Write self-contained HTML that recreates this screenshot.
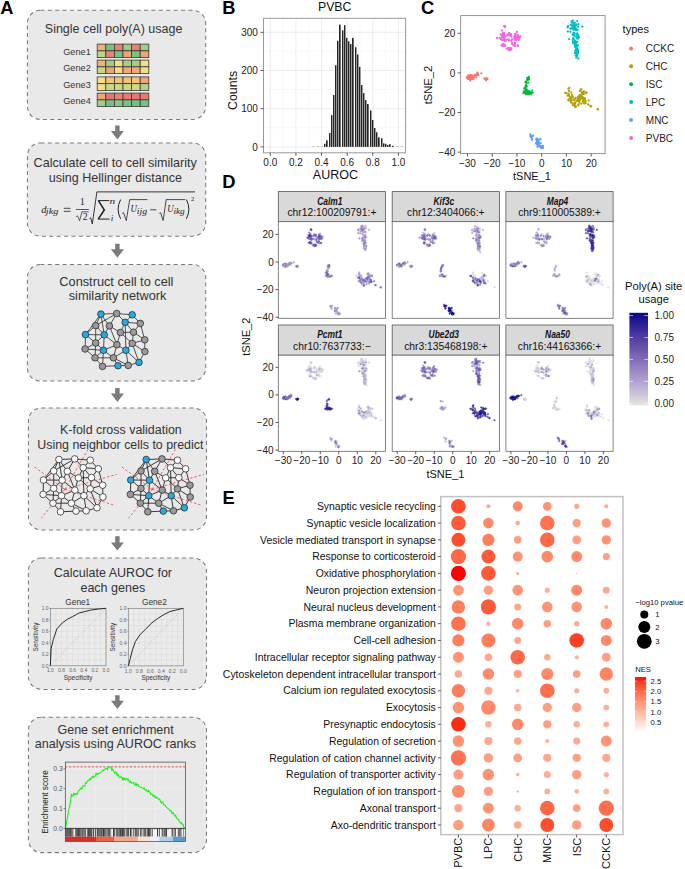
<!DOCTYPE html>
<html><head><meta charset="utf-8"><style>
html,body{margin:0;padding:0;background:#fff;}
svg{display:block;}
text{font-family:"Liberation Sans", sans-serif;}
.c circle{r:1.15px;}
.d circle{r:0.8px;}
.d{fill-opacity:.5;stroke-width:.45;stroke-opacity:.9;}
.q0{fill:#e4e4e4;stroke:#e4e4e4}.q1{fill:#dbd9e0;stroke:#dbd9e0}.q2{fill:#d3cfdd;stroke:#d3cfdd}.q3{fill:#cbc4da;stroke:#cbc4da}.q4{fill:#c2bad6;stroke:#c2bad6}.q5{fill:#baafd3;stroke:#baafd3}.q6{fill:#b2a5d0;stroke:#b2a5d0}.q7{fill:#a99bcc;stroke:#a99bcc}.q8{fill:#a192c8;stroke:#a192c8}.q9{fill:#9988c4;stroke:#9988c4}.q10{fill:#907fc0;stroke:#907fc0}.q11{fill:#8875bc;stroke:#8875bc}.q12{fill:#806cb8;stroke:#806cb8}.q13{fill:#7763b4;stroke:#7763b4}.q14{fill:#6f5ab0;stroke:#6f5ab0}.q15{fill:#6752ac;stroke:#6752ac}.q16{fill:#5e49a8;stroke:#5e49a8}.q17{fill:#5640a4;stroke:#5640a4}.q18{fill:#4e38a0;stroke:#4e38a0}.q19{fill:#42309c;stroke:#42309c}.q20{fill:#362798;stroke:#362798}.q21{fill:#2b2094;stroke:#2b2094}.q22{fill:#1f1890;stroke:#1f1890}.q23{fill:#130f8c;stroke:#130f8c}.q24{fill:#080888;stroke:#080888}
</style></head><body>
<svg width="685" height="869" viewBox="0 0 685 869">
<text x="0.3" y="14" font-size="18.3" fill="#000" font-weight="bold">A</text>
<text x="222.2" y="14" font-size="18.3" fill="#000" font-weight="bold">B</text>
<text x="421" y="14" font-size="18.3" fill="#000" font-weight="bold">C</text>
<text x="222.2" y="188.4" font-size="18.3" fill="#000" font-weight="bold">D</text>
<text x="222.6" y="504.2" font-size="18.3" fill="#000" font-weight="bold">E</text>
<rect x="27.4" y="10.3" width="178.3" height="109.1" rx="13" ry="13" fill="#e9e9e9" stroke="#7a7a7a" stroke-width="1.05" stroke-dasharray="4 3.4"/>
<rect x="27.4" y="142.9" width="178.3" height="93.3" rx="13" ry="13" fill="#e9e9e9" stroke="#7a7a7a" stroke-width="1.05" stroke-dasharray="4 3.4"/>
<rect x="27.4" y="264.5" width="178.3" height="116.5" rx="13" ry="13" fill="#e9e9e9" stroke="#7a7a7a" stroke-width="1.05" stroke-dasharray="4 3.4"/>
<rect x="28.4" y="408" width="178.1" height="122" rx="13" ry="13" fill="#e9e9e9" stroke="#7a7a7a" stroke-width="1.05" stroke-dasharray="4 3.4"/>
<rect x="28.4" y="558" width="178.1" height="131.4" rx="13" ry="13" fill="#e9e9e9" stroke="#7a7a7a" stroke-width="1.05" stroke-dasharray="4 3.4"/>
<rect x="28.4" y="717.3" width="178.1" height="135.3" rx="13" ry="13" fill="#e9e9e9" stroke="#7a7a7a" stroke-width="1.05" stroke-dasharray="4 3.4"/>
<path d="M115.2,125.4 L119.6,125.4 L119.6,131 L123.9,131 L117.4,139.4 L110.9,131 L115.2,131 Z" fill="#7b7b7b"/>
<path d="M115.2,243.8 L119.6,243.8 L119.6,249.3 L123.9,249.3 L117.4,257.7 L110.9,249.3 L115.2,249.3 Z" fill="#7b7b7b"/>
<path d="M115.2,387.9 L119.6,387.9 L119.6,393.5 L123.9,393.5 L117.4,401.9 L110.9,393.5 L115.2,393.5 Z" fill="#7b7b7b"/>
<path d="M115.2,536.3 L119.6,536.3 L119.6,542.4 L123.9,542.4 L117.4,550.5 L110.9,542.4 L115.2,542.4 Z" fill="#7b7b7b"/>
<path d="M115.2,695.2 L119.6,695.2 L119.6,700.8 L123.9,700.8 L117.4,709 L110.9,700.8 L115.2,700.8 Z" fill="#7b7b7b"/>
<text x="44.8" y="32.7" font-size="12.5" fill="#333">Single cell poly(A) usage</text>
<text x="63.2" y="54.7" font-size="9.2" fill="#333">Gene1</text>
<rect x="97.2" y="44.1" width="8.6" height="6.75" fill="#f0b275" stroke="#3a3a3a" stroke-width="0.8"/>
<rect x="105.8" y="44.1" width="8.6" height="6.75" fill="#79c183" stroke="#3a3a3a" stroke-width="0.8"/>
<rect x="114.4" y="44.1" width="8.6" height="6.75" fill="#ea8272" stroke="#3a3a3a" stroke-width="0.8"/>
<rect x="123" y="44.1" width="8.6" height="6.75" fill="#9dcb83" stroke="#3a3a3a" stroke-width="0.8"/>
<rect x="131.6" y="44.1" width="8.6" height="6.75" fill="#ea8272" stroke="#3a3a3a" stroke-width="0.8"/>
<rect x="140.2" y="44.1" width="8.6" height="6.75" fill="#a2cc83" stroke="#3a3a3a" stroke-width="0.8"/>
<rect x="97.2" y="50.85" width="8.6" height="6.75" fill="#bcd383" stroke="#3a3a3a" stroke-width="0.8"/>
<rect x="105.8" y="50.85" width="8.6" height="6.75" fill="#ea8272" stroke="#3a3a3a" stroke-width="0.8"/>
<rect x="114.4" y="50.85" width="8.6" height="6.75" fill="#79c183" stroke="#3a3a3a" stroke-width="0.8"/>
<rect x="123" y="50.85" width="8.6" height="6.75" fill="#f0a476" stroke="#3a3a3a" stroke-width="0.8"/>
<rect x="131.6" y="50.85" width="8.6" height="6.75" fill="#79c183" stroke="#3a3a3a" stroke-width="0.8"/>
<rect x="140.2" y="50.85" width="8.6" height="6.75" fill="#f0a476" stroke="#3a3a3a" stroke-width="0.8"/>
<text x="63.2" y="70.7" font-size="9.2" fill="#333">Gene2</text>
<rect x="97.2" y="60.1" width="8.6" height="6.75" fill="#f0b275" stroke="#3a3a3a" stroke-width="0.8"/>
<rect x="105.8" y="60.1" width="8.6" height="6.75" fill="#a2cc83" stroke="#3a3a3a" stroke-width="0.8"/>
<rect x="114.4" y="60.1" width="8.6" height="6.75" fill="#f1de85" stroke="#3a3a3a" stroke-width="0.8"/>
<rect x="123" y="60.1" width="8.6" height="6.75" fill="#a8ce83" stroke="#3a3a3a" stroke-width="0.8"/>
<rect x="131.6" y="60.1" width="8.6" height="6.75" fill="#a8ce83" stroke="#3a3a3a" stroke-width="0.8"/>
<rect x="140.2" y="60.1" width="8.6" height="6.75" fill="#f1de85" stroke="#3a3a3a" stroke-width="0.8"/>
<rect x="97.2" y="66.85" width="8.6" height="6.75" fill="#c7d884" stroke="#3a3a3a" stroke-width="0.8"/>
<rect x="105.8" y="66.85" width="8.6" height="6.75" fill="#f0a476" stroke="#3a3a3a" stroke-width="0.8"/>
<rect x="114.4" y="66.85" width="8.6" height="6.75" fill="#f1de85" stroke="#3a3a3a" stroke-width="0.8"/>
<rect x="123" y="66.85" width="8.6" height="6.75" fill="#f0aa77" stroke="#3a3a3a" stroke-width="0.8"/>
<rect x="131.6" y="66.85" width="8.6" height="6.75" fill="#f0aa77" stroke="#3a3a3a" stroke-width="0.8"/>
<rect x="140.2" y="66.85" width="8.6" height="6.75" fill="#f1de85" stroke="#3a3a3a" stroke-width="0.8"/>
<text x="63.2" y="87.5" font-size="9.2" fill="#333">Gene3</text>
<rect x="97.2" y="76.9" width="8.6" height="6.75" fill="#f1de85" stroke="#3a3a3a" stroke-width="0.8"/>
<rect x="105.8" y="76.9" width="8.6" height="6.75" fill="#f0c27a" stroke="#3a3a3a" stroke-width="0.8"/>
<rect x="114.4" y="76.9" width="8.6" height="6.75" fill="#f0c27a" stroke="#3a3a3a" stroke-width="0.8"/>
<rect x="123" y="76.9" width="8.6" height="6.75" fill="#f0c27a" stroke="#3a3a3a" stroke-width="0.8"/>
<rect x="131.6" y="76.9" width="8.6" height="6.75" fill="#f0c27a" stroke="#3a3a3a" stroke-width="0.8"/>
<rect x="140.2" y="76.9" width="8.6" height="6.75" fill="#f0a476" stroke="#3a3a3a" stroke-width="0.8"/>
<rect x="97.2" y="83.65" width="8.6" height="6.75" fill="#f1de85" stroke="#3a3a3a" stroke-width="0.8"/>
<rect x="105.8" y="83.65" width="8.6" height="6.75" fill="#c9d884" stroke="#3a3a3a" stroke-width="0.8"/>
<rect x="114.4" y="83.65" width="8.6" height="6.75" fill="#c9d884" stroke="#3a3a3a" stroke-width="0.8"/>
<rect x="123" y="83.65" width="8.6" height="6.75" fill="#c9d884" stroke="#3a3a3a" stroke-width="0.8"/>
<rect x="131.6" y="83.65" width="8.6" height="6.75" fill="#d0d985" stroke="#3a3a3a" stroke-width="0.8"/>
<rect x="140.2" y="83.65" width="8.6" height="6.75" fill="#b4d083" stroke="#3a3a3a" stroke-width="0.8"/>
<text x="63.2" y="103.7" font-size="9.2" fill="#333">Gene4</text>
<rect x="97.2" y="93.1" width="8.6" height="6.75" fill="#f0a476" stroke="#3a3a3a" stroke-width="0.8"/>
<rect x="105.8" y="93.1" width="8.6" height="6.75" fill="#e87474" stroke="#3a3a3a" stroke-width="0.8"/>
<rect x="114.4" y="93.1" width="8.6" height="6.75" fill="#ea8272" stroke="#3a3a3a" stroke-width="0.8"/>
<rect x="123" y="93.1" width="8.6" height="6.75" fill="#e87a72" stroke="#3a3a3a" stroke-width="0.8"/>
<rect x="131.6" y="93.1" width="8.6" height="6.75" fill="#e87474" stroke="#3a3a3a" stroke-width="0.8"/>
<rect x="140.2" y="93.1" width="8.6" height="6.75" fill="#e87a72" stroke="#3a3a3a" stroke-width="0.8"/>
<rect x="97.2" y="99.85" width="8.6" height="6.75" fill="#a2cc83" stroke="#3a3a3a" stroke-width="0.8"/>
<rect x="105.8" y="99.85" width="8.6" height="6.75" fill="#72c081" stroke="#3a3a3a" stroke-width="0.8"/>
<rect x="114.4" y="99.85" width="8.6" height="6.75" fill="#8ac682" stroke="#3a3a3a" stroke-width="0.8"/>
<rect x="123" y="99.85" width="8.6" height="6.75" fill="#79c183" stroke="#3a3a3a" stroke-width="0.8"/>
<rect x="131.6" y="99.85" width="8.6" height="6.75" fill="#72c081" stroke="#3a3a3a" stroke-width="0.8"/>
<rect x="140.2" y="99.85" width="8.6" height="6.75" fill="#79c183" stroke="#3a3a3a" stroke-width="0.8"/>
<text x="115.2" y="167.1" font-size="12.55" fill="#333" text-anchor="middle">Calculate cell to cell similarity</text>
<text x="115.4" y="181.5" font-size="12.55" fill="#333" text-anchor="middle">using Hellinger distance</text>
<text x="41.2" y="213.1" font-size="10.5" fill="#222" font-style="italic" textLength="5.2" lengthAdjust="spacingAndGlyphs" style='font-family:"Liberation Serif", serif'>d</text>
<text x="45.8" y="214.4" font-size="8.4" fill="#222" font-style="italic" textLength="12.6" lengthAdjust="spacingAndGlyphs" style='font-family:"Liberation Serif", serif'>jkg</text>
<path d="M63.8,208.3 L70.6,208.3 M63.8,211.3 L70.6,211.3" stroke="#222" stroke-width="0.8" fill="none"/>
<text x="82.3" y="204.9" font-size="9.3" fill="#222" text-anchor="middle" style='font-family:"Liberation Serif", serif'>1</text>
<line x1="76" y1="209.5" x2="88.9" y2="209.5" stroke="#222" stroke-width="0.75"/>
<path d="M76.3,216.6 L77.6,215.9 L79.6,220.8 L81.9,211.8 L88.6,211.8" fill="none" stroke="#222" stroke-width="0.7"/>
<text x="85.1" y="220.3" font-size="9.8" fill="#222" text-anchor="middle" style='font-family:"Liberation Serif", serif'>2</text>
<path d="M89.4,218.6 L90.7,217.8 L92.3,223.9 L96.9,191.9 L195,191.9" fill="none" stroke="#222" stroke-width="0.9"/>
<path d="M109.2,200.6 L98.4,200.6 L104.3,209.9 L98.2,219.1 L109.6,219.1" fill="none" stroke="#222" stroke-width="1.0"/>
<path d="M98.4,200.6 L104.3,209.9 L98.2,219.1" fill="none" stroke="#222" stroke-width="1.5"/>
<text x="109.6" y="204.3" font-size="8.4" fill="#222" font-style="italic" textLength="5.6" lengthAdjust="spacingAndGlyphs" style='font-family:"Liberation Serif", serif'>n</text>
<text x="110.7" y="220.6" font-size="8.4" fill="#222" font-style="italic" textLength="2.6" lengthAdjust="spacingAndGlyphs" style='font-family:"Liberation Serif", serif'>i</text>
<path d="M120.6,199.6 Q115.6,209.2 120.6,218.8" fill="none" stroke="#222" stroke-width="1"/>
<path d="M186.4,199.6 Q191.4,209.2 186.4,218.8" fill="none" stroke="#222" stroke-width="1"/>
<path d="M122.2,213.4 L123.5,212.7 L126.3,220.6 L129.7,199.6 L147.4,199.6" fill="none" stroke="#222" stroke-width="0.8"/>
<path d="M159.3,213.4 L160.6,212.7 L163.1,220.6 L166.2,199.6 L185.1,199.6" fill="none" stroke="#222" stroke-width="0.8"/>
<text x="130.4" y="211.9" font-size="10.0" fill="#222" font-style="italic" textLength="6.4" lengthAdjust="spacingAndGlyphs" style='font-family:"Liberation Serif", serif'>U</text>
<text x="136.8" y="213.6" font-size="8.2" fill="#222" font-style="italic" textLength="10.3" lengthAdjust="spacingAndGlyphs" style='font-family:"Liberation Serif", serif'>ijg</text>
<line x1="150.2" y1="209.8" x2="156.3" y2="209.8" stroke="#222" stroke-width="0.8"/>
<text x="167.2" y="211.9" font-size="10.0" fill="#222" font-style="italic" textLength="6.4" lengthAdjust="spacingAndGlyphs" style='font-family:"Liberation Serif", serif'>U</text>
<text x="173.4" y="213.6" font-size="8.2" fill="#222" font-style="italic" textLength="11.4" lengthAdjust="spacingAndGlyphs" style='font-family:"Liberation Serif", serif'>ikg</text>
<text x="190.9" y="200.9" font-size="6.5" fill="#222" style='font-family:"Liberation Serif", serif'>2</text>
<text x="116.4" y="286.1" font-size="12.75" fill="#333" text-anchor="middle">Construct cell to cell</text>
<text x="117.6" y="300.4" font-size="12.75" fill="#333" text-anchor="middle">similarity network</text>
<g transform="translate(42,-145.4)"><line x1="58.9" y1="459.5" x2="74.7" y2="458.9" stroke="#333" stroke-width="0.85"/><line x1="74.7" y1="458.9" x2="90.2" y2="460.2" stroke="#333" stroke-width="0.85"/><line x1="58.9" y1="459.5" x2="43.5" y2="480" stroke="#333" stroke-width="0.85"/><line x1="58.9" y1="459.5" x2="53.7" y2="471.0" stroke="#333" stroke-width="0.85"/><line x1="58.9" y1="459.5" x2="67.4" y2="471.3" stroke="#333" stroke-width="0.85"/><line x1="58.9" y1="459.5" x2="62.2" y2="480.2" stroke="#333" stroke-width="0.85"/><line x1="74.7" y1="458.9" x2="67.4" y2="471.3" stroke="#333" stroke-width="0.85"/><line x1="74.7" y1="458.9" x2="83.2" y2="467.7" stroke="#333" stroke-width="0.85"/><line x1="74.7" y1="458.9" x2="53.7" y2="471.0" stroke="#333" stroke-width="0.85"/><line x1="90.2" y1="460.2" x2="83.2" y2="467.7" stroke="#333" stroke-width="0.85"/><line x1="90.2" y1="460.2" x2="98.3" y2="468.8" stroke="#333" stroke-width="0.85"/><line x1="83.2" y1="467.7" x2="98.3" y2="468.8" stroke="#333" stroke-width="0.85"/><line x1="83.2" y1="467.7" x2="78.4" y2="477.9" stroke="#333" stroke-width="0.85"/><line x1="83.2" y1="467.7" x2="91.5" y2="477.6" stroke="#333" stroke-width="0.85"/><line x1="83.2" y1="467.7" x2="83.9" y2="495.7" stroke="#333" stroke-width="0.85"/><line x1="98.3" y1="468.8" x2="91.5" y2="477.6" stroke="#333" stroke-width="0.85"/><line x1="98.3" y1="468.8" x2="102.7" y2="485.2" stroke="#333" stroke-width="0.85"/><line x1="53.7" y1="471.0" x2="43.5" y2="480" stroke="#333" stroke-width="0.85"/><line x1="53.7" y1="471.0" x2="62.2" y2="480.2" stroke="#333" stroke-width="0.85"/><line x1="53.7" y1="471.0" x2="53.7" y2="488.4" stroke="#333" stroke-width="0.85"/><line x1="67.4" y1="471.3" x2="62.2" y2="480.2" stroke="#333" stroke-width="0.85"/><line x1="67.4" y1="471.3" x2="78.4" y2="477.9" stroke="#333" stroke-width="0.85"/><line x1="67.4" y1="471.3" x2="74.9" y2="490.1" stroke="#333" stroke-width="0.85"/><line x1="43.5" y1="480" x2="62.2" y2="480.2" stroke="#333" stroke-width="0.85"/><line x1="43.5" y1="480" x2="53.7" y2="488.4" stroke="#333" stroke-width="0.85"/><line x1="43.5" y1="480" x2="43.1" y2="494.4" stroke="#333" stroke-width="0.85"/><line x1="62.2" y1="480.2" x2="53.7" y2="488.4" stroke="#333" stroke-width="0.85"/><line x1="62.2" y1="480.2" x2="61.5" y2="495.7" stroke="#333" stroke-width="0.85"/><line x1="62.2" y1="480.2" x2="74.9" y2="490.1" stroke="#333" stroke-width="0.85"/><line x1="78.4" y1="477.9" x2="74.9" y2="490.1" stroke="#333" stroke-width="0.85"/><line x1="78.4" y1="477.9" x2="91.5" y2="477.6" stroke="#333" stroke-width="0.85"/><line x1="91.5" y1="477.6" x2="90.2" y2="488.8" stroke="#333" stroke-width="0.85"/><line x1="91.5" y1="477.6" x2="102.7" y2="485.2" stroke="#333" stroke-width="0.85"/><line x1="78.4" y1="477.9" x2="90.2" y2="488.8" stroke="#333" stroke-width="0.85"/><line x1="53.7" y1="488.4" x2="43.1" y2="494.4" stroke="#333" stroke-width="0.85"/><line x1="53.7" y1="488.4" x2="61.5" y2="495.7" stroke="#333" stroke-width="0.85"/><line x1="53.7" y1="488.4" x2="53" y2="503.2" stroke="#333" stroke-width="0.85"/><line x1="74.9" y1="490.1" x2="83.9" y2="495.7" stroke="#333" stroke-width="0.85"/><line x1="74.9" y1="490.1" x2="71.4" y2="503.2" stroke="#333" stroke-width="0.85"/><line x1="74.9" y1="490.1" x2="61.5" y2="495.7" stroke="#333" stroke-width="0.85"/><line x1="90.2" y1="488.8" x2="83.9" y2="495.7" stroke="#333" stroke-width="0.85"/><line x1="90.2" y1="488.8" x2="102.9" y2="497" stroke="#333" stroke-width="0.85"/><line x1="90.2" y1="488.8" x2="102.7" y2="485.2" stroke="#333" stroke-width="0.85"/><line x1="102.7" y1="485.2" x2="102.9" y2="497" stroke="#333" stroke-width="0.85"/><line x1="90.2" y1="488.8" x2="97" y2="507.8" stroke="#333" stroke-width="0.85"/><line x1="43.1" y1="494.4" x2="53" y2="503.2" stroke="#333" stroke-width="0.85"/><line x1="43.1" y1="494.4" x2="61.5" y2="495.7" stroke="#333" stroke-width="0.85"/><line x1="61.5" y1="495.7" x2="53" y2="503.2" stroke="#333" stroke-width="0.85"/><line x1="61.5" y1="495.7" x2="71.4" y2="503.2" stroke="#333" stroke-width="0.85"/><line x1="61.5" y1="495.7" x2="60.5" y2="511.8" stroke="#333" stroke-width="0.85"/><line x1="83.9" y1="495.7" x2="71.4" y2="503.2" stroke="#333" stroke-width="0.85"/><line x1="83.9" y1="495.7" x2="86.2" y2="510.8" stroke="#333" stroke-width="0.85"/><line x1="83.9" y1="495.7" x2="97" y2="507.8" stroke="#333" stroke-width="0.85"/><line x1="102.9" y1="497" x2="97" y2="507.8" stroke="#333" stroke-width="0.85"/><line x1="53" y1="503.2" x2="60.5" y2="511.8" stroke="#333" stroke-width="0.85"/><line x1="71.4" y1="503.2" x2="76" y2="511.1" stroke="#333" stroke-width="0.85"/><line x1="60.5" y1="511.8" x2="76" y2="511.1" stroke="#333" stroke-width="0.85"/><line x1="76" y1="511.1" x2="86.2" y2="510.8" stroke="#333" stroke-width="0.85"/><line x1="86.2" y1="510.8" x2="97" y2="507.8" stroke="#333" stroke-width="0.85"/><line x1="71.4" y1="503.2" x2="86.2" y2="510.8" stroke="#333" stroke-width="0.85"/><line x1="53" y1="503.2" x2="71.4" y2="503.2" stroke="#333" stroke-width="0.85"/><circle cx="58.9" cy="459.5" r="3.3" fill="#27a9e1" stroke="#2e2e2e" stroke-width="0.8"/><circle cx="74.7" cy="458.9" r="3.3" fill="#9a9a9a" stroke="#2e2e2e" stroke-width="0.8"/><circle cx="90.2" cy="460.2" r="3.3" fill="#27a9e1" stroke="#2e2e2e" stroke-width="0.8"/><circle cx="53.7" cy="471.0" r="3.3" fill="#9a9a9a" stroke="#2e2e2e" stroke-width="0.8"/><circle cx="67.4" cy="471.3" r="3.3" fill="#9a9a9a" stroke="#2e2e2e" stroke-width="0.8"/><circle cx="83.2" cy="467.7" r="3.3" fill="#27a9e1" stroke="#2e2e2e" stroke-width="0.8"/><circle cx="98.3" cy="468.8" r="3.3" fill="#9a9a9a" stroke="#2e2e2e" stroke-width="0.8"/><circle cx="43.5" cy="480" r="3.3" fill="#27a9e1" stroke="#2e2e2e" stroke-width="0.8"/><circle cx="62.2" cy="480.2" r="3.3" fill="#27a9e1" stroke="#2e2e2e" stroke-width="0.8"/><circle cx="78.4" cy="477.9" r="3.3" fill="#9a9a9a" stroke="#2e2e2e" stroke-width="0.8"/><circle cx="91.5" cy="477.6" r="3.3" fill="#9a9a9a" stroke="#2e2e2e" stroke-width="0.8"/><circle cx="53.7" cy="488.4" r="3.3" fill="#9a9a9a" stroke="#2e2e2e" stroke-width="0.8"/><circle cx="74.9" cy="490.1" r="3.3" fill="#9a9a9a" stroke="#2e2e2e" stroke-width="0.8"/><circle cx="90.2" cy="488.8" r="3.3" fill="#9a9a9a" stroke="#2e2e2e" stroke-width="0.8"/><circle cx="102.7" cy="485.2" r="3.3" fill="#9a9a9a" stroke="#2e2e2e" stroke-width="0.8"/><circle cx="43.1" cy="494.4" r="3.3" fill="#9a9a9a" stroke="#2e2e2e" stroke-width="0.8"/><circle cx="61.5" cy="495.7" r="3.3" fill="#27a9e1" stroke="#2e2e2e" stroke-width="0.8"/><circle cx="83.9" cy="495.7" r="3.3" fill="#27a9e1" stroke="#2e2e2e" stroke-width="0.8"/><circle cx="102.9" cy="497" r="3.3" fill="#9a9a9a" stroke="#2e2e2e" stroke-width="0.8"/><circle cx="53" cy="503.2" r="3.3" fill="#9a9a9a" stroke="#2e2e2e" stroke-width="0.8"/><circle cx="71.4" cy="503.2" r="3.3" fill="#9a9a9a" stroke="#2e2e2e" stroke-width="0.8"/><circle cx="97" cy="507.8" r="3.3" fill="#27a9e1" stroke="#2e2e2e" stroke-width="0.8"/><circle cx="60.5" cy="511.8" r="3.3" fill="#9a9a9a" stroke="#2e2e2e" stroke-width="0.8"/><circle cx="76" cy="511.1" r="3.3" fill="#27a9e1" stroke="#2e2e2e" stroke-width="0.8"/><circle cx="86.2" cy="510.8" r="3.3" fill="#9a9a9a" stroke="#2e2e2e" stroke-width="0.8"/></g>
<text x="120.9" y="434.2" font-size="12.45" fill="#333" text-anchor="middle">K-fold cross validation</text>
<text x="120.35" y="448.6" font-size="12.42" fill="#333" text-anchor="middle">Using neighbor cells to predict</text>
<g transform="translate(0,0)"><line x1="58.9" y1="459.5" x2="74.7" y2="458.9" stroke="#1a1a1a" stroke-width="0.85"/><line x1="74.7" y1="458.9" x2="90.2" y2="460.2" stroke="#1a1a1a" stroke-width="0.85"/><line x1="58.9" y1="459.5" x2="43.5" y2="480" stroke="#1a1a1a" stroke-width="0.85"/><line x1="58.9" y1="459.5" x2="53.7" y2="471.0" stroke="#1a1a1a" stroke-width="0.85"/><line x1="58.9" y1="459.5" x2="67.4" y2="471.3" stroke="#1a1a1a" stroke-width="0.85"/><line x1="58.9" y1="459.5" x2="62.2" y2="480.2" stroke="#1a1a1a" stroke-width="0.85"/><line x1="74.7" y1="458.9" x2="67.4" y2="471.3" stroke="#1a1a1a" stroke-width="0.85"/><line x1="74.7" y1="458.9" x2="83.2" y2="467.7" stroke="#1a1a1a" stroke-width="0.85"/><line x1="74.7" y1="458.9" x2="53.7" y2="471.0" stroke="#1a1a1a" stroke-width="0.85"/><line x1="90.2" y1="460.2" x2="83.2" y2="467.7" stroke="#1a1a1a" stroke-width="0.85"/><line x1="90.2" y1="460.2" x2="98.3" y2="468.8" stroke="#1a1a1a" stroke-width="0.85"/><line x1="83.2" y1="467.7" x2="98.3" y2="468.8" stroke="#1a1a1a" stroke-width="0.85"/><line x1="83.2" y1="467.7" x2="78.4" y2="477.9" stroke="#1a1a1a" stroke-width="0.85"/><line x1="83.2" y1="467.7" x2="91.5" y2="477.6" stroke="#1a1a1a" stroke-width="0.85"/><line x1="83.2" y1="467.7" x2="83.9" y2="495.7" stroke="#1a1a1a" stroke-width="0.85"/><line x1="98.3" y1="468.8" x2="91.5" y2="477.6" stroke="#1a1a1a" stroke-width="0.85"/><line x1="98.3" y1="468.8" x2="102.7" y2="485.2" stroke="#1a1a1a" stroke-width="0.85"/><line x1="53.7" y1="471.0" x2="43.5" y2="480" stroke="#1a1a1a" stroke-width="0.85"/><line x1="53.7" y1="471.0" x2="62.2" y2="480.2" stroke="#1a1a1a" stroke-width="0.85"/><line x1="53.7" y1="471.0" x2="53.7" y2="488.4" stroke="#1a1a1a" stroke-width="0.85"/><line x1="67.4" y1="471.3" x2="62.2" y2="480.2" stroke="#1a1a1a" stroke-width="0.85"/><line x1="67.4" y1="471.3" x2="78.4" y2="477.9" stroke="#1a1a1a" stroke-width="0.85"/><line x1="67.4" y1="471.3" x2="74.9" y2="490.1" stroke="#1a1a1a" stroke-width="0.85"/><line x1="43.5" y1="480" x2="62.2" y2="480.2" stroke="#1a1a1a" stroke-width="0.85"/><line x1="43.5" y1="480" x2="53.7" y2="488.4" stroke="#1a1a1a" stroke-width="0.85"/><line x1="43.5" y1="480" x2="43.1" y2="494.4" stroke="#1a1a1a" stroke-width="0.85"/><line x1="62.2" y1="480.2" x2="53.7" y2="488.4" stroke="#1a1a1a" stroke-width="0.85"/><line x1="62.2" y1="480.2" x2="61.5" y2="495.7" stroke="#1a1a1a" stroke-width="0.85"/><line x1="62.2" y1="480.2" x2="74.9" y2="490.1" stroke="#1a1a1a" stroke-width="0.85"/><line x1="78.4" y1="477.9" x2="74.9" y2="490.1" stroke="#1a1a1a" stroke-width="0.85"/><line x1="78.4" y1="477.9" x2="91.5" y2="477.6" stroke="#1a1a1a" stroke-width="0.85"/><line x1="91.5" y1="477.6" x2="90.2" y2="488.8" stroke="#1a1a1a" stroke-width="0.85"/><line x1="91.5" y1="477.6" x2="102.7" y2="485.2" stroke="#1a1a1a" stroke-width="0.85"/><line x1="78.4" y1="477.9" x2="90.2" y2="488.8" stroke="#1a1a1a" stroke-width="0.85"/><line x1="53.7" y1="488.4" x2="43.1" y2="494.4" stroke="#1a1a1a" stroke-width="0.85"/><line x1="53.7" y1="488.4" x2="61.5" y2="495.7" stroke="#1a1a1a" stroke-width="0.85"/><line x1="53.7" y1="488.4" x2="53" y2="503.2" stroke="#1a1a1a" stroke-width="0.85"/><line x1="74.9" y1="490.1" x2="83.9" y2="495.7" stroke="#1a1a1a" stroke-width="0.85"/><line x1="74.9" y1="490.1" x2="71.4" y2="503.2" stroke="#1a1a1a" stroke-width="0.85"/><line x1="74.9" y1="490.1" x2="61.5" y2="495.7" stroke="#1a1a1a" stroke-width="0.85"/><line x1="90.2" y1="488.8" x2="83.9" y2="495.7" stroke="#1a1a1a" stroke-width="0.85"/><line x1="90.2" y1="488.8" x2="102.9" y2="497" stroke="#1a1a1a" stroke-width="0.85"/><line x1="90.2" y1="488.8" x2="102.7" y2="485.2" stroke="#1a1a1a" stroke-width="0.85"/><line x1="102.7" y1="485.2" x2="102.9" y2="497" stroke="#1a1a1a" stroke-width="0.85"/><line x1="90.2" y1="488.8" x2="97" y2="507.8" stroke="#1a1a1a" stroke-width="0.85"/><line x1="43.1" y1="494.4" x2="53" y2="503.2" stroke="#1a1a1a" stroke-width="0.85"/><line x1="43.1" y1="494.4" x2="61.5" y2="495.7" stroke="#1a1a1a" stroke-width="0.85"/><line x1="61.5" y1="495.7" x2="53" y2="503.2" stroke="#1a1a1a" stroke-width="0.85"/><line x1="61.5" y1="495.7" x2="71.4" y2="503.2" stroke="#1a1a1a" stroke-width="0.85"/><line x1="61.5" y1="495.7" x2="60.5" y2="511.8" stroke="#1a1a1a" stroke-width="0.85"/><line x1="83.9" y1="495.7" x2="71.4" y2="503.2" stroke="#1a1a1a" stroke-width="0.85"/><line x1="83.9" y1="495.7" x2="86.2" y2="510.8" stroke="#1a1a1a" stroke-width="0.85"/><line x1="83.9" y1="495.7" x2="97" y2="507.8" stroke="#1a1a1a" stroke-width="0.85"/><line x1="102.9" y1="497" x2="97" y2="507.8" stroke="#1a1a1a" stroke-width="0.85"/><line x1="53" y1="503.2" x2="60.5" y2="511.8" stroke="#1a1a1a" stroke-width="0.85"/><line x1="71.4" y1="503.2" x2="76" y2="511.1" stroke="#1a1a1a" stroke-width="0.85"/><line x1="60.5" y1="511.8" x2="76" y2="511.1" stroke="#1a1a1a" stroke-width="0.85"/><line x1="76" y1="511.1" x2="86.2" y2="510.8" stroke="#1a1a1a" stroke-width="0.85"/><line x1="86.2" y1="510.8" x2="97" y2="507.8" stroke="#1a1a1a" stroke-width="0.85"/><line x1="71.4" y1="503.2" x2="86.2" y2="510.8" stroke="#1a1a1a" stroke-width="0.85"/><line x1="53" y1="503.2" x2="71.4" y2="503.2" stroke="#1a1a1a" stroke-width="0.85"/><line x1="64.8" y1="489.4" x2="33.9" y2="466.4" stroke="#f03c3c" stroke-width="0.8" stroke-dasharray="2.4 2"/><line x1="64.8" y1="489.4" x2="88.6" y2="448.5" stroke="#f03c3c" stroke-width="0.8" stroke-dasharray="2.4 2"/><line x1="64.8" y1="489.4" x2="116.7" y2="474.3" stroke="#f03c3c" stroke-width="0.8" stroke-dasharray="2.4 2"/><line x1="64.8" y1="489.4" x2="114.1" y2="505.2" stroke="#f03c3c" stroke-width="0.8" stroke-dasharray="2.4 2"/><line x1="64.8" y1="489.4" x2="41.2" y2="518.3" stroke="#f03c3c" stroke-width="0.8" stroke-dasharray="2.4 2"/><circle cx="58.9" cy="459.5" r="3.3" fill="#ffffff" stroke="#2e2e2e" stroke-width="0.8"/><circle cx="74.7" cy="458.9" r="3.3" fill="#ffffff" stroke="#2e2e2e" stroke-width="0.8"/><circle cx="90.2" cy="460.2" r="3.3" fill="#ffffff" stroke="#2e2e2e" stroke-width="0.8"/><circle cx="53.7" cy="471.0" r="3.3" fill="#ffffff" stroke="#2e2e2e" stroke-width="0.8"/><circle cx="67.4" cy="471.3" r="3.3" fill="#ffffff" stroke="#2e2e2e" stroke-width="0.8"/><circle cx="83.2" cy="467.7" r="3.3" fill="#ffffff" stroke="#2e2e2e" stroke-width="0.8"/><circle cx="98.3" cy="468.8" r="3.3" fill="#ffffff" stroke="#2e2e2e" stroke-width="0.8"/><circle cx="43.5" cy="480" r="3.3" fill="#ffffff" stroke="#2e2e2e" stroke-width="0.8"/><circle cx="62.2" cy="480.2" r="3.3" fill="#ffffff" stroke="#2e2e2e" stroke-width="0.8"/><circle cx="78.4" cy="477.9" r="3.3" fill="#ffffff" stroke="#2e2e2e" stroke-width="0.8"/><circle cx="91.5" cy="477.6" r="3.3" fill="#ffffff" stroke="#2e2e2e" stroke-width="0.8"/><circle cx="53.7" cy="488.4" r="3.3" fill="#ffffff" stroke="#2e2e2e" stroke-width="0.8"/><circle cx="74.9" cy="490.1" r="3.3" fill="#ffffff" stroke="#2e2e2e" stroke-width="0.8"/><circle cx="90.2" cy="488.8" r="3.3" fill="#ffffff" stroke="#2e2e2e" stroke-width="0.8"/><circle cx="102.7" cy="485.2" r="3.3" fill="#ffffff" stroke="#2e2e2e" stroke-width="0.8"/><circle cx="43.1" cy="494.4" r="3.3" fill="#ffffff" stroke="#2e2e2e" stroke-width="0.8"/><circle cx="61.5" cy="495.7" r="3.3" fill="#ffffff" stroke="#2e2e2e" stroke-width="0.8"/><circle cx="83.9" cy="495.7" r="3.3" fill="#ffffff" stroke="#2e2e2e" stroke-width="0.8"/><circle cx="102.9" cy="497" r="3.3" fill="#ffffff" stroke="#2e2e2e" stroke-width="0.8"/><circle cx="53" cy="503.2" r="3.3" fill="#ffffff" stroke="#2e2e2e" stroke-width="0.8"/><circle cx="71.4" cy="503.2" r="3.3" fill="#ffffff" stroke="#2e2e2e" stroke-width="0.8"/><circle cx="97" cy="507.8" r="3.3" fill="#ffffff" stroke="#2e2e2e" stroke-width="0.8"/><circle cx="60.5" cy="511.8" r="3.3" fill="#ffffff" stroke="#2e2e2e" stroke-width="0.8"/><circle cx="76" cy="511.1" r="3.3" fill="#ffffff" stroke="#2e2e2e" stroke-width="0.8"/><circle cx="86.2" cy="510.8" r="3.3" fill="#ffffff" stroke="#2e2e2e" stroke-width="0.8"/></g>
<g transform="translate(87.3,0)"><line x1="58.9" y1="459.5" x2="74.7" y2="458.9" stroke="#1a1a1a" stroke-width="0.85"/><line x1="74.7" y1="458.9" x2="90.2" y2="460.2" stroke="#1a1a1a" stroke-width="0.85"/><line x1="58.9" y1="459.5" x2="43.5" y2="480" stroke="#1a1a1a" stroke-width="0.85"/><line x1="58.9" y1="459.5" x2="53.7" y2="471.0" stroke="#1a1a1a" stroke-width="0.85"/><line x1="58.9" y1="459.5" x2="67.4" y2="471.3" stroke="#1a1a1a" stroke-width="0.85"/><line x1="58.9" y1="459.5" x2="62.2" y2="480.2" stroke="#1a1a1a" stroke-width="0.85"/><line x1="74.7" y1="458.9" x2="67.4" y2="471.3" stroke="#1a1a1a" stroke-width="0.85"/><line x1="74.7" y1="458.9" x2="83.2" y2="467.7" stroke="#1a1a1a" stroke-width="0.85"/><line x1="74.7" y1="458.9" x2="53.7" y2="471.0" stroke="#1a1a1a" stroke-width="0.85"/><line x1="90.2" y1="460.2" x2="83.2" y2="467.7" stroke="#1a1a1a" stroke-width="0.85"/><line x1="90.2" y1="460.2" x2="98.3" y2="468.8" stroke="#1a1a1a" stroke-width="0.85"/><line x1="83.2" y1="467.7" x2="98.3" y2="468.8" stroke="#1a1a1a" stroke-width="0.85"/><line x1="83.2" y1="467.7" x2="78.4" y2="477.9" stroke="#1a1a1a" stroke-width="0.85"/><line x1="83.2" y1="467.7" x2="91.5" y2="477.6" stroke="#1a1a1a" stroke-width="0.85"/><line x1="83.2" y1="467.7" x2="83.9" y2="495.7" stroke="#1a1a1a" stroke-width="0.85"/><line x1="98.3" y1="468.8" x2="91.5" y2="477.6" stroke="#1a1a1a" stroke-width="0.85"/><line x1="98.3" y1="468.8" x2="102.7" y2="485.2" stroke="#1a1a1a" stroke-width="0.85"/><line x1="53.7" y1="471.0" x2="43.5" y2="480" stroke="#1a1a1a" stroke-width="0.85"/><line x1="53.7" y1="471.0" x2="62.2" y2="480.2" stroke="#1a1a1a" stroke-width="0.85"/><line x1="53.7" y1="471.0" x2="53.7" y2="488.4" stroke="#1a1a1a" stroke-width="0.85"/><line x1="67.4" y1="471.3" x2="62.2" y2="480.2" stroke="#1a1a1a" stroke-width="0.85"/><line x1="67.4" y1="471.3" x2="78.4" y2="477.9" stroke="#1a1a1a" stroke-width="0.85"/><line x1="67.4" y1="471.3" x2="74.9" y2="490.1" stroke="#1a1a1a" stroke-width="0.85"/><line x1="43.5" y1="480" x2="62.2" y2="480.2" stroke="#1a1a1a" stroke-width="0.85"/><line x1="43.5" y1="480" x2="53.7" y2="488.4" stroke="#1a1a1a" stroke-width="0.85"/><line x1="43.5" y1="480" x2="43.1" y2="494.4" stroke="#1a1a1a" stroke-width="0.85"/><line x1="62.2" y1="480.2" x2="53.7" y2="488.4" stroke="#1a1a1a" stroke-width="0.85"/><line x1="62.2" y1="480.2" x2="61.5" y2="495.7" stroke="#1a1a1a" stroke-width="0.85"/><line x1="62.2" y1="480.2" x2="74.9" y2="490.1" stroke="#1a1a1a" stroke-width="0.85"/><line x1="78.4" y1="477.9" x2="74.9" y2="490.1" stroke="#1a1a1a" stroke-width="0.85"/><line x1="78.4" y1="477.9" x2="91.5" y2="477.6" stroke="#1a1a1a" stroke-width="0.85"/><line x1="91.5" y1="477.6" x2="90.2" y2="488.8" stroke="#1a1a1a" stroke-width="0.85"/><line x1="91.5" y1="477.6" x2="102.7" y2="485.2" stroke="#1a1a1a" stroke-width="0.85"/><line x1="78.4" y1="477.9" x2="90.2" y2="488.8" stroke="#1a1a1a" stroke-width="0.85"/><line x1="53.7" y1="488.4" x2="43.1" y2="494.4" stroke="#1a1a1a" stroke-width="0.85"/><line x1="53.7" y1="488.4" x2="61.5" y2="495.7" stroke="#1a1a1a" stroke-width="0.85"/><line x1="53.7" y1="488.4" x2="53" y2="503.2" stroke="#1a1a1a" stroke-width="0.85"/><line x1="74.9" y1="490.1" x2="83.9" y2="495.7" stroke="#1a1a1a" stroke-width="0.85"/><line x1="74.9" y1="490.1" x2="71.4" y2="503.2" stroke="#1a1a1a" stroke-width="0.85"/><line x1="74.9" y1="490.1" x2="61.5" y2="495.7" stroke="#1a1a1a" stroke-width="0.85"/><line x1="90.2" y1="488.8" x2="83.9" y2="495.7" stroke="#1a1a1a" stroke-width="0.85"/><line x1="90.2" y1="488.8" x2="102.9" y2="497" stroke="#1a1a1a" stroke-width="0.85"/><line x1="90.2" y1="488.8" x2="102.7" y2="485.2" stroke="#1a1a1a" stroke-width="0.85"/><line x1="102.7" y1="485.2" x2="102.9" y2="497" stroke="#1a1a1a" stroke-width="0.85"/><line x1="90.2" y1="488.8" x2="97" y2="507.8" stroke="#1a1a1a" stroke-width="0.85"/><line x1="43.1" y1="494.4" x2="53" y2="503.2" stroke="#1a1a1a" stroke-width="0.85"/><line x1="43.1" y1="494.4" x2="61.5" y2="495.7" stroke="#1a1a1a" stroke-width="0.85"/><line x1="61.5" y1="495.7" x2="53" y2="503.2" stroke="#1a1a1a" stroke-width="0.85"/><line x1="61.5" y1="495.7" x2="71.4" y2="503.2" stroke="#1a1a1a" stroke-width="0.85"/><line x1="61.5" y1="495.7" x2="60.5" y2="511.8" stroke="#1a1a1a" stroke-width="0.85"/><line x1="83.9" y1="495.7" x2="71.4" y2="503.2" stroke="#1a1a1a" stroke-width="0.85"/><line x1="83.9" y1="495.7" x2="86.2" y2="510.8" stroke="#1a1a1a" stroke-width="0.85"/><line x1="83.9" y1="495.7" x2="97" y2="507.8" stroke="#1a1a1a" stroke-width="0.85"/><line x1="102.9" y1="497" x2="97" y2="507.8" stroke="#1a1a1a" stroke-width="0.85"/><line x1="53" y1="503.2" x2="60.5" y2="511.8" stroke="#1a1a1a" stroke-width="0.85"/><line x1="71.4" y1="503.2" x2="76" y2="511.1" stroke="#1a1a1a" stroke-width="0.85"/><line x1="60.5" y1="511.8" x2="76" y2="511.1" stroke="#1a1a1a" stroke-width="0.85"/><line x1="76" y1="511.1" x2="86.2" y2="510.8" stroke="#1a1a1a" stroke-width="0.85"/><line x1="86.2" y1="510.8" x2="97" y2="507.8" stroke="#1a1a1a" stroke-width="0.85"/><line x1="71.4" y1="503.2" x2="86.2" y2="510.8" stroke="#1a1a1a" stroke-width="0.85"/><line x1="53" y1="503.2" x2="71.4" y2="503.2" stroke="#1a1a1a" stroke-width="0.85"/><line x1="64.8" y1="489.4" x2="33.9" y2="466.4" stroke="#f03c3c" stroke-width="0.8" stroke-dasharray="2.4 2"/><line x1="64.8" y1="489.4" x2="88.6" y2="448.5" stroke="#f03c3c" stroke-width="0.8" stroke-dasharray="2.4 2"/><line x1="64.8" y1="489.4" x2="116.7" y2="474.3" stroke="#f03c3c" stroke-width="0.8" stroke-dasharray="2.4 2"/><line x1="64.8" y1="489.4" x2="114.1" y2="505.2" stroke="#f03c3c" stroke-width="0.8" stroke-dasharray="2.4 2"/><line x1="64.8" y1="489.4" x2="41.2" y2="518.3" stroke="#f03c3c" stroke-width="0.8" stroke-dasharray="2.4 2"/><circle cx="58.9" cy="459.5" r="3.3" fill="#27a9e1" stroke="#2e2e2e" stroke-width="0.8"/><circle cx="74.7" cy="458.9" r="3.3" fill="#9a9a9a" stroke="#2e2e2e" stroke-width="0.8"/><circle cx="90.2" cy="460.2" r="3.3" fill="#ffffff" stroke="#2e2e2e" stroke-width="0.8"/><circle cx="53.7" cy="471.0" r="3.3" fill="#9a9a9a" stroke="#2e2e2e" stroke-width="0.8"/><circle cx="67.4" cy="471.3" r="3.3" fill="#9a9a9a" stroke="#2e2e2e" stroke-width="0.8"/><circle cx="83.2" cy="467.7" r="3.3" fill="#ffffff" stroke="#2e2e2e" stroke-width="0.8"/><circle cx="98.3" cy="468.8" r="3.3" fill="#ffffff" stroke="#2e2e2e" stroke-width="0.8"/><circle cx="43.5" cy="480" r="3.3" fill="#27a9e1" stroke="#2e2e2e" stroke-width="0.8"/><circle cx="62.2" cy="480.2" r="3.3" fill="#27a9e1" stroke="#2e2e2e" stroke-width="0.8"/><circle cx="78.4" cy="477.9" r="3.3" fill="#ffffff" stroke="#2e2e2e" stroke-width="0.8"/><circle cx="91.5" cy="477.6" r="3.3" fill="#ffffff" stroke="#2e2e2e" stroke-width="0.8"/><circle cx="53.7" cy="488.4" r="3.3" fill="#9a9a9a" stroke="#2e2e2e" stroke-width="0.8"/><circle cx="74.9" cy="490.1" r="3.3" fill="#9a9a9a" stroke="#2e2e2e" stroke-width="0.8"/><circle cx="90.2" cy="488.8" r="3.3" fill="#9a9a9a" stroke="#2e2e2e" stroke-width="0.8"/><circle cx="102.7" cy="485.2" r="3.3" fill="#9a9a9a" stroke="#2e2e2e" stroke-width="0.8"/><circle cx="43.1" cy="494.4" r="3.3" fill="#9a9a9a" stroke="#2e2e2e" stroke-width="0.8"/><circle cx="61.5" cy="495.7" r="3.3" fill="#27a9e1" stroke="#2e2e2e" stroke-width="0.8"/><circle cx="83.9" cy="495.7" r="3.3" fill="#27a9e1" stroke="#2e2e2e" stroke-width="0.8"/><circle cx="102.9" cy="497" r="3.3" fill="#9a9a9a" stroke="#2e2e2e" stroke-width="0.8"/><circle cx="53" cy="503.2" r="3.3" fill="#9a9a9a" stroke="#2e2e2e" stroke-width="0.8"/><circle cx="71.4" cy="503.2" r="3.3" fill="#9a9a9a" stroke="#2e2e2e" stroke-width="0.8"/><circle cx="97" cy="507.8" r="3.3" fill="#27a9e1" stroke="#2e2e2e" stroke-width="0.8"/><circle cx="60.5" cy="511.8" r="3.3" fill="#9a9a9a" stroke="#2e2e2e" stroke-width="0.8"/><circle cx="76" cy="511.1" r="3.3" fill="#27a9e1" stroke="#2e2e2e" stroke-width="0.8"/><circle cx="86.2" cy="510.8" r="3.3" fill="#9a9a9a" stroke="#2e2e2e" stroke-width="0.8"/></g>
<text x="112.9" y="577.2" font-size="12.53" fill="#333" text-anchor="middle">Calculate AUROC for</text>
<text x="112.8" y="591.7" font-size="12.53" fill="#333" text-anchor="middle">each genes</text>
<rect x="50.4" y="608.3" width="55.6" height="57.5" fill="#ebebeb"/><line x1="50.4" y1="608.3" x2="50.4" y2="665.8" stroke="#d6d6d6" stroke-width="0.5"/><line x1="50.4" y1="608.3" x2="106" y2="608.3" stroke="#d6d6d6" stroke-width="0.5"/><line x1="55.96" y1="608.3" x2="55.96" y2="665.8" stroke="#d6d6d6" stroke-width="0.5"/><line x1="50.4" y1="614.05" x2="106" y2="614.05" stroke="#d6d6d6" stroke-width="0.5"/><line x1="61.52" y1="608.3" x2="61.52" y2="665.8" stroke="#d6d6d6" stroke-width="0.5"/><line x1="50.4" y1="619.8" x2="106" y2="619.8" stroke="#d6d6d6" stroke-width="0.5"/><line x1="67.08" y1="608.3" x2="67.08" y2="665.8" stroke="#d6d6d6" stroke-width="0.5"/><line x1="50.4" y1="625.55" x2="106" y2="625.55" stroke="#d6d6d6" stroke-width="0.5"/><line x1="72.64" y1="608.3" x2="72.64" y2="665.8" stroke="#d6d6d6" stroke-width="0.5"/><line x1="50.4" y1="631.3" x2="106" y2="631.3" stroke="#d6d6d6" stroke-width="0.5"/><line x1="78.2" y1="608.3" x2="78.2" y2="665.8" stroke="#d6d6d6" stroke-width="0.5"/><line x1="50.4" y1="637.05" x2="106" y2="637.05" stroke="#d6d6d6" stroke-width="0.5"/><line x1="83.76" y1="608.3" x2="83.76" y2="665.8" stroke="#d6d6d6" stroke-width="0.5"/><line x1="50.4" y1="642.8" x2="106" y2="642.8" stroke="#d6d6d6" stroke-width="0.5"/><line x1="89.32" y1="608.3" x2="89.32" y2="665.8" stroke="#d6d6d6" stroke-width="0.5"/><line x1="50.4" y1="648.55" x2="106" y2="648.55" stroke="#d6d6d6" stroke-width="0.5"/><line x1="94.88" y1="608.3" x2="94.88" y2="665.8" stroke="#d6d6d6" stroke-width="0.5"/><line x1="50.4" y1="654.3" x2="106" y2="654.3" stroke="#d6d6d6" stroke-width="0.5"/><line x1="100.44" y1="608.3" x2="100.44" y2="665.8" stroke="#d6d6d6" stroke-width="0.5"/><line x1="50.4" y1="660.05" x2="106" y2="660.05" stroke="#d6d6d6" stroke-width="0.5"/><line x1="106" y1="608.3" x2="106" y2="665.8" stroke="#d6d6d6" stroke-width="0.5"/><line x1="50.4" y1="665.8" x2="106" y2="665.8" stroke="#d6d6d6" stroke-width="0.5"/><rect x="50.4" y="608.3" width="55.6" height="57.5" fill="none" stroke="#777" stroke-width="0.6"/><line x1="50.4" y1="665.8" x2="106" y2="608.3" stroke="#aaa" stroke-width="0.5" stroke-dasharray="1.6 1.4"/><path d="M50.4,665.8 L51.12,648.55 L53.4,639.35 L56.85,628.83 L62.35,622.85 L67.58,619.11 L72.81,616.52 L78.81,613.07 L84.76,611.58 L90.77,610.08 L98.22,609.05 L106,608.3" fill="none" stroke="#2a2a2a" stroke-width="1.0"/>
<text x="77.8" y="604.7" font-size="8.3" fill="#333" text-anchor="middle">Gene1</text>
<text x="48.6" y="667.6" font-size="5" fill="#666" text-anchor="end">0.0</text>
<line x1="49.2" y1="665.8" x2="50.4" y2="665.8" stroke="#777" stroke-width="0.5"/>
<text x="48.6" y="656.1" font-size="5" fill="#666" text-anchor="end">0.2</text>
<line x1="49.2" y1="654.3" x2="50.4" y2="654.3" stroke="#777" stroke-width="0.5"/>
<text x="48.6" y="644.6" font-size="5" fill="#666" text-anchor="end">0.4</text>
<line x1="49.2" y1="642.8" x2="50.4" y2="642.8" stroke="#777" stroke-width="0.5"/>
<text x="48.6" y="633.1" font-size="5" fill="#666" text-anchor="end">0.6</text>
<line x1="49.2" y1="631.3" x2="50.4" y2="631.3" stroke="#777" stroke-width="0.5"/>
<text x="48.6" y="621.6" font-size="5" fill="#666" text-anchor="end">0.8</text>
<line x1="49.2" y1="619.8" x2="50.4" y2="619.8" stroke="#777" stroke-width="0.5"/>
<text x="48.6" y="610.1" font-size="5" fill="#666" text-anchor="end">1.0</text>
<line x1="49.2" y1="608.3" x2="50.4" y2="608.3" stroke="#777" stroke-width="0.5"/>
<text x="50.4" y="672.4" font-size="5" fill="#666" text-anchor="middle">1.0</text>
<text x="61.52" y="672.4" font-size="5" fill="#666" text-anchor="middle">0.8</text>
<text x="72.64" y="672.4" font-size="5" fill="#666" text-anchor="middle">0.6</text>
<text x="83.76" y="672.4" font-size="5" fill="#666" text-anchor="middle">0.4</text>
<text x="94.88" y="672.4" font-size="5" fill="#666" text-anchor="middle">0.2</text>
<text x="106" y="672.4" font-size="5" fill="#666" text-anchor="middle">0.0</text>
<text x="78.2" y="680" font-size="6.4" fill="#333" text-anchor="middle">Specificity</text>
<text x="37.6" y="637.05" font-size="6.4" fill="#333" text-anchor="middle" transform="rotate(-90 37.6 637.05)">Sensitivity</text>
<rect x="128.3" y="608.3" width="55" height="57.6" fill="#ebebeb"/><line x1="128.3" y1="608.3" x2="128.3" y2="665.9" stroke="#d6d6d6" stroke-width="0.5"/><line x1="128.3" y1="608.3" x2="183.3" y2="608.3" stroke="#d6d6d6" stroke-width="0.5"/><line x1="133.8" y1="608.3" x2="133.8" y2="665.9" stroke="#d6d6d6" stroke-width="0.5"/><line x1="128.3" y1="614.06" x2="183.3" y2="614.06" stroke="#d6d6d6" stroke-width="0.5"/><line x1="139.3" y1="608.3" x2="139.3" y2="665.9" stroke="#d6d6d6" stroke-width="0.5"/><line x1="128.3" y1="619.82" x2="183.3" y2="619.82" stroke="#d6d6d6" stroke-width="0.5"/><line x1="144.8" y1="608.3" x2="144.8" y2="665.9" stroke="#d6d6d6" stroke-width="0.5"/><line x1="128.3" y1="625.58" x2="183.3" y2="625.58" stroke="#d6d6d6" stroke-width="0.5"/><line x1="150.3" y1="608.3" x2="150.3" y2="665.9" stroke="#d6d6d6" stroke-width="0.5"/><line x1="128.3" y1="631.34" x2="183.3" y2="631.34" stroke="#d6d6d6" stroke-width="0.5"/><line x1="155.8" y1="608.3" x2="155.8" y2="665.9" stroke="#d6d6d6" stroke-width="0.5"/><line x1="128.3" y1="637.1" x2="183.3" y2="637.1" stroke="#d6d6d6" stroke-width="0.5"/><line x1="161.3" y1="608.3" x2="161.3" y2="665.9" stroke="#d6d6d6" stroke-width="0.5"/><line x1="128.3" y1="642.86" x2="183.3" y2="642.86" stroke="#d6d6d6" stroke-width="0.5"/><line x1="166.8" y1="608.3" x2="166.8" y2="665.9" stroke="#d6d6d6" stroke-width="0.5"/><line x1="128.3" y1="648.62" x2="183.3" y2="648.62" stroke="#d6d6d6" stroke-width="0.5"/><line x1="172.3" y1="608.3" x2="172.3" y2="665.9" stroke="#d6d6d6" stroke-width="0.5"/><line x1="128.3" y1="654.38" x2="183.3" y2="654.38" stroke="#d6d6d6" stroke-width="0.5"/><line x1="177.8" y1="608.3" x2="177.8" y2="665.9" stroke="#d6d6d6" stroke-width="0.5"/><line x1="128.3" y1="660.14" x2="183.3" y2="660.14" stroke="#d6d6d6" stroke-width="0.5"/><line x1="183.3" y1="608.3" x2="183.3" y2="665.9" stroke="#d6d6d6" stroke-width="0.5"/><line x1="128.3" y1="665.9" x2="183.3" y2="665.9" stroke="#d6d6d6" stroke-width="0.5"/><rect x="128.3" y="608.3" width="55" height="57.6" fill="none" stroke="#777" stroke-width="0.6"/><line x1="128.3" y1="665.9" x2="183.3" y2="608.3" stroke="#aaa" stroke-width="0.5" stroke-dasharray="1.6 1.4"/><path d="M128.3,665.9 L130.23,658.7 L132.48,649.71 L135.45,641.54 L139.96,634.8 L145.9,628.81 L151.9,622.82 L157.89,618.32 L163.89,614.58 L169.83,611.58 L175.82,610.09 L183.3,608.3" fill="none" stroke="#2a2a2a" stroke-width="1.0"/>
<text x="154.4" y="604.7" font-size="8.3" fill="#333" text-anchor="middle">Gene2</text>
<text x="126.5" y="667.7" font-size="5" fill="#666" text-anchor="end">0.0</text>
<line x1="127.1" y1="665.9" x2="128.3" y2="665.9" stroke="#777" stroke-width="0.5"/>
<text x="126.5" y="656.18" font-size="5" fill="#666" text-anchor="end">0.2</text>
<line x1="127.1" y1="654.38" x2="128.3" y2="654.38" stroke="#777" stroke-width="0.5"/>
<text x="126.5" y="644.66" font-size="5" fill="#666" text-anchor="end">0.4</text>
<line x1="127.1" y1="642.86" x2="128.3" y2="642.86" stroke="#777" stroke-width="0.5"/>
<text x="126.5" y="633.14" font-size="5" fill="#666" text-anchor="end">0.6</text>
<line x1="127.1" y1="631.34" x2="128.3" y2="631.34" stroke="#777" stroke-width="0.5"/>
<text x="126.5" y="621.62" font-size="5" fill="#666" text-anchor="end">0.8</text>
<line x1="127.1" y1="619.82" x2="128.3" y2="619.82" stroke="#777" stroke-width="0.5"/>
<text x="126.5" y="610.1" font-size="5" fill="#666" text-anchor="end">1.0</text>
<line x1="127.1" y1="608.3" x2="128.3" y2="608.3" stroke="#777" stroke-width="0.5"/>
<text x="128.3" y="672.5" font-size="5" fill="#666" text-anchor="middle">1.0</text>
<text x="139.3" y="672.5" font-size="5" fill="#666" text-anchor="middle">0.8</text>
<text x="150.3" y="672.5" font-size="5" fill="#666" text-anchor="middle">0.6</text>
<text x="161.3" y="672.5" font-size="5" fill="#666" text-anchor="middle">0.4</text>
<text x="172.3" y="672.5" font-size="5" fill="#666" text-anchor="middle">0.2</text>
<text x="183.3" y="672.5" font-size="5" fill="#666" text-anchor="middle">0.0</text>
<text x="155.8" y="680" font-size="6.4" fill="#333" text-anchor="middle">Specificity</text>
<text x="115.5" y="637.1" font-size="6.4" fill="#333" text-anchor="middle" transform="rotate(-90 115.5 637.1)">Sensitivity</text>
<text x="115.6" y="734.3" font-size="12.54" fill="#333" text-anchor="middle">Gene set enrichment</text>
<text x="115.4" y="748.2" font-size="12.59" fill="#333" text-anchor="middle">analysis using AUROC ranks</text>
<rect x="65.3" y="762.1" width="120.1" height="66.3" fill="#e8e8e8"/>
<line x1="95.33" y1="762.1" x2="95.33" y2="828.4" stroke="#f2f2f2" stroke-width="0.5"/>
<line x1="125.35" y1="762.1" x2="125.35" y2="828.4" stroke="#f2f2f2" stroke-width="0.5"/>
<line x1="155.38" y1="762.1" x2="155.38" y2="828.4" stroke="#f2f2f2" stroke-width="0.5"/>
<line x1="65.3" y1="828.4" x2="185.4" y2="828.4" stroke="#f2f2f2" stroke-width="0.5"/>
<line x1="63.5" y1="828.4" x2="65.3" y2="828.4" stroke="#444" stroke-width="0.6"/>
<text x="62.7" y="830.8" font-size="6.8" fill="#555" text-anchor="end">0.0</text>
<line x1="65.3" y1="808.5" x2="185.4" y2="808.5" stroke="#f2f2f2" stroke-width="0.5"/>
<line x1="63.5" y1="808.5" x2="65.3" y2="808.5" stroke="#444" stroke-width="0.6"/>
<text x="62.7" y="810.9" font-size="6.8" fill="#555" text-anchor="end">0.1</text>
<line x1="65.3" y1="788.6" x2="185.4" y2="788.6" stroke="#f2f2f2" stroke-width="0.5"/>
<line x1="63.5" y1="788.6" x2="65.3" y2="788.6" stroke="#444" stroke-width="0.6"/>
<text x="62.7" y="791" font-size="6.8" fill="#555" text-anchor="end">0.2</text>
<line x1="65.3" y1="768.7" x2="185.4" y2="768.7" stroke="#f2f2f2" stroke-width="0.5"/>
<line x1="63.5" y1="768.7" x2="65.3" y2="768.7" stroke="#444" stroke-width="0.6"/>
<text x="62.7" y="771.1" font-size="6.8" fill="#555" text-anchor="end">0.3</text>
<line x1="65.3" y1="766.9" x2="185.4" y2="766.9" stroke="#f05050" stroke-width="1" stroke-dasharray="2.2 1.6"/>
<path d="M65.3,828.4 L66.05,825.4 L66.8,820.81 L67.55,817.57 L68.3,812.69 L69.05,808.27 L69.8,805.48 L70.55,801.27 L71.3,794.62 L72.06,796.04 L72.81,795.91 L73.56,793.59 L74.31,794.86 L75.06,793.64 L75.81,794.44 L76.56,793.79 L77.31,794.2 L78.06,791.88 L78.81,790.25 L79.56,790.23 L80.31,788.64 L81.06,788 L81.81,788.93 L82.56,786.23 L83.31,785.93 L84.07,785.97 L84.82,785.96 L85.57,782.87 L86.32,783.2 L87.07,781.74 L87.82,780.53 L88.57,780.27 L89.32,779.07 L90.07,779.91 L90.82,778.16 L91.57,778.53 L92.32,776.54 L93.07,776.08 L93.82,777.63 L94.57,776.9 L95.33,776.06 L96.08,773.35 L96.83,774.39 L97.58,773.49 L98.33,774.04 L99.08,773.1 L99.83,773.07 L100.58,772.81 L101.33,771.79 L102.08,771.43 L102.83,770.17 L103.58,770.43 L104.33,769.35 L105.08,769.12 L105.83,768.3 L106.58,768.75 L107.34,769.73 L108.09,767.34 L108.84,766.61 L109.59,766.34 L110.34,767.58 L111.09,767.91 L111.84,770.05 L112.59,769.05 L113.34,770.51 L114.09,772.04 L114.84,773.39 L115.59,771.93 L116.34,772.28 L117.09,775.53 L117.84,774.28 L118.59,776.1 L119.34,777.56 L120.1,777.74 L120.85,776.73 L121.6,776.75 L122.35,779.36 L123.1,778.08 L123.85,779.98 L124.6,778.41 L125.35,779.8 L126.1,778.57 L126.85,778.6 L127.6,780.23 L128.35,779.17 L129.1,781.4 L129.85,782.35 L130.6,781.2 L131.36,783.1 L132.11,782.94 L132.86,782.66 L133.61,782.57 L134.36,784.33 L135.11,785.14 L135.86,783.33 L136.61,785.36 L137.36,784.05 L138.11,784.72 L138.86,786.65 L139.61,786.91 L140.36,787.24 L141.11,787.34 L141.86,787.86 L142.61,788.34 L143.37,788.56 L144.12,788.05 L144.87,789.64 L145.62,790.23 L146.37,789.81 L147.12,791.54 L147.87,791.74 L148.62,790.24 L149.37,792.07 L150.12,792.56 L150.87,794.62 L151.62,794.06 L152.37,794.17 L153.12,796.29 L153.87,795.2 L154.62,795.72 L155.38,797.88 L156.13,796.86 L156.88,797.88 L157.63,797.85 L158.38,799.32 L159.13,798.9 L159.88,799.54 L160.63,802.28 L161.38,802.92 L162.13,801.95 L162.88,801.9 L163.63,804.63 L164.38,804.8 L165.13,805.17 L165.88,806.67 L166.63,807.3 L167.38,808.19 L168.14,808.79 L168.89,808.91 L169.64,810.49 L170.39,811.03 L171.14,810.68 L171.89,813.51 L172.64,812.75 L173.39,813.04 L174.14,814.98 L174.89,815.98 L175.64,815.29 L176.39,817.81 L177.14,818.89 L177.89,819.15 L178.64,819.36 L179.39,821.96 L180.15,822.29 L180.9,823.2 L181.65,822.75 L182.4,824.8 L183.15,824.58 L183.9,827.43 L184.65,827.91 L185.4,828.4" fill="none" stroke="#1cf01c" stroke-width="1.1"/>
<rect x="65.3" y="828.4" width="120.1" height="8.3" fill="#f4f4f4"/>
<rect x="65.3" y="828.4" width="0.9" height="8.3" fill="#555"/>
<rect x="66.2" y="828.4" width="0.9" height="8.3" fill="#444"/>
<rect x="67.1" y="828.4" width="0.9" height="8.3" fill="#555"/>
<rect x="68" y="828.4" width="0.9" height="8.3" fill="#555"/>
<rect x="68.9" y="828.4" width="0.9" height="8.3" fill="#555"/>
<rect x="69.8" y="828.4" width="0.9" height="8.3" fill="#1a1a1a"/>
<rect x="70.7" y="828.4" width="0.9" height="8.3" fill="#2a2a2a"/>
<rect x="71.6" y="828.4" width="0.9" height="8.3" fill="#666"/>
<rect x="72.5" y="828.4" width="0.9" height="8.3" fill="#555"/>
<rect x="75.2" y="828.4" width="0.9" height="8.3" fill="#555"/>
<rect x="76.1" y="828.4" width="0.9" height="8.3" fill="#555"/>
<rect x="77" y="828.4" width="0.9" height="8.3" fill="#555"/>
<rect x="77.9" y="828.4" width="0.9" height="8.3" fill="#1a1a1a"/>
<rect x="78.8" y="828.4" width="0.9" height="8.3" fill="#2a2a2a"/>
<rect x="79.7" y="828.4" width="0.9" height="8.3" fill="#444"/>
<rect x="80.6" y="828.4" width="0.9" height="8.3" fill="#555"/>
<rect x="81.5" y="828.4" width="0.9" height="8.3" fill="#555"/>
<rect x="82.4" y="828.4" width="0.9" height="8.3" fill="#333"/>
<rect x="83.3" y="828.4" width="0.9" height="8.3" fill="#666"/>
<rect x="84.2" y="828.4" width="0.9" height="8.3" fill="#666"/>
<rect x="85.1" y="828.4" width="0.9" height="8.3" fill="#555"/>
<rect x="86.9" y="828.4" width="0.9" height="8.3" fill="#666"/>
<rect x="87.8" y="828.4" width="0.9" height="8.3" fill="#2a2a2a"/>
<rect x="88.7" y="828.4" width="0.9" height="8.3" fill="#1a1a1a"/>
<rect x="89.6" y="828.4" width="0.9" height="8.3" fill="#1a1a1a"/>
<rect x="90.5" y="828.4" width="0.9" height="8.3" fill="#333"/>
<rect x="91.4" y="828.4" width="0.9" height="8.3" fill="#1a1a1a"/>
<rect x="93.2" y="828.4" width="0.9" height="8.3" fill="#2a2a2a"/>
<rect x="95" y="828.4" width="0.9" height="8.3" fill="#444"/>
<rect x="96.8" y="828.4" width="0.9" height="8.3" fill="#222"/>
<rect x="97.7" y="828.4" width="0.9" height="8.3" fill="#333"/>
<rect x="98.6" y="828.4" width="0.9" height="8.3" fill="#444"/>
<rect x="99.5" y="828.4" width="0.9" height="8.3" fill="#444"/>
<rect x="100.4" y="828.4" width="0.9" height="8.3" fill="#555"/>
<rect x="101.3" y="828.4" width="0.9" height="8.3" fill="#222"/>
<rect x="102.2" y="828.4" width="0.9" height="8.3" fill="#777"/>
<rect x="103.1" y="828.4" width="0.9" height="8.3" fill="#222"/>
<rect x="104" y="828.4" width="0.9" height="8.3" fill="#555"/>
<rect x="104.9" y="828.4" width="0.9" height="8.3" fill="#666"/>
<rect x="105.8" y="828.4" width="0.9" height="8.3" fill="#666"/>
<rect x="106.7" y="828.4" width="0.9" height="8.3" fill="#777"/>
<rect x="107.6" y="828.4" width="0.9" height="8.3" fill="#555"/>
<rect x="108.5" y="828.4" width="0.9" height="8.3" fill="#222"/>
<rect x="109.4" y="828.4" width="0.9" height="8.3" fill="#333"/>
<rect x="110.3" y="828.4" width="0.9" height="8.3" fill="#888"/>
<rect x="113" y="828.4" width="0.9" height="8.3" fill="#222"/>
<rect x="113.9" y="828.4" width="0.9" height="8.3" fill="#555"/>
<rect x="115.7" y="828.4" width="0.9" height="8.3" fill="#666"/>
<rect x="116.6" y="828.4" width="0.9" height="8.3" fill="#333"/>
<rect x="117.5" y="828.4" width="0.9" height="8.3" fill="#444"/>
<rect x="118.4" y="828.4" width="0.9" height="8.3" fill="#666"/>
<rect x="119.3" y="828.4" width="0.9" height="8.3" fill="#444"/>
<rect x="120.2" y="828.4" width="0.9" height="8.3" fill="#222"/>
<rect x="121.1" y="828.4" width="0.9" height="8.3" fill="#666"/>
<rect x="122" y="828.4" width="0.9" height="8.3" fill="#222"/>
<rect x="122.9" y="828.4" width="0.9" height="8.3" fill="#444"/>
<rect x="123.8" y="828.4" width="0.9" height="8.3" fill="#333"/>
<rect x="125.6" y="828.4" width="0.9" height="8.3" fill="#666"/>
<rect x="126.5" y="828.4" width="0.9" height="8.3" fill="#555"/>
<rect x="127.4" y="828.4" width="0.9" height="8.3" fill="#333"/>
<rect x="128.3" y="828.4" width="0.9" height="8.3" fill="#333"/>
<rect x="130.1" y="828.4" width="0.9" height="8.3" fill="#333"/>
<rect x="131" y="828.4" width="0.9" height="8.3" fill="#777"/>
<rect x="132.8" y="828.4" width="0.9" height="8.3" fill="#555"/>
<rect x="134.6" y="828.4" width="0.9" height="8.3" fill="#555"/>
<rect x="135.5" y="828.4" width="0.9" height="8.3" fill="#222"/>
<rect x="136.4" y="828.4" width="0.9" height="8.3" fill="#444"/>
<rect x="137.3" y="828.4" width="0.9" height="8.3" fill="#777"/>
<rect x="138.2" y="828.4" width="0.9" height="8.3" fill="#555"/>
<rect x="140" y="828.4" width="0.9" height="8.3" fill="#444"/>
<rect x="140.9" y="828.4" width="0.9" height="8.3" fill="#777"/>
<rect x="142.7" y="828.4" width="0.9" height="8.3" fill="#555"/>
<rect x="143.6" y="828.4" width="0.9" height="8.3" fill="#888"/>
<rect x="144.5" y="828.4" width="0.9" height="8.3" fill="#222"/>
<rect x="145.4" y="828.4" width="0.9" height="8.3" fill="#333"/>
<rect x="147.2" y="828.4" width="0.9" height="8.3" fill="#555"/>
<rect x="148.1" y="828.4" width="0.9" height="8.3" fill="#222"/>
<rect x="149" y="828.4" width="0.9" height="8.3" fill="#444"/>
<rect x="149.9" y="828.4" width="0.9" height="8.3" fill="#666"/>
<rect x="151.7" y="828.4" width="0.9" height="8.3" fill="#333"/>
<rect x="157.1" y="828.4" width="0.9" height="8.3" fill="#222"/>
<rect x="158.9" y="828.4" width="0.9" height="8.3" fill="#444"/>
<rect x="161.6" y="828.4" width="0.9" height="8.3" fill="#777"/>
<rect x="162.5" y="828.4" width="0.9" height="8.3" fill="#222"/>
<rect x="164.3" y="828.4" width="0.9" height="8.3" fill="#222"/>
<rect x="165.2" y="828.4" width="0.9" height="8.3" fill="#666"/>
<rect x="166.1" y="828.4" width="0.9" height="8.3" fill="#222"/>
<rect x="171.5" y="828.4" width="0.9" height="8.3" fill="#777"/>
<rect x="172.4" y="828.4" width="0.9" height="8.3" fill="#222"/>
<rect x="174.2" y="828.4" width="0.9" height="8.3" fill="#888"/>
<rect x="175.1" y="828.4" width="0.9" height="8.3" fill="#555"/>
<rect x="177.8" y="828.4" width="0.9" height="8.3" fill="#666"/>
<rect x="178.7" y="828.4" width="0.9" height="8.3" fill="#222"/>
<rect x="179.6" y="828.4" width="0.9" height="8.3" fill="#777"/>
<rect x="180.5" y="828.4" width="0.9" height="8.3" fill="#444"/>
<rect x="183.2" y="828.4" width="0.9" height="8.3" fill="#777"/>
<rect x="68.3" y="828.4" width="1.6" height="0.9" fill="#e83a3a"/>
<rect x="74.9" y="828.4" width="1.6" height="0.9" fill="#e83a3a"/>
<rect x="81.5" y="828.4" width="1.6" height="0.9" fill="#e83a3a"/>
<rect x="88.1" y="828.4" width="1.6" height="0.9" fill="#e83a3a"/>
<rect x="94.7" y="828.4" width="1.6" height="0.9" fill="#e83a3a"/>
<rect x="101.3" y="828.4" width="1.6" height="0.9" fill="#e83a3a"/>
<rect x="107.9" y="828.4" width="1.6" height="0.9" fill="#e83a3a"/>
<rect x="114.5" y="828.4" width="1.6" height="0.9" fill="#e83a3a"/>
<rect x="121.1" y="828.4" width="1.6" height="0.9" fill="#e83a3a"/>
<rect x="127.7" y="828.4" width="1.6" height="0.9" fill="#e83a3a"/>
<rect x="134.3" y="828.4" width="1.6" height="0.9" fill="#e83a3a"/>
<rect x="140.9" y="828.4" width="1.6" height="0.9" fill="#e83a3a"/>
<rect x="147.5" y="828.4" width="1.6" height="0.9" fill="#e83a3a"/>
<rect x="154.1" y="828.4" width="1.6" height="0.9" fill="#e83a3a"/>
<rect x="160.7" y="828.4" width="1.6" height="0.9" fill="#e83a3a"/>
<rect x="167.3" y="828.4" width="1.6" height="0.9" fill="#e83a3a"/>
<rect x="173.9" y="828.4" width="1.6" height="0.9" fill="#e83a3a"/>
<rect x="180.5" y="828.4" width="1.6" height="0.9" fill="#e83a3a"/>
<rect x="65.3" y="836.7" width="30.7" height="4.7" fill="#d1332c"/>
<rect x="96" y="836.7" width="18" height="4.7" fill="#e8633f"/>
<rect x="114" y="836.7" width="23.8" height="4.7" fill="#f3a688"/>
<rect x="137.8" y="836.7" width="12.2" height="4.7" fill="#fbe0d2"/>
<rect x="150" y="836.7" width="9.6" height="4.7" fill="#e9eef7"/>
<rect x="159.6" y="836.7" width="13.4" height="4.7" fill="#b3cde4"/>
<rect x="173" y="836.7" width="12.4" height="4.7" fill="#5b9ccd"/>
<rect x="65.3" y="762.1" width="120.1" height="79.3" fill="none" stroke="#444" stroke-width="0.7"/>
<line x1="65.3" y1="828.4" x2="185.4" y2="828.4" stroke="#222" stroke-width="0.8"/>
<text x="48.2" y="802" font-size="8.2" fill="#222" text-anchor="middle" transform="rotate(-90 48.2 802)">Enrichment score</text>
<rect x="263.5" y="18.3" width="142.1" height="134.5" fill="#fff"/>
<line x1="270.3" y1="18.3" x2="270.3" y2="152.8" stroke="#ebebeb" stroke-width="0.9"/><line x1="283.11" y1="18.3" x2="283.11" y2="152.8" stroke="#f3f3f3" stroke-width="0.6"/><line x1="295.92" y1="18.3" x2="295.92" y2="152.8" stroke="#ebebeb" stroke-width="0.9"/><line x1="308.73" y1="18.3" x2="308.73" y2="152.8" stroke="#f3f3f3" stroke-width="0.6"/><line x1="321.54" y1="18.3" x2="321.54" y2="152.8" stroke="#ebebeb" stroke-width="0.9"/><line x1="334.35" y1="18.3" x2="334.35" y2="152.8" stroke="#f3f3f3" stroke-width="0.6"/><line x1="347.16" y1="18.3" x2="347.16" y2="152.8" stroke="#ebebeb" stroke-width="0.9"/><line x1="359.97" y1="18.3" x2="359.97" y2="152.8" stroke="#f3f3f3" stroke-width="0.6"/><line x1="372.78" y1="18.3" x2="372.78" y2="152.8" stroke="#ebebeb" stroke-width="0.9"/><line x1="385.59" y1="18.3" x2="385.59" y2="152.8" stroke="#f3f3f3" stroke-width="0.6"/><line x1="398.4" y1="18.3" x2="398.4" y2="152.8" stroke="#ebebeb" stroke-width="0.9"/><line x1="263.5" y1="146.9" x2="405.6" y2="146.9" stroke="#ebebeb" stroke-width="0.9"/><line x1="263.5" y1="127.8" x2="405.6" y2="127.8" stroke="#f3f3f3" stroke-width="0.6"/><line x1="263.5" y1="108.7" x2="405.6" y2="108.7" stroke="#ebebeb" stroke-width="0.9"/><line x1="263.5" y1="89.6" x2="405.6" y2="89.6" stroke="#f3f3f3" stroke-width="0.6"/><line x1="263.5" y1="70.5" x2="405.6" y2="70.5" stroke="#ebebeb" stroke-width="0.9"/><line x1="263.5" y1="51.4" x2="405.6" y2="51.4" stroke="#f3f3f3" stroke-width="0.6"/><line x1="263.5" y1="32.3" x2="405.6" y2="32.3" stroke="#ebebeb" stroke-width="0.9"/>
<rect x="324" y="143.82" width="1" height="3.08" fill="#262626"/><rect x="325" y="143.82" width="1" height="3.08" fill="#9a9a9a"/><rect x="326" y="140.28" width="1" height="6.62" fill="#262626"/><rect x="327" y="140.28" width="1" height="6.62" fill="#6f6f6f"/><rect x="329" y="133.04" width="1" height="13.86" fill="#262626"/><rect x="330" y="133.04" width="1" height="13.86" fill="#9a9a9a"/><rect x="331" y="115.16" width="1" height="31.74" fill="#262626"/><rect x="332" y="115.16" width="1" height="31.74" fill="#9a9a9a"/><rect x="333" y="95.03" width="1" height="51.87" fill="#262626"/><rect x="334" y="95.03" width="1" height="51.87" fill="#9a9a9a"/><rect x="335" y="65.24" width="1" height="81.66" fill="#262626"/><rect x="336" y="65.24" width="1" height="81.66" fill="#9a9a9a"/><rect x="337" y="40.76" width="1" height="106.14" fill="#262626"/><rect x="338" y="40.76" width="1" height="106.14" fill="#9a9a9a"/><rect x="339" y="24.66" width="1" height="122.24" fill="#262626"/><rect x="340" y="24.66" width="1" height="122.24" fill="#6f6f6f"/><rect x="342" y="30.3" width="1" height="116.6" fill="#262626"/><rect x="343" y="30.3" width="1" height="116.6" fill="#9a9a9a"/><rect x="344" y="25.14" width="1" height="121.76" fill="#262626"/><rect x="345" y="25.14" width="1" height="121.76" fill="#9a9a9a"/><rect x="346" y="37.87" width="1" height="109.03" fill="#262626"/><rect x="347" y="37.87" width="1" height="109.03" fill="#9a9a9a"/><rect x="348" y="41.25" width="1" height="105.65" fill="#262626"/><rect x="349" y="41.25" width="1" height="105.65" fill="#9a9a9a"/><rect x="350" y="43.99" width="1" height="102.91" fill="#262626"/><rect x="351" y="43.99" width="1" height="102.91" fill="#9a9a9a"/><rect x="352" y="37.87" width="1" height="109.03" fill="#262626"/><rect x="353" y="37.87" width="1" height="109.03" fill="#6f6f6f"/><rect x="355" y="47.21" width="1" height="99.69" fill="#262626"/><rect x="356" y="47.21" width="1" height="99.69" fill="#9a9a9a"/><rect x="357" y="54.45" width="1" height="92.45" fill="#262626"/><rect x="358" y="54.45" width="1" height="92.45" fill="#9a9a9a"/><rect x="359" y="66.85" width="1" height="80.05" fill="#262626"/><rect x="360" y="66.85" width="1" height="80.05" fill="#9a9a9a"/><rect x="361" y="85.05" width="1" height="61.85" fill="#262626"/><rect x="362" y="85.05" width="1" height="61.85" fill="#9a9a9a"/><rect x="363" y="93.1" width="1" height="53.8" fill="#262626"/><rect x="364" y="93.1" width="1" height="53.8" fill="#9a9a9a"/><rect x="365" y="100.02" width="1" height="46.88" fill="#262626"/><rect x="366" y="100.02" width="1" height="46.88" fill="#9a9a9a"/><rect x="367" y="104.05" width="1" height="42.85" fill="#262626"/><rect x="368" y="104.05" width="1" height="42.85" fill="#6f6f6f"/><rect x="370" y="110.49" width="1" height="36.41" fill="#262626"/><rect x="371" y="110.49" width="1" height="36.41" fill="#9a9a9a"/><rect x="372" y="119.99" width="1" height="26.91" fill="#262626"/><rect x="373" y="119.99" width="1" height="26.91" fill="#9a9a9a"/><rect x="374" y="128.04" width="1" height="18.86" fill="#262626"/><rect x="375" y="128.04" width="1" height="18.86" fill="#9a9a9a"/><rect x="376" y="132.23" width="1" height="14.67" fill="#262626"/><rect x="377" y="132.23" width="1" height="14.67" fill="#9a9a9a"/><rect x="378" y="137.38" width="1" height="9.52" fill="#262626"/><rect x="379" y="137.38" width="1" height="9.52" fill="#6f6f6f"/><rect x="381" y="138.19" width="1" height="8.71" fill="#262626"/><rect x="382" y="138.19" width="1" height="8.71" fill="#9a9a9a"/><rect x="383" y="143.34" width="1" height="3.56" fill="#262626"/><rect x="384" y="143.34" width="1" height="3.56" fill="#9a9a9a"/><rect x="385" y="143.82" width="1" height="3.08" fill="#262626"/><rect x="386" y="143.82" width="1" height="3.08" fill="#9a9a9a"/><rect x="387" y="144.95" width="1" height="1.95" fill="#262626"/><rect x="388" y="144.95" width="1" height="1.95" fill="#9a9a9a"/><rect x="389" y="144.15" width="1" height="2.75" fill="#262626"/><rect x="390" y="144.15" width="1" height="2.75" fill="#6f6f6f"/><rect x="392" y="145.76" width="1" height="1.14" fill="#262626"/><rect x="393" y="145.76" width="1" height="1.14" fill="#6f6f6f"/><rect x="312.42" y="146.4" width="1.6" height="0.5" fill="#777"/><rect x="317.25" y="146.4" width="1.6" height="0.5" fill="#777"/><rect x="321.28" y="146.4" width="1.6" height="0.5" fill="#777"/><rect x="396.16" y="146.4" width="1.6" height="0.5" fill="#777"/><rect x="400.99" y="146.4" width="1.6" height="0.5" fill="#777"/>
<rect x="263.5" y="18.3" width="142.1" height="134.5" fill="none" stroke="#999" stroke-width="1"/>
<line x1="260.5" y1="146.9" x2="263.5" y2="146.9" stroke="#333" stroke-width="0.8"/>
<text x="257.9" y="150.5" font-size="10" fill="#222" text-anchor="end">0</text>
<line x1="260.5" y1="108.7" x2="263.5" y2="108.7" stroke="#333" stroke-width="0.8"/>
<text x="257.9" y="112.3" font-size="10" fill="#222" text-anchor="end">100</text>
<line x1="260.5" y1="70.5" x2="263.5" y2="70.5" stroke="#333" stroke-width="0.8"/>
<text x="257.9" y="74.1" font-size="10" fill="#222" text-anchor="end">200</text>
<line x1="260.5" y1="32.3" x2="263.5" y2="32.3" stroke="#333" stroke-width="0.8"/>
<text x="257.9" y="35.9" font-size="10" fill="#222" text-anchor="end">300</text>
<line x1="270.3" y1="152.8" x2="270.3" y2="155.8" stroke="#333" stroke-width="0.8"/>
<text x="270.3" y="165.6" font-size="10" fill="#222" text-anchor="middle">0.0</text>
<line x1="295.92" y1="152.8" x2="295.92" y2="155.8" stroke="#333" stroke-width="0.8"/>
<text x="295.92" y="165.6" font-size="10" fill="#222" text-anchor="middle">0.2</text>
<line x1="321.54" y1="152.8" x2="321.54" y2="155.8" stroke="#333" stroke-width="0.8"/>
<text x="321.54" y="165.6" font-size="10" fill="#222" text-anchor="middle">0.4</text>
<line x1="347.16" y1="152.8" x2="347.16" y2="155.8" stroke="#333" stroke-width="0.8"/>
<text x="347.16" y="165.6" font-size="10" fill="#222" text-anchor="middle">0.6</text>
<line x1="372.78" y1="152.8" x2="372.78" y2="155.8" stroke="#333" stroke-width="0.8"/>
<text x="372.78" y="165.6" font-size="10" fill="#222" text-anchor="middle">0.8</text>
<line x1="398.4" y1="152.8" x2="398.4" y2="155.8" stroke="#333" stroke-width="0.8"/>
<text x="398.4" y="165.6" font-size="10" fill="#222" text-anchor="middle">1.0</text>
<text x="334.7" y="11.2" font-size="12.3" fill="#111" text-anchor="middle">PVBC</text>
<text x="335.4" y="178.8" font-size="12.5" fill="#111" text-anchor="middle">AUROC</text>
<text x="237.3" y="90.4" font-size="12.4" fill="#111" text-anchor="middle" transform="rotate(-90 237.3 90.4)">Counts</text>
<rect x="460.7" y="15.6" width="144.4" height="138" fill="#fff" stroke="#8a8a8a" stroke-width="0.9"/>
<g class="c"><g fill="#F8766D"><circle cx="471.3" cy="77.3"/><circle cx="469.6" cy="75.8"/><circle cx="473.1" cy="77.8"/><circle cx="470.7" cy="77.9"/><circle cx="469.8" cy="79.0"/><circle cx="474.0" cy="76.2"/><circle cx="472.7" cy="78.8"/><circle cx="475.6" cy="75.1"/><circle cx="471.3" cy="78.5"/><circle cx="469.0" cy="77.0"/><circle cx="468.9" cy="77.5"/><circle cx="473.3" cy="79.2"/><circle cx="475.4" cy="75.6"/><circle cx="468.2" cy="79.1"/><circle cx="470.3" cy="78.7"/><circle cx="470.3" cy="80.5"/><circle cx="470.4" cy="75.3"/><circle cx="468.4" cy="77.8"/><circle cx="467.6" cy="76.7"/><circle cx="470.4" cy="75.1"/><circle cx="471.4" cy="77.9"/><circle cx="472.1" cy="78.1"/><circle cx="467.9" cy="77.1"/><circle cx="470.5" cy="77.3"/><circle cx="471.8" cy="78.1"/><circle cx="471.9" cy="75.4"/><circle cx="468.4" cy="75.4"/><circle cx="470.4" cy="78.4"/><circle cx="476.3" cy="77.3"/><circle cx="474.0" cy="76.5"/><circle cx="467.2" cy="77.3"/><circle cx="469.7" cy="79.0"/><circle cx="467.0" cy="77.3"/><circle cx="472.2" cy="77.0"/><circle cx="470.2" cy="78.4"/><circle cx="468.7" cy="78.1"/><circle cx="468.6" cy="77.7"/><circle cx="470.9" cy="78.5"/><circle cx="470.4" cy="78.4"/><circle cx="470.9" cy="76.9"/><circle cx="471.3" cy="76.9"/><circle cx="467.2" cy="77.9"/><circle cx="471.5" cy="76.7"/><circle cx="467.4" cy="77.3"/><circle cx="473.6" cy="77.7"/><circle cx="476.9" cy="74.4"/><circle cx="476.2" cy="74.6"/><circle cx="477.4" cy="72.6"/><circle cx="477.7" cy="74.8"/><circle cx="477.8" cy="74.1"/><circle cx="477.1" cy="74.3"/><circle cx="477.8" cy="74.2"/><circle cx="477.9" cy="75.1"/><circle cx="475.1" cy="75.0"/><circle cx="475.0" cy="75.0"/><circle cx="481.4" cy="73.3"/><circle cx="478.3" cy="74.9"/><circle cx="485.2" cy="78.9"/><circle cx="484.4" cy="78.4"/><circle cx="487.1" cy="78.9"/><circle cx="485.3" cy="79.4"/><circle cx="486.1" cy="80.3"/><circle cx="486.4" cy="78.4"/><circle cx="486.0" cy="79.1"/><circle cx="486.4" cy="78.6"/><circle cx="487.3" cy="78.8"/><circle cx="485.6" cy="79.1"/></g><g fill="#B79F00"><circle cx="568.6" cy="93.7"/><circle cx="575.4" cy="106.5"/><circle cx="570.5" cy="98.0"/><circle cx="570.4" cy="99.2"/><circle cx="567.6" cy="95.7"/><circle cx="568.8" cy="95.1"/><circle cx="572.9" cy="105.0"/><circle cx="568.6" cy="99.3"/><circle cx="575.7" cy="106.3"/><circle cx="568.5" cy="100.4"/><circle cx="573.1" cy="104.0"/><circle cx="570.7" cy="99.6"/><circle cx="574.0" cy="99.9"/><circle cx="574.6" cy="104.3"/><circle cx="574.9" cy="103.3"/><circle cx="573.9" cy="103.6"/><circle cx="573.8" cy="105.0"/><circle cx="569.0" cy="90.9"/><circle cx="578.4" cy="105.4"/><circle cx="572.7" cy="96.7"/><circle cx="572.6" cy="103.9"/><circle cx="578.4" cy="104.4"/><circle cx="568.7" cy="95.1"/><circle cx="568.9" cy="100.3"/><circle cx="571.2" cy="92.4"/><circle cx="572.8" cy="97.6"/><circle cx="566.6" cy="93.1"/><circle cx="572.1" cy="94.9"/><circle cx="574.9" cy="105.8"/><circle cx="569.5" cy="96.4"/><circle cx="571.6" cy="100.5"/><circle cx="575.4" cy="102.9"/><circle cx="571.4" cy="96.8"/><circle cx="573.6" cy="100.0"/><circle cx="575.4" cy="107.2"/><circle cx="570.9" cy="102.0"/><circle cx="565.3" cy="92.9"/><circle cx="574.7" cy="102.7"/><circle cx="571.0" cy="98.9"/><circle cx="571.4" cy="102.7"/><circle cx="585.4" cy="100.7"/><circle cx="584.0" cy="103.3"/><circle cx="580.9" cy="97.3"/><circle cx="581.3" cy="89.3"/><circle cx="583.9" cy="91.4"/><circle cx="581.4" cy="103.8"/><circle cx="584.5" cy="98.8"/><circle cx="584.5" cy="98.9"/><circle cx="586.3" cy="92.5"/><circle cx="585.6" cy="92.8"/><circle cx="588.8" cy="100.4"/><circle cx="582.5" cy="99.2"/><circle cx="580.0" cy="90.9"/><circle cx="583.0" cy="100.9"/><circle cx="585.4" cy="101.5"/><circle cx="586.2" cy="93.0"/><circle cx="584.8" cy="98.3"/><circle cx="583.7" cy="93.9"/><circle cx="582.0" cy="93.9"/><circle cx="584.4" cy="101.4"/><circle cx="582.8" cy="92.1"/><circle cx="582.0" cy="98.3"/><circle cx="582.6" cy="101.8"/><circle cx="581.6" cy="92.1"/><circle cx="579.9" cy="95.0"/><circle cx="580.6" cy="89.7"/><circle cx="585.6" cy="103.4"/><circle cx="579.6" cy="100.5"/><circle cx="582.1" cy="94.5"/><circle cx="583.3" cy="93.2"/><circle cx="576.3" cy="100.9"/><circle cx="577.9" cy="98.5"/><circle cx="578.8" cy="99.8"/><circle cx="580.8" cy="96.2"/><circle cx="582.5" cy="96.7"/><circle cx="578.8" cy="96.8"/><circle cx="580.0" cy="99.7"/><circle cx="581.8" cy="94.5"/><circle cx="583.7" cy="98.2"/><circle cx="579.2" cy="97.3"/><circle cx="578.3" cy="96.9"/><circle cx="578.0" cy="98.7"/><circle cx="583.1" cy="97.9"/><circle cx="578.5" cy="96.3"/><circle cx="578.7" cy="97.6"/><circle cx="578.2" cy="100.9"/><circle cx="578.2" cy="100.7"/><circle cx="578.9" cy="100.8"/><circle cx="580.8" cy="96.6"/><circle cx="579.1" cy="98.5"/><circle cx="579.5" cy="102.5"/><circle cx="575.3" cy="98.6"/><circle cx="579.3" cy="98.4"/><circle cx="575.6" cy="98.0"/><circle cx="577.1" cy="100.6"/><circle cx="568.4" cy="88.7"/><circle cx="569.4" cy="87.9"/><circle cx="591.2" cy="106.4"/><circle cx="590.2" cy="105.8"/><circle cx="598.1" cy="109.5"/><circle cx="597.6" cy="109.1"/><circle cx="588.2" cy="104.4"/></g><g fill="#00BA38"><circle cx="528.8" cy="77.0"/><circle cx="528.2" cy="79.1"/><circle cx="527.6" cy="79.9"/><circle cx="528.9" cy="79.3"/><circle cx="527.2" cy="79.8"/><circle cx="527.3" cy="77.8"/><circle cx="527.1" cy="79.6"/><circle cx="528.8" cy="78.5"/><circle cx="525.8" cy="81.9"/><circle cx="526.1" cy="85.4"/><circle cx="525.5" cy="88.2"/><circle cx="525.9" cy="85.3"/><circle cx="525.6" cy="81.8"/><circle cx="528.2" cy="82.6"/><circle cx="524.3" cy="88.4"/><circle cx="525.8" cy="89.2"/><circle cx="526.4" cy="82.9"/><circle cx="526.7" cy="86.5"/><circle cx="525.5" cy="86.5"/><circle cx="525.9" cy="81.9"/><circle cx="526.1" cy="94.2"/><circle cx="526.5" cy="91.2"/><circle cx="526.9" cy="90.2"/><circle cx="529.1" cy="93.7"/><circle cx="526.3" cy="92.3"/><circle cx="525.6" cy="90.2"/><circle cx="526.0" cy="91.8"/><circle cx="531.2" cy="92.6"/><circle cx="526.0" cy="92.8"/><circle cx="528.8" cy="91.6"/><circle cx="528.2" cy="93.9"/><circle cx="528.2" cy="93.2"/><circle cx="523.5" cy="93.2"/><circle cx="525.1" cy="91.9"/><circle cx="532.2" cy="90.7"/><circle cx="526.9" cy="93.0"/><circle cx="529.5" cy="91.5"/><circle cx="527.2" cy="92.6"/><circle cx="532.7" cy="92.6"/><circle cx="527.1" cy="92.4"/><circle cx="529.3" cy="93.5"/><circle cx="527.6" cy="93.7"/><circle cx="527.5" cy="90.6"/><circle cx="529.6" cy="92.6"/><circle cx="526.1" cy="92.8"/><circle cx="530.3" cy="93.1"/><circle cx="531.1" cy="93.9"/><circle cx="527.5" cy="90.8"/><circle cx="523.9" cy="91.3"/><circle cx="524.2" cy="92.6"/></g><g fill="#00BFC4"><circle cx="577.3" cy="21.1"/><circle cx="575.1" cy="25.8"/><circle cx="570.4" cy="28.7"/><circle cx="573.7" cy="25.3"/><circle cx="575.1" cy="27.8"/><circle cx="570.6" cy="28.6"/><circle cx="570.6" cy="24.9"/><circle cx="567.6" cy="27.4"/><circle cx="574.8" cy="22.7"/><circle cx="573.8" cy="24.0"/><circle cx="572.6" cy="28.5"/><circle cx="571.9" cy="22.6"/><circle cx="576.2" cy="25.3"/><circle cx="582.3" cy="26.7"/><circle cx="575.2" cy="25.8"/><circle cx="573.1" cy="20.6"/><circle cx="577.5" cy="30.2"/><circle cx="572.6" cy="25.5"/><circle cx="575.7" cy="30.0"/><circle cx="567.8" cy="31.5"/><circle cx="573.4" cy="26.8"/><circle cx="574.5" cy="28.5"/><circle cx="570.4" cy="31.8"/><circle cx="574.5" cy="25.6"/><circle cx="576.2" cy="24.5"/><circle cx="573.1" cy="23.1"/><circle cx="573.3" cy="28.3"/><circle cx="572.3" cy="28.1"/><circle cx="568.0" cy="26.2"/><circle cx="574.3" cy="27.5"/><circle cx="571.8" cy="25.6"/><circle cx="578.1" cy="26.5"/><circle cx="572.3" cy="28.1"/><circle cx="573.4" cy="29.8"/><circle cx="573.3" cy="26.4"/><circle cx="578.4" cy="24.1"/><circle cx="576.3" cy="28.4"/><circle cx="575.4" cy="29.5"/><circle cx="574.4" cy="25.5"/><circle cx="571.6" cy="21.4"/><circle cx="578.0" cy="38.6"/><circle cx="573.5" cy="33.2"/><circle cx="577.1" cy="37.4"/><circle cx="577.2" cy="33.5"/><circle cx="579.0" cy="37.3"/><circle cx="578.7" cy="36.8"/><circle cx="576.5" cy="35.3"/><circle cx="576.7" cy="37.9"/><circle cx="578.3" cy="35.1"/><circle cx="576.7" cy="34.8"/><circle cx="573.7" cy="33.0"/><circle cx="574.6" cy="33.7"/><circle cx="576.6" cy="36.7"/><circle cx="572.9" cy="35.0"/><circle cx="573.3" cy="38.2"/><circle cx="574.0" cy="33.4"/><circle cx="576.6" cy="36.9"/><circle cx="574.3" cy="35.9"/><circle cx="575.6" cy="50.8"/><circle cx="576.6" cy="49.2"/><circle cx="577.0" cy="38.4"/><circle cx="576.9" cy="54.0"/><circle cx="577.9" cy="45.3"/><circle cx="575.1" cy="43.9"/><circle cx="576.7" cy="52.7"/><circle cx="575.4" cy="46.3"/><circle cx="572.7" cy="40.0"/><circle cx="578.1" cy="52.7"/><circle cx="576.0" cy="44.4"/><circle cx="574.4" cy="43.7"/><circle cx="575.7" cy="51.7"/><circle cx="573.0" cy="42.3"/><circle cx="577.3" cy="54.5"/><circle cx="575.8" cy="49.3"/><circle cx="577.2" cy="56.1"/><circle cx="576.0" cy="42.6"/><circle cx="573.3" cy="43.0"/><circle cx="573.8" cy="39.2"/><circle cx="575.3" cy="42.8"/><circle cx="575.8" cy="43.2"/><circle cx="577.1" cy="54.1"/><circle cx="577.7" cy="45.6"/><circle cx="577.4" cy="48.8"/><circle cx="575.6" cy="55.6"/><circle cx="578.3" cy="52.1"/><circle cx="578.4" cy="58.5"/><circle cx="575.0" cy="53.2"/><circle cx="578.1" cy="50.1"/><circle cx="576.4" cy="47.6"/><circle cx="576.9" cy="52.2"/><circle cx="576.7" cy="51.0"/><circle cx="575.8" cy="43.5"/><circle cx="577.1" cy="49.1"/><circle cx="576.8" cy="52.8"/><circle cx="575.0" cy="46.8"/><circle cx="573.2" cy="41.8"/><circle cx="575.9" cy="51.4"/><circle cx="577.0" cy="54.1"/><circle cx="576.2" cy="46.6"/><circle cx="576.2" cy="57.6"/><circle cx="575.9" cy="49.8"/><circle cx="575.5" cy="42.6"/><circle cx="575.5" cy="45.7"/><circle cx="575.0" cy="41.5"/><circle cx="577.8" cy="51.0"/><circle cx="578.2" cy="49.8"/><circle cx="575.2" cy="40.9"/><circle cx="576.5" cy="45.5"/><circle cx="575.8" cy="53.3"/><circle cx="577.2" cy="55.3"/><circle cx="569.2" cy="39.1"/><circle cx="574.8" cy="46.2"/><circle cx="576.9" cy="53.2"/><circle cx="576.6" cy="42.2"/><circle cx="574.8" cy="41.4"/><circle cx="575.1" cy="43.6"/><circle cx="573.9" cy="42.2"/><circle cx="577.2" cy="41.8"/></g><g fill="#619CFF"><circle cx="532.2" cy="136.2"/><circle cx="533.1" cy="135.7"/><circle cx="532.6" cy="135.9"/><circle cx="530.9" cy="136.6"/><circle cx="530.2" cy="134.4"/><circle cx="530.6" cy="136.2"/><circle cx="531.4" cy="136.2"/><circle cx="531.1" cy="137.2"/><circle cx="532.0" cy="138.8"/><circle cx="532.0" cy="139.8"/><circle cx="536.9" cy="144.4"/><circle cx="538.1" cy="142.9"/><circle cx="537.3" cy="140.9"/><circle cx="537.4" cy="139.4"/><circle cx="537.7" cy="140.9"/><circle cx="536.4" cy="140.0"/><circle cx="537.7" cy="140.5"/><circle cx="538.7" cy="141.8"/><circle cx="538.5" cy="142.2"/><circle cx="540.1" cy="139.4"/><circle cx="538.9" cy="144.0"/><circle cx="536.7" cy="142.9"/><circle cx="537.9" cy="140.4"/><circle cx="537.0" cy="138.8"/><circle cx="538.2" cy="145.8"/><circle cx="537.6" cy="147.0"/><circle cx="537.2" cy="142.6"/><circle cx="537.4" cy="142.1"/><circle cx="537.7" cy="142.7"/><circle cx="540.3" cy="138.8"/><circle cx="536.7" cy="138.7"/><circle cx="536.0" cy="143.2"/><circle cx="540.3" cy="146.3"/><circle cx="539.0" cy="144.1"/><circle cx="538.0" cy="141.8"/><circle cx="540.5" cy="143.2"/><circle cx="538.1" cy="140.0"/><circle cx="537.9" cy="143.2"/><circle cx="541.6" cy="146.9"/><circle cx="543.0" cy="147.7"/><circle cx="541.0" cy="146.7"/><circle cx="541.5" cy="147.1"/><circle cx="541.7" cy="147.5"/><circle cx="540.5" cy="146.6"/><circle cx="540.1" cy="146.0"/><circle cx="542.0" cy="148.0"/><circle cx="542.1" cy="146.8"/><circle cx="542.8" cy="146.0"/><circle cx="541.2" cy="147.5"/><circle cx="540.8" cy="147.7"/><circle cx="540.6" cy="146.7"/><circle cx="541.7" cy="147.3"/></g><g fill="#F564E3"><circle cx="502.3" cy="36.9"/><circle cx="502.4" cy="34.7"/><circle cx="502.3" cy="40.2"/><circle cx="503.3" cy="37.1"/><circle cx="502.1" cy="36.2"/><circle cx="503.1" cy="33.6"/><circle cx="504.0" cy="36.2"/><circle cx="501.0" cy="39.0"/><circle cx="503.1" cy="33.2"/><circle cx="502.7" cy="36.7"/><circle cx="503.7" cy="40.1"/><circle cx="501.9" cy="35.3"/><circle cx="504.4" cy="37.1"/><circle cx="503.4" cy="35.9"/><circle cx="504.2" cy="39.2"/><circle cx="503.8" cy="40.2"/><circle cx="497.1" cy="38.0"/><circle cx="500.7" cy="34.3"/><circle cx="504.0" cy="39.5"/><circle cx="504.4" cy="38.9"/><circle cx="502.4" cy="37.2"/><circle cx="502.8" cy="34.4"/><circle cx="503.9" cy="35.6"/><circle cx="504.0" cy="35.3"/><circle cx="501.3" cy="38.2"/><circle cx="501.6" cy="35.2"/><circle cx="502.1" cy="30.7"/><circle cx="500.9" cy="39.2"/><circle cx="504.2" cy="32.9"/><circle cx="503.7" cy="34.4"/><circle cx="505.6" cy="36.7"/><circle cx="499.6" cy="37.8"/><circle cx="504.6" cy="40.0"/><circle cx="502.7" cy="35.8"/><circle cx="515.1" cy="35.5"/><circle cx="516.9" cy="32.0"/><circle cx="516.9" cy="38.4"/><circle cx="514.6" cy="38.9"/><circle cx="517.6" cy="38.3"/><circle cx="515.6" cy="35.4"/><circle cx="514.3" cy="37.7"/><circle cx="512.1" cy="39.4"/><circle cx="514.6" cy="36.2"/><circle cx="518.1" cy="37.1"/><circle cx="516.2" cy="36.7"/><circle cx="517.9" cy="35.1"/><circle cx="516.3" cy="39.3"/><circle cx="517.5" cy="36.2"/><circle cx="518.1" cy="37.1"/><circle cx="519.6" cy="37.8"/><circle cx="518.9" cy="36.8"/><circle cx="514.7" cy="39.5"/><circle cx="515.4" cy="34.0"/><circle cx="517.3" cy="35.6"/><circle cx="511.0" cy="35.5"/><circle cx="516.8" cy="38.3"/><circle cx="514.5" cy="37.1"/><circle cx="519.1" cy="39.4"/><circle cx="514.9" cy="34.1"/><circle cx="514.8" cy="37.9"/><circle cx="515.9" cy="39.8"/><circle cx="516.1" cy="39.7"/><circle cx="517.5" cy="37.1"/><circle cx="520.2" cy="36.5"/><circle cx="518.4" cy="39.9"/><circle cx="515.5" cy="36.4"/><circle cx="511.4" cy="36.5"/><circle cx="510.5" cy="34.3"/><circle cx="511.2" cy="34.2"/><circle cx="509.3" cy="35.4"/><circle cx="507.7" cy="34.7"/><circle cx="509.0" cy="32.9"/><circle cx="508.5" cy="34.6"/><circle cx="507.3" cy="35.3"/><circle cx="503.5" cy="45.2"/><circle cx="505.2" cy="46.0"/><circle cx="501.4" cy="45.6"/><circle cx="503.9" cy="45.5"/><circle cx="502.1" cy="45.0"/><circle cx="503.2" cy="45.3"/><circle cx="505.0" cy="45.4"/><circle cx="503.5" cy="44.1"/><circle cx="503.5" cy="46.2"/><circle cx="503.3" cy="44.7"/><circle cx="509.7" cy="48.5"/><circle cx="511.4" cy="49.4"/><circle cx="506.7" cy="48.7"/><circle cx="509.9" cy="49.5"/><circle cx="510.9" cy="48.4"/><circle cx="507.9" cy="48.5"/><circle cx="509.2" cy="50.3"/><circle cx="510.3" cy="49.0"/><circle cx="508.3" cy="48.5"/><circle cx="510.3" cy="49.5"/><circle cx="510.2" cy="48.0"/><circle cx="508.4" cy="48.6"/><circle cx="515.0" cy="42.9"/><circle cx="512.4" cy="44.6"/><circle cx="514.6" cy="45.5"/><circle cx="517.6" cy="45.4"/><circle cx="518.0" cy="45.9"/><circle cx="515.4" cy="45.9"/><circle cx="514.0" cy="45.3"/><circle cx="514.6" cy="45.2"/><circle cx="512.1" cy="43.2"/><circle cx="514.7" cy="43.5"/><circle cx="506.1" cy="40.0"/><circle cx="511.2" cy="41.0"/><circle cx="505.4" cy="40.7"/><circle cx="507.9" cy="39.6"/><circle cx="508.9" cy="40.5"/><circle cx="505.3" cy="40.6"/><circle cx="508.8" cy="39.8"/><circle cx="504.9" cy="40.3"/><circle cx="504.6" cy="26.6"/><circle cx="505.1" cy="27.0"/><circle cx="504.1" cy="26.2"/><circle cx="504.6" cy="26.0"/></g></g>
<line x1="457.7" y1="33.3" x2="460.7" y2="33.3" stroke="#333" stroke-width="0.8"/>
<text x="455.4" y="36.9" font-size="10" fill="#222" text-anchor="end">20</text>
<line x1="457.7" y1="72.9" x2="460.7" y2="72.9" stroke="#333" stroke-width="0.8"/>
<text x="455.4" y="76.5" font-size="10" fill="#222" text-anchor="end">0</text>
<line x1="457.7" y1="112.5" x2="460.7" y2="112.5" stroke="#333" stroke-width="0.8"/>
<text x="455.4" y="116.1" font-size="10" fill="#222" text-anchor="end">−20</text>
<line x1="457.7" y1="152.1" x2="460.7" y2="152.1" stroke="#333" stroke-width="0.8"/>
<text x="455.4" y="155.7" font-size="10" fill="#222" text-anchor="end">−40</text>
<line x1="467.45" y1="153.6" x2="467.45" y2="156.6" stroke="#333" stroke-width="0.8"/>
<text x="467.45" y="167" font-size="10" fill="#222" text-anchor="middle">−30</text>
<line x1="492.2" y1="153.6" x2="492.2" y2="156.6" stroke="#333" stroke-width="0.8"/>
<text x="492.2" y="167" font-size="10" fill="#222" text-anchor="middle">−20</text>
<line x1="516.95" y1="153.6" x2="516.95" y2="156.6" stroke="#333" stroke-width="0.8"/>
<text x="516.95" y="167" font-size="10" fill="#222" text-anchor="middle">−10</text>
<line x1="541.7" y1="153.6" x2="541.7" y2="156.6" stroke="#333" stroke-width="0.8"/>
<text x="541.7" y="167" font-size="10" fill="#222" text-anchor="middle">0</text>
<line x1="566.45" y1="153.6" x2="566.45" y2="156.6" stroke="#333" stroke-width="0.8"/>
<text x="566.45" y="167" font-size="10" fill="#222" text-anchor="middle">10</text>
<line x1="591.2" y1="153.6" x2="591.2" y2="156.6" stroke="#333" stroke-width="0.8"/>
<text x="591.2" y="167" font-size="10" fill="#222" text-anchor="middle">20</text>
<text x="532" y="180.3" font-size="11" fill="#111" text-anchor="middle">tSNE_1</text>
<text x="432" y="85" font-size="11.2" fill="#111" text-anchor="middle" transform="rotate(-90 432 85)">tSNE_2</text>
<text x="622.6" y="32.8" font-size="11" fill="#111">types</text>
<circle cx="631.1" cy="48.4" r="2" fill="#F8766D"/>
<text x="645.8" y="52.3" font-size="10" fill="#222">CCKC</text>
<circle cx="631.1" cy="66.3" r="2" fill="#B79F00"/>
<text x="645.8" y="70.2" font-size="10" fill="#222">CHC</text>
<circle cx="631.1" cy="84.2" r="2" fill="#00BA38"/>
<text x="645.8" y="88.1" font-size="10" fill="#222">ISC</text>
<circle cx="631.1" cy="102.1" r="2" fill="#00BFC4"/>
<text x="645.8" y="106" font-size="10" fill="#222">LPC</text>
<circle cx="631.1" cy="120" r="2" fill="#619CFF"/>
<text x="645.8" y="123.9" font-size="10" fill="#222">MNC</text>
<circle cx="631.1" cy="137.9" r="2" fill="#F564E3"/>
<text x="645.8" y="141.8" font-size="10" fill="#222">PVBC</text>
<rect x="278.3" y="191.6" width="107.2" height="30.1" fill="#d9d9d9" stroke="#555" stroke-width="0.8"/>
<rect x="278.3" y="221.7" width="107.2" height="96.6" fill="#fff" stroke="#666" stroke-width="0.8"/>
<text x="329.9" y="204.5" font-size="10.3" fill="#111" text-anchor="middle" font-weight="bold" font-style="italic" textLength="25.35" lengthAdjust="spacingAndGlyphs">Calm1</text>
<text x="331.9" y="216.1" font-size="10.3" fill="#111" text-anchor="middle">chr12:100209791:+</text>
<g class="d"><circle class="q9" cx="361.9" cy="228.9"/><circle class="q19" cx="327.7" cy="276.0"/><circle class="q9" cx="363.4" cy="283.9"/><circle class="q18" cx="316.6" cy="238.7"/><circle class="q14" cx="381.0" cy="287.5"/><circle class="q16" cx="308.3" cy="238.5"/><circle class="q12" cx="329.1" cy="265.9"/><circle class="q10" cx="285.5" cy="265.8"/><circle class="q13" cx="316.9" cy="242.3"/><circle class="q8" cx="362.2" cy="240.7"/><circle class="q9" cx="364.4" cy="242.1"/><circle class="q5" cx="365.0" cy="247.9"/><circle class="q7" cx="336.1" cy="310.8"/><circle class="q7" cx="332.0" cy="305.9"/><circle class="q13" cx="320.7" cy="236.4"/><circle class="q20" cx="370.2" cy="279.6"/><circle class="q7" cx="336.1" cy="310.0"/><circle class="q13" cx="319.2" cy="243.2"/><circle class="q13" cx="311.5" cy="243.3"/><circle class="q8" cx="361.4" cy="227.0"/><circle class="q10" cx="328.7" cy="268.7"/><circle class="q19" cx="315.2" cy="244.7"/><circle class="q6" cx="289.8" cy="263.2"/><circle class="q6" cx="327.4" cy="268.9"/><circle class="q10" cx="368.9" cy="279.7"/><circle class="q13" cx="309.9" cy="234.6"/><circle class="q6" cx="359.5" cy="272.5"/><circle class="q7" cx="335.1" cy="310.8"/><circle class="q5" cx="364.6" cy="228.8"/><circle class="q11" cx="319.3" cy="235.9"/><circle class="q16" cx="318.1" cy="242.8"/><circle class="q10" cx="325.7" cy="275.7"/><circle class="q13" cx="328.2" cy="274.5"/><circle class="q7" cx="286.9" cy="264.9"/><circle class="q2" cx="285.5" cy="263.7"/><circle class="q14" cx="313.5" cy="238.8"/><circle class="q10" cx="364.6" cy="228.3"/><circle class="q12" cx="366.2" cy="278.7"/><circle class="q13" cx="372.0" cy="276.0"/><circle class="q11" cx="293.7" cy="262.3"/><circle class="q16" cx="309.2" cy="232.6"/><circle class="q4" cx="363.7" cy="240.1"/><circle class="q10" cx="335.8" cy="310.6"/><circle class="q19" cx="308.6" cy="237.8"/><circle class="q15" cx="310.4" cy="239.1"/><circle class="q13" cx="328.2" cy="276.5"/><circle class="q14" cx="310.0" cy="242.8"/><circle class="q6" cx="358.8" cy="273.0"/><circle class="q15" cx="328.1" cy="265.4"/><circle class="q9" cx="360.5" cy="280.6"/><circle class="q5" cx="361.0" cy="282.8"/><circle class="q8" cx="366.3" cy="278.3"/><circle class="q4" cx="366.1" cy="247.5"/><circle class="q2" cx="361.9" cy="231.0"/><circle class="q16" cx="359.6" cy="278.4"/><circle class="q9" cx="361.7" cy="230.8"/><circle class="q10" cx="338.8" cy="314.0"/><circle class="q11" cx="311.1" cy="239.1"/><circle class="q14" cx="310.9" cy="238.3"/><circle class="q6" cx="336.0" cy="311.0"/><circle class="q6" cx="366.6" cy="281.5"/><circle class="q7" cx="364.2" cy="232.1"/><circle class="q12" cx="358.3" cy="233.1"/><circle class="q8" cx="284.4" cy="264.8"/><circle class="q9" cx="291.1" cy="262.8"/><circle class="q17" cx="308.7" cy="242.9"/><circle class="q5" cx="330.7" cy="306.4"/><circle class="q8" cx="283.8" cy="266.3"/><circle class="q11" cx="322.3" cy="237.6"/><circle class="q12" cx="321.7" cy="236.8"/><circle class="q20" cx="362.1" cy="279.2"/><circle class="q13" cx="310.2" cy="236.2"/><circle class="q11" cx="365.2" cy="248.9"/><circle class="q9" cx="360.4" cy="228.6"/><circle class="q19" cx="320.6" cy="236.0"/><circle class="q17" cx="318.4" cy="237.0"/><circle class="q11" cx="310.2" cy="243.4"/><circle class="q10" cx="361.9" cy="283.6"/><circle class="q8" cx="362.4" cy="230.9"/><circle class="q16" cx="367.4" cy="277.4"/><circle class="q13" cx="319.2" cy="236.5"/><circle class="q11" cx="309.2" cy="242.5"/><circle class="q9" cx="365.0" cy="237.6"/><circle class="q4" cx="361.7" cy="230.8"/><circle class="q8" cx="289.2" cy="263.9"/><circle class="q18" cx="316.0" cy="235.0"/><circle class="q8" cx="364.0" cy="285.4"/><circle class="q6" cx="331.7" cy="306.1"/><circle class="q8" cx="337.7" cy="307.9"/><circle class="q7" cx="290.3" cy="263.0"/><circle class="q19" cx="368.8" cy="277.1"/><circle class="q12" cx="365.1" cy="248.3"/><circle class="q8" cx="364.7" cy="244.3"/><circle class="q14" cx="310.7" cy="229.4"/><circle class="q15" cx="332.1" cy="275.7"/><circle class="q17" cx="360.6" cy="282.3"/><circle class="q11" cx="335.6" cy="310.2"/><circle class="q9" cx="328.7" cy="276.6"/><circle class="q14" cx="313.9" cy="245.1"/><circle class="q14" cx="330.9" cy="276.6"/><circle class="q12" cx="288.2" cy="264.5"/><circle class="q8" cx="310.5" cy="239.2"/><circle class="q8" cx="365.3" cy="249.7"/><circle class="q17" cx="318.7" cy="241.5"/><circle class="q10" cx="297.2" cy="267.1"/><circle class="q9" cx="369.0" cy="277.1"/><circle class="q10" cx="362.3" cy="227.3"/><circle class="q8" cx="318.3" cy="237.5"/><circle class="q8" cx="327.1" cy="275.2"/><circle class="q5" cx="362.6" cy="234.3"/><circle class="q7" cx="335.0" cy="307.8"/><circle class="q6" cx="338.7" cy="313.6"/><circle class="q6" cx="363.9" cy="241.0"/><circle class="q10" cx="286.6" cy="263.7"/><circle class="q3" cx="297.5" cy="266.0"/><circle class="q4" cx="335.8" cy="309.4"/><circle class="q7" cx="358.9" cy="276.5"/><circle class="q12" cx="326.4" cy="275.3"/><circle class="q13" cx="380.6" cy="287.3"/><circle class="q4" cx="365.3" cy="250.3"/><circle class="q10" cx="364.0" cy="231.8"/><circle class="q21" cx="368.0" cy="278.5"/><circle class="q17" cx="362.8" cy="283.4"/><circle class="q13" cx="313.9" cy="245.0"/><circle class="q16" cx="327.6" cy="271.5"/><circle class="q7" cx="365.3" cy="245.4"/><circle class="q8" cx="369.3" cy="280.3"/><circle class="q10" cx="362.5" cy="237.8"/><circle class="q13" cx="327.1" cy="275.9"/><circle class="q13" cx="366.6" cy="278.6"/><circle class="q1" cx="365.8" cy="246.7"/><circle class="q14" cx="358.1" cy="277.9"/><circle class="q11" cx="321.4" cy="239.0"/><circle class="q10" cx="363.9" cy="229.2"/><circle class="q8" cx="365.3" cy="240.4"/><circle class="q7" cx="335.6" cy="308.3"/><circle class="q17" cx="310.2" cy="242.7"/><circle class="q15" cx="319.7" cy="238.9"/><circle class="q8" cx="336.8" cy="311.7"/><circle class="q8" cx="369.7" cy="281.5"/><circle class="q11" cx="315.3" cy="245.3"/><circle class="q4" cx="364.9" cy="236.9"/><circle class="q12" cx="326.7" cy="271.5"/><circle class="q13" cx="320.2" cy="237.9"/><circle class="q11" cx="364.3" cy="248.4"/><circle class="q8" cx="285.6" cy="265.0"/><circle class="q14" cx="367.9" cy="273.7"/><circle class="q16" cx="315.8" cy="244.9"/><circle class="q6" cx="366.2" cy="228.0"/><circle class="q11" cx="359.1" cy="277.5"/><circle class="q17" cx="309.2" cy="236.4"/><circle class="q9" cx="360.4" cy="231.1"/><circle class="q14" cx="359.2" cy="274.5"/><circle class="q8" cx="362.5" cy="229.9"/><circle class="q3" cx="365.1" cy="248.9"/><circle class="q7" cx="326.8" cy="274.0"/><circle class="q10" cx="365.2" cy="238.0"/><circle class="q14" cx="327.7" cy="274.0"/><circle class="q18" cx="366.9" cy="279.8"/><circle class="q11" cx="371.4" cy="281.4"/><circle class="q20" cx="329.3" cy="266.5"/><circle class="q17" cx="309.4" cy="235.4"/><circle class="q16" cx="311.4" cy="230.0"/><circle class="q3" cx="327.1" cy="270.7"/><circle class="q17" cx="314.0" cy="235.3"/><circle class="q9" cx="367.1" cy="281.2"/><circle class="q9" cx="362.7" cy="234.2"/><circle class="q8" cx="335.3" cy="308.0"/><circle class="q8" cx="365.4" cy="225.9"/><circle class="q11" cx="372.1" cy="275.6"/><circle class="q5" cx="337.9" cy="313.4"/><circle class="q18" cx="316.2" cy="245.6"/><circle class="q9" cx="369.3" cy="278.6"/><circle class="q10" cx="336.7" cy="311.5"/><circle class="q14" cx="291.4" cy="263.4"/><circle class="q5" cx="283.2" cy="265.0"/><circle class="q18" cx="311.1" cy="229.7"/><circle class="q8" cx="289.4" cy="263.5"/><circle class="q12" cx="328.7" cy="266.3"/><circle class="q10" cx="285.5" cy="267.3"/><circle class="q15" cx="365.3" cy="281.3"/><circle class="q12" cx="329.4" cy="276.5"/><circle class="q2" cx="335.2" cy="311.9"/><circle class="q10" cx="290.5" cy="263.0"/><circle class="q7" cx="291.1" cy="262.9"/><circle class="q17" cx="374.0" cy="281.2"/><circle class="q12" cx="283.4" cy="264.6"/><circle class="q7" cx="362.8" cy="228.8"/><circle class="q8" cx="331.6" cy="308.6"/><circle class="q9" cx="364.8" cy="235.8"/><circle class="q13" cx="320.3" cy="237.9"/><circle class="q10" cx="327.0" cy="270.6"/><circle class="q8" cx="358.5" cy="229.4"/><circle class="q8" cx="364.6" cy="243.7"/><circle class="q7" cx="296.8" cy="266.3"/><circle class="q6" cx="363.3" cy="229.0"/><circle class="q6" cx="368.7" cy="275.3"/><circle class="q15" cx="318.7" cy="237.6"/><circle class="q9" cx="365.2" cy="237.2"/><circle class="q7" cx="366.0" cy="246.1"/><circle class="q10" cx="319.5" cy="238.9"/><circle class="q12" cx="334.6" cy="311.0"/><circle class="q8" cx="365.0" cy="248.0"/><circle class="q12" cx="368.0" cy="278.3"/><circle class="q7" cx="362.5" cy="241.2"/><circle class="q6" cx="365.0" cy="246.7"/><circle class="q9" cx="359.1" cy="281.1"/><circle class="q13" cx="310.4" cy="235.2"/><circle class="q15" cx="310.6" cy="236.0"/><circle class="q8" cx="285.5" cy="263.6"/><circle class="q12" cx="359.4" cy="238.4"/><circle class="q5" cx="367.4" cy="280.7"/><circle class="q17" cx="310.1" cy="242.3"/><circle class="q7" cx="369.6" cy="275.4"/><circle class="q17" cx="316.0" cy="239.8"/><circle class="q14" cx="319.8" cy="238.6"/><circle class="q18" cx="309.1" cy="235.8"/><circle class="q6" cx="331.6" cy="308.0"/><circle class="q11" cx="375.1" cy="284.9"/><circle class="q9" cx="364.9" cy="245.5"/><circle class="q9" cx="364.2" cy="247.2"/><circle class="q14" cx="314.5" cy="246.2"/><circle class="q10" cx="366.0" cy="247.9"/><circle class="q11" cx="364.1" cy="279.5"/><circle class="q7" cx="283.7" cy="264.9"/><circle class="q1" cx="336.1" cy="308.8"/><circle class="q8" cx="334.9" cy="308.8"/><circle class="q7" cx="365.3" cy="234.6"/><circle class="q5" cx="285.4" cy="266.0"/><circle class="q12" cx="365.8" cy="242.8"/><circle class="q11" cx="285.7" cy="265.5"/><circle class="q4" cx="286.2" cy="264.8"/><circle class="q8" cx="339.6" cy="313.0"/><circle class="q8" cx="296.6" cy="266.5"/><circle class="q2" cx="367.0" cy="282.6"/><circle class="q14" cx="370.7" cy="281.8"/><circle class="q6" cx="365.0" cy="235.4"/><circle class="q16" cx="359.0" cy="277.5"/><circle class="q11" cx="315.0" cy="245.7"/><circle class="q18" cx="318.6" cy="238.7"/><circle class="q16" cx="310.6" cy="236.4"/><circle class="q18" cx="315.3" cy="245.7"/><circle class="q8" cx="298.0" cy="266.2"/><circle class="q4" cx="331.1" cy="306.1"/><circle class="q7" cx="363.9" cy="239.7"/><circle class="q7" cx="366.5" cy="280.8"/><circle class="q17" cx="311.3" cy="239.3"/><circle class="q13" cx="362.2" cy="225.6"/><circle class="q13" cx="363.6" cy="284.9"/><circle class="q12" cx="328.3" cy="266.9"/><circle class="q10" cx="285.9" cy="265.9"/><circle class="q10" cx="362.6" cy="280.9"/><circle class="q9" cx="285.0" cy="266.3"/><circle class="q10" cx="339.1" cy="313.5"/><circle class="q11" cx="366.1" cy="245.9"/><circle class="q5" cx="356.5" cy="275.9"/><circle class="q9" cx="363.3" cy="229.0"/><circle class="q9" cx="284.9" cy="264.0"/><circle class="q8" cx="338.1" cy="314.2"/><circle class="q14" cx="316.2" cy="236.7"/><circle class="q9" cx="336.5" cy="310.0"/><circle class="q11" cx="283.1" cy="265.5"/><circle class="q17" cx="316.7" cy="241.3"/><circle class="q10" cx="288.9" cy="263.5"/><circle class="q8" cx="284.2" cy="265.3"/><circle class="q7" cx="366.2" cy="283.9"/><circle class="q7" cx="364.4" cy="247.0"/><circle class="q16" cx="311.4" cy="242.9"/><circle class="q9" cx="335.7" cy="313.7"/><circle class="q10" cx="320.2" cy="233.5"/><circle class="q15" cx="309.6" cy="236.8"/><circle class="q11" cx="361.3" cy="229.0"/><circle class="q16" cx="326.7" cy="272.6"/><circle class="q6" cx="368.1" cy="279.0"/><circle class="q5" cx="366.6" cy="237.2"/><circle class="q12" cx="327.9" cy="266.7"/><circle class="q5" cx="362.4" cy="240.3"/><circle class="q10" cx="369.1" cy="229.8"/><circle class="q7" cx="339.8" cy="314.1"/><circle class="q12" cx="365.9" cy="280.0"/><circle class="q12" cx="369.0" cy="276.6"/><circle class="q9" cx="370.2" cy="276.6"/><circle class="q13" cx="309.4" cy="237.1"/><circle class="q11" cx="321.1" cy="243.2"/><circle class="q8" cx="337.6" cy="308.3"/><circle class="q10" cx="310.8" cy="234.2"/><circle class="q17" cx="319.8" cy="236.8"/><circle class="q18" cx="310.6" cy="235.8"/><circle class="q8" cx="370.3" cy="274.9"/><circle class="q7" cx="338.3" cy="313.4"/><circle class="q13" cx="368.5" cy="283.5"/><circle class="q20" cx="318.9" cy="235.9"/><circle class="q15" cx="310.5" cy="242.9"/><circle class="q13" cx="358.2" cy="230.3"/><circle class="q8" cx="285.9" cy="264.8"/><circle class="q11" cx="284.0" cy="263.7"/><circle class="q12" cx="370.8" cy="280.0"/><circle class="q5" cx="282.9" cy="265.1"/><circle class="q7" cx="330.9" cy="306.8"/><circle class="q14" cx="364.0" cy="285.9"/><circle class="q13" cx="313.1" cy="235.8"/><circle class="q8" cx="367.4" cy="274.5"/><circle class="q7" cx="364.4" cy="240.9"/><circle class="q7" cx="371.6" cy="275.8"/><circle class="q8" cx="364.8" cy="242.9"/><circle class="q11" cx="286.5" cy="265.6"/><circle class="q15" cx="311.8" cy="236.8"/><circle class="q13" cx="310.1" cy="237.1"/><circle class="q9" cx="362.2" cy="284.4"/><circle class="q16" cx="320.8" cy="237.9"/><circle class="q8" cx="369.9" cy="276.1"/><circle class="q19" cx="308.8" cy="235.7"/><circle class="q10" cx="362.0" cy="239.1"/><circle class="q6" cx="366.3" cy="284.6"/><circle class="q13" cx="310.0" cy="234.3"/><circle class="q9" cx="366.1" cy="281.4"/><circle class="q9" cx="362.9" cy="240.6"/><circle class="q15" cx="327.3" cy="275.5"/><circle class="q7" cx="284.2" cy="265.6"/><circle class="q15" cx="318.8" cy="241.1"/><circle class="q9" cx="366.1" cy="281.5"/><circle class="q7" cx="339.0" cy="314.3"/><circle class="q16" cx="313.6" cy="245.0"/><circle class="q6" cx="337.6" cy="313.0"/><circle class="q6" cx="335.8" cy="309.1"/><circle class="q14" cx="314.6" cy="235.9"/><circle class="q15" cx="362.4" cy="229.6"/><circle class="q7" cx="296.0" cy="265.9"/><circle class="q14" cx="363.0" cy="280.8"/><circle class="q8" cx="369.8" cy="279.4"/><circle class="q13" cx="283.1" cy="265.1"/><circle class="q11" cx="361.5" cy="277.3"/><circle class="q11" cx="285.5" cy="265.8"/><circle class="q8" cx="365.4" cy="249.2"/><circle class="q8" cx="336.0" cy="309.1"/><circle class="q6" cx="289.0" cy="263.5"/><circle class="q12" cx="296.6" cy="266.2"/><circle class="q14" cx="369.4" cy="282.1"/><circle class="q8" cx="286.2" cy="265.9"/><circle class="q17" cx="363.9" cy="279.9"/><circle class="q12" cx="364.3" cy="241.5"/><circle class="q2" cx="290.8" cy="261.8"/><circle class="q11" cx="289.9" cy="265.0"/><circle class="q16" cx="375.8" cy="285.3"/><circle class="q15" cx="310.3" cy="241.9"/><circle class="q10" cx="363.7" cy="243.8"/><circle class="q10" cx="320.7" cy="237.0"/><circle class="q12" cx="329.5" cy="276.4"/><circle class="q14" cx="329.1" cy="264.9"/><circle class="q16" cx="309.3" cy="236.9"/><circle class="q8" cx="361.2" cy="281.2"/><circle class="q10" cx="364.3" cy="241.3"/><circle class="q13" cx="321.9" cy="238.6"/><circle class="q12" cx="370.8" cy="280.1"/><circle class="q6" cx="284.4" cy="265.2"/><circle class="q15" cx="360.4" cy="279.5"/><circle class="q17" cx="319.2" cy="234.9"/><circle class="q12" cx="330.5" cy="306.1"/><circle class="q7" cx="361.2" cy="226.1"/><circle class="q12" cx="363.6" cy="243.4"/><circle class="q12" cx="364.9" cy="236.7"/><circle class="q6" cx="364.3" cy="245.5"/><circle class="q11" cx="311.7" cy="239.6"/><circle class="q8" cx="363.5" cy="282.7"/><circle class="q11" cx="287.7" cy="266.4"/><circle class="q7" cx="363.2" cy="236.2"/><circle class="q10" cx="368.4" cy="273.4"/><circle class="q8" cx="364.4" cy="245.9"/><circle class="q10" cx="327.1" cy="276.9"/><circle class="q14" cx="311.6" cy="239.5"/><circle class="q11" cx="318.5" cy="238.3"/><circle class="q16" cx="315.5" cy="235.1"/><circle class="q6" cx="364.7" cy="231.0"/><circle class="q5" cx="363.7" cy="248.3"/><circle class="q9" cx="364.1" cy="240.9"/><circle class="q10" cx="308.1" cy="235.1"/><circle class="q14" cx="312.2" cy="239.0"/><circle class="q9" cx="364.2" cy="246.6"/><circle class="q12" cx="312.7" cy="245.1"/><circle class="q1" cx="365.1" cy="247.5"/><circle class="q10" cx="366.5" cy="279.2"/><circle class="q8" cx="363.5" cy="227.0"/><circle class="q8" cx="328.0" cy="266.8"/><circle class="q22" cx="327.5" cy="274.7"/><circle class="q6" cx="335.5" cy="309.4"/><circle class="q14" cx="314.9" cy="245.0"/><circle class="q8" cx="309.4" cy="239.2"/><circle class="q9" cx="360.7" cy="280.1"/><circle class="q19" cx="371.5" cy="281.9"/><circle class="q9" cx="314.3" cy="239.4"/><circle class="q5" cx="328.0" cy="275.8"/><circle class="q15" cx="311.1" cy="229.3"/><circle class="q19" cx="320.8" cy="242.8"/><circle class="q8" cx="338.8" cy="313.9"/><circle class="q6" cx="336.4" cy="310.3"/><circle class="q11" cx="318.7" cy="235.0"/><circle class="q12" cx="314.4" cy="234.1"/><circle class="q6" cx="287.5" cy="265.4"/><circle class="q11" cx="358.8" cy="281.1"/><circle class="q10" cx="362.8" cy="238.5"/><circle class="q16" cx="366.8" cy="279.0"/><circle class="q8" cx="362.5" cy="232.0"/><circle class="q5" cx="365.8" cy="279.8"/><circle class="q11" cx="360.3" cy="233.3"/><circle class="q9" cx="364.0" cy="243.5"/><circle class="q4" cx="362.8" cy="284.4"/><circle class="q8" cx="338.0" cy="313.5"/><circle class="q14" cx="325.8" cy="272.8"/><circle class="q7" cx="297.5" cy="265.9"/><circle class="q4" cx="363.3" cy="241.7"/><circle class="q18" cx="309.6" cy="236.2"/><circle class="q8" cx="322.8" cy="236.6"/><circle class="q18" cx="309.7" cy="235.2"/><circle class="q6" cx="362.8" cy="227.9"/><circle class="q14" cx="360.9" cy="275.6"/><circle class="q15" cx="364.7" cy="281.5"/><circle class="q11" cx="330.9" cy="275.7"/><circle class="q5" cx="362.3" cy="283.7"/><circle class="q11" cx="297.1" cy="266.3"/><circle class="q13" cx="328.2" cy="274.4"/><circle class="q15" cx="310.6" cy="238.7"/><circle class="q16" cx="307.3" cy="237.5"/><circle class="q10" cx="365.6" cy="232.2"/><circle class="q7" cx="287.9" cy="265.3"/></g>
<line x1="275.5" y1="234.4" x2="278.3" y2="234.4" stroke="#333" stroke-width="0.8"/>
<text x="273.7" y="237.9" font-size="10" fill="#222" text-anchor="end">20</text>
<line x1="275.5" y1="262" x2="278.3" y2="262" stroke="#333" stroke-width="0.8"/>
<text x="273.7" y="265.5" font-size="10" fill="#222" text-anchor="end">0</text>
<line x1="275.5" y1="289.6" x2="278.3" y2="289.6" stroke="#333" stroke-width="0.8"/>
<text x="273.7" y="293.1" font-size="10" fill="#222" text-anchor="end">−20</text>
<line x1="275.5" y1="317.2" x2="278.3" y2="317.2" stroke="#333" stroke-width="0.8"/>
<text x="273.7" y="320.7" font-size="10" fill="#222" text-anchor="end">−40</text>
<rect x="392.2" y="191.6" width="107.2" height="30.1" fill="#d9d9d9" stroke="#555" stroke-width="0.8"/>
<rect x="392.2" y="221.7" width="107.2" height="96.6" fill="#fff" stroke="#666" stroke-width="0.8"/>
<text x="443.8" y="204.5" font-size="10.3" fill="#111" text-anchor="middle" font-weight="bold" font-style="italic" textLength="20.66" lengthAdjust="spacingAndGlyphs">Kif3c</text>
<text x="445.8" y="216.1" font-size="10.3" fill="#111" text-anchor="middle">chr12:3404066:+</text>
<g class="d"><circle class="q5" cx="477.4" cy="227.0"/><circle class="q23" cx="451.8" cy="313.4"/><circle class="q8" cx="423.5" cy="236.2"/><circle class="q21" cx="445.0" cy="306.1"/><circle class="q20" cx="470.4" cy="275.9"/><circle class="q6" cx="478.8" cy="240.6"/><circle class="q2" cx="476.6" cy="234.2"/><circle class="q7" cx="477.2" cy="231.1"/><circle class="q13" cx="472.8" cy="280.4"/><circle class="q1" cx="485.4" cy="281.9"/><circle class="q5" cx="429.9" cy="235.0"/><circle class="q5" cx="475.4" cy="277.3"/><circle class="q7" cx="442.6" cy="266.3"/><circle class="q7" cx="476.7" cy="227.9"/><circle class="q20" cx="451.5" cy="308.3"/><circle class="q7" cx="403.1" cy="263.9"/><circle class="q23" cx="452.3" cy="314.0"/><circle class="q3" cx="411.9" cy="266.2"/><circle class="q9" cx="443.0" cy="265.9"/><circle class="q19" cx="440.9" cy="270.6"/><circle class="q9" cx="478.5" cy="243.7"/><circle class="q2" cx="475.8" cy="283.6"/><circle class="q16" cx="478.9" cy="248.0"/><circle class="q8" cx="428.3" cy="234.1"/><circle class="q17" cx="480.4" cy="236.8"/><circle class="q13" cx="397.1" cy="265.0"/><circle class="q18" cx="440.9" cy="268.3"/><circle class="q24" cx="451.9" cy="313.5"/><circle class="q5" cx="424.3" cy="235.2"/><circle class="q11" cx="477.6" cy="243.8"/><circle class="q6" cx="476.5" cy="280.9"/><circle class="q13" cx="426.6" cy="245.1"/><circle class="q20" cx="473.0" cy="277.5"/><circle class="q9" cx="427.4" cy="238.8"/><circle class="q22" cx="451.7" cy="313.1"/><circle class="q2" cx="473.1" cy="274.5"/><circle class="q6" cx="423.3" cy="235.4"/><circle class="q13" cx="482.7" cy="277.1"/><circle class="q7" cx="478.6" cy="244.3"/><circle class="q6" cx="442.0" cy="265.4"/><circle class="q10" cx="477.8" cy="239.7"/><circle class="q3" cx="475.6" cy="230.8"/><circle class="q24" cx="452.2" cy="313.4"/><circle class="q14" cx="429.2" cy="245.3"/><circle class="q9" cx="405.0" cy="263.6"/><circle class="q1" cx="479.0" cy="247.5"/><circle class="q6" cx="400.4" cy="265.6"/><circle class="q1" cx="481.3" cy="280.7"/><circle class="q7" cx="401.8" cy="265.3"/><circle class="q3" cx="481.0" cy="281.2"/><circle class="q9" cx="479.7" cy="242.8"/><circle class="q3" cx="481.3" cy="277.4"/><circle class="q11" cx="478.2" cy="248.4"/><circle class="q2" cx="480.1" cy="283.9"/><circle class="q8" cx="401.1" cy="266.1"/><circle class="q6" cx="397.9" cy="265.4"/><circle class="q3" cx="476.1" cy="284.4"/><circle class="q24" cx="474.6" cy="280.1"/><circle class="q3" cx="474.8" cy="275.6"/><circle class="q5" cx="404.7" cy="261.8"/><circle class="q21" cx="449.6" cy="313.7"/><circle class="q9" cx="435.6" cy="236.8"/><circle class="q3" cx="398.3" cy="264.8"/><circle class="q12" cx="422.2" cy="238.5"/><circle class="q2" cx="441.2" cy="275.5"/><circle class="q10" cx="424.2" cy="241.9"/><circle class="q2" cx="482.3" cy="273.4"/><circle class="q6" cx="477.7" cy="241.8"/><circle class="q11" cx="429.4" cy="235.1"/><circle class="q20" cx="450.3" cy="310.3"/><circle class="q13" cx="476.5" cy="234.3"/><circle class="q3" cx="494.5" cy="287.3"/><circle class="q10" cx="441.6" cy="276.0"/><circle class="q3" cx="484.7" cy="280.0"/><circle class="q19" cx="453.0" cy="313.5"/><circle class="q2" cx="483.7" cy="279.4"/><circle class="q1" cx="485.5" cy="275.8"/><circle class="q23" cx="480.1" cy="278.7"/><circle class="q13" cx="421.2" cy="237.5"/><circle class="q2" cx="472.7" cy="281.1"/><circle class="q10" cx="474.3" cy="231.1"/><circle class="q24" cx="453.5" cy="313.0"/><circle class="q15" cx="399.3" cy="266.0"/><circle class="q20" cx="448.5" cy="311.0"/><circle class="q11" cx="478.8" cy="236.7"/><circle class="q20" cx="443.3" cy="276.5"/><circle class="q21" cx="448.9" cy="307.8"/><circle class="q6" cx="432.3" cy="237.0"/><circle class="q13" cx="477.1" cy="236.2"/><circle class="q4" cx="487.9" cy="281.2"/><circle class="q3" cx="472.8" cy="276.5"/><circle class="q23" cx="452.9" cy="314.3"/><circle class="q15" cx="424.5" cy="236.0"/><circle class="q12" cx="423.5" cy="236.8"/><circle class="q10" cx="472.2" cy="233.1"/><circle class="q7" cx="405.0" cy="262.8"/><circle class="q14" cx="479.3" cy="245.2"/><circle class="q11" cx="401.4" cy="265.4"/><circle class="q11" cx="475.8" cy="231.0"/><circle class="q5" cx="397.6" cy="264.9"/><circle class="q0" cx="480.7" cy="279.8"/><circle class="q10" cx="474.3" cy="228.6"/><circle class="q5" cx="399.4" cy="267.3"/><circle class="q24" cx="478.0" cy="279.5"/><circle class="q10" cx="399.6" cy="265.5"/><circle class="q14" cx="478.9" cy="237.6"/><circle class="q6" cx="397.0" cy="265.5"/><circle class="q8" cx="425.5" cy="239.5"/><circle class="q14" cx="478.0" cy="243.0"/><circle class="q14" cx="422.0" cy="235.1"/><circle class="q9" cx="423.2" cy="236.9"/><circle class="q7" cx="423.1" cy="232.6"/><circle class="q9" cx="430.5" cy="238.7"/><circle class="q23" cx="451.8" cy="311.0"/><circle class="q9" cx="399.8" cy="265.9"/><circle class="q23" cx="450.1" cy="312.8"/><circle class="q14" cx="473.3" cy="238.4"/><circle class="q10" cx="430.8" cy="242.3"/><circle class="q14" cx="472.1" cy="230.3"/><circle class="q24" cx="449.0" cy="310.8"/><circle class="q13" cx="443.0" cy="264.9"/><circle class="q10" cx="434.9" cy="235.7"/><circle class="q12" cx="443.7" cy="275.7"/><circle class="q8" cx="427.0" cy="235.8"/><circle class="q2" cx="474.3" cy="279.5"/><circle class="q0" cx="480.0" cy="247.5"/><circle class="q12" cx="425.0" cy="239.1"/><circle class="q17" cx="424.1" cy="242.7"/><circle class="q9" cx="477.7" cy="230.6"/><circle class="q9" cx="433.2" cy="235.9"/><circle class="q11" cx="478.9" cy="246.7"/><circle class="q12" cx="478.3" cy="240.9"/><circle class="q20" cx="441.8" cy="266.7"/><circle class="q24" cx="444.4" cy="306.1"/><circle class="q13" cx="477.8" cy="241.0"/><circle class="q10" cx="407.6" cy="262.3"/><circle class="q8" cx="476.0" cy="235.6"/><circle class="q24" cx="449.9" cy="309.1"/><circle class="q2" cx="485.9" cy="276.0"/><circle class="q7" cx="399.4" cy="263.7"/><circle class="q15" cx="428.9" cy="245.7"/><circle class="q11" cx="399.3" cy="265.8"/><circle class="q22" cx="452.0" cy="314.2"/><circle class="q8" cx="478.8" cy="245.5"/><circle class="q8" cx="424.8" cy="238.3"/><circle class="q13" cx="435.8" cy="238.6"/><circle class="q0" cx="482.4" cy="283.5"/><circle class="q6" cx="433.7" cy="236.8"/><circle class="q10" cx="478.5" cy="228.3"/><circle class="q11" cx="476.7" cy="228.8"/><circle class="q10" cx="403.3" cy="263.5"/><circle class="q4" cx="478.9" cy="247.9"/><circle class="q19" cx="475.9" cy="278.6"/><circle class="q24" cx="444.1" cy="304.8"/><circle class="q8" cx="425.7" cy="236.8"/><circle class="q23" cx="450.4" cy="310.0"/><circle class="q3" cx="422.7" cy="235.7"/><circle class="q10" cx="477.7" cy="241.6"/><circle class="q17" cx="474.9" cy="282.8"/><circle class="q7" cx="477.7" cy="229.2"/><circle class="q3" cx="399.8" cy="264.8"/><circle class="q10" cx="428.2" cy="239.4"/><circle class="q10" cx="478.0" cy="249.9"/><circle class="q15" cx="432.7" cy="241.1"/><circle class="q13" cx="432.5" cy="238.7"/><circle class="q14" cx="398.3" cy="265.2"/><circle class="q10" cx="419.4" cy="237.7"/><circle class="q11" cx="425.2" cy="239.3"/><circle class="q9" cx="423.6" cy="235.2"/><circle class="q15" cx="440.6" cy="271.5"/><circle class="q1" cx="479.1" cy="248.9"/><circle class="q14" cx="396.8" cy="265.1"/><circle class="q15" cx="422.3" cy="238.4"/><circle class="q8" cx="446.0" cy="275.7"/><circle class="q2" cx="478.6" cy="281.5"/><circle class="q13" cx="424.5" cy="238.7"/><circle class="q21" cx="446.3" cy="305.7"/><circle class="q3" cx="482.9" cy="276.6"/><circle class="q12" cx="411.1" cy="267.1"/><circle class="q10" cx="477.8" cy="229.2"/><circle class="q6" cx="398.1" cy="265.6"/><circle class="q9" cx="441.0" cy="270.7"/><circle class="q12" cx="410.7" cy="266.3"/><circle class="q10" cx="423.3" cy="239.2"/><circle class="q13" cx="432.6" cy="235.0"/><circle class="q10" cx="477.6" cy="248.3"/><circle class="q16" cx="434.1" cy="237.9"/><circle class="q7" cx="423.0" cy="235.8"/><circle class="q12" cx="435.3" cy="239.0"/><circle class="q18" cx="474.1" cy="280.3"/><circle class="q21" cx="451.6" cy="307.9"/><circle class="q9" cx="477.1" cy="230.4"/><circle class="q7" cx="476.3" cy="230.9"/><circle class="q11" cx="410.5" cy="266.5"/><circle class="q9" cx="429.2" cy="245.7"/><circle class="q15" cx="424.7" cy="234.2"/><circle class="q9" cx="432.4" cy="238.3"/><circle class="q5" cx="428.1" cy="238.9"/><circle class="q23" cx="476.7" cy="283.4"/><circle class="q8" cx="433.1" cy="234.9"/><circle class="q15" cx="479.8" cy="280.0"/><circle class="q7" cx="402.1" cy="264.3"/><circle class="q10" cx="478.7" cy="235.8"/><circle class="q13" cx="401.6" cy="266.4"/><circle class="q23" cx="480.0" cy="281.4"/><circle class="q9" cx="479.9" cy="247.9"/><circle class="q3" cx="477.5" cy="283.2"/><circle class="q2" cx="475.1" cy="281.2"/><circle class="q24" cx="449.4" cy="309.4"/><circle class="q6" cx="424.6" cy="229.4"/><circle class="q13" cx="478.7" cy="242.9"/><circle class="q9" cx="479.2" cy="250.3"/><circle class="q13" cx="428.8" cy="245.0"/><circle class="q8" cx="479.6" cy="243.0"/><circle class="q11" cx="478.9" cy="235.4"/><circle class="q23" cx="445.5" cy="308.0"/><circle class="q4" cx="476.4" cy="241.2"/><circle class="q22" cx="453.7" cy="314.1"/><circle class="q7" cx="476.9" cy="234.5"/><circle class="q18" cx="477.5" cy="284.9"/><circle class="q7" cx="478.3" cy="242.1"/><circle class="q16" cx="405.3" cy="263.4"/><circle class="q16" cx="439.6" cy="275.7"/><circle class="q17" cx="478.1" cy="285.2"/><circle class="q12" cx="429.8" cy="235.9"/><circle class="q13" cx="429.1" cy="244.7"/><circle class="q23" cx="449.9" cy="311.0"/><circle class="q11" cx="477.5" cy="243.4"/><circle class="q22" cx="452.7" cy="314.0"/><circle class="q13" cx="400.1" cy="265.9"/><circle class="q14" cx="402.9" cy="263.5"/><circle class="q21" cx="449.3" cy="310.6"/><circle class="q20" cx="484.3" cy="283.2"/><circle class="q19" cx="444.8" cy="276.6"/><circle class="q11" cx="410.5" cy="266.2"/><circle class="q18" cx="480.5" cy="281.5"/><circle class="q14" cx="434.7" cy="237.9"/><circle class="q6" cx="477.2" cy="241.7"/><circle class="q9" cx="476.7" cy="238.5"/><circle class="q8" cx="478.2" cy="245.5"/><circle class="q3" cx="478.1" cy="247.2"/><circle class="q11" cx="477.9" cy="231.8"/><circle class="q23" cx="445.9" cy="305.9"/><circle class="q2" cx="480.5" cy="278.6"/><circle class="q10" cx="397.3" cy="264.6"/><circle class="q1" cx="476.2" cy="283.7"/><circle class="q10" cx="477.9" cy="282.9"/><circle class="q24" cx="452.7" cy="313.9"/><circle class="q15" cx="427.3" cy="235.4"/><circle class="q3" cx="486.0" cy="275.6"/><circle class="q3" cx="484.7" cy="280.1"/><circle class="q23" cx="484.2" cy="274.9"/><circle class="q9" cx="483.0" cy="229.8"/><circle class="q12" cx="434.6" cy="236.4"/><circle class="q13" cx="399.5" cy="265.0"/><circle class="q4" cx="478.8" cy="236.9"/><circle class="q2" cx="475.3" cy="227.0"/><circle class="q3" cx="482.9" cy="277.1"/><circle class="q10" cx="399.4" cy="263.6"/><circle class="q10" cx="423.3" cy="237.1"/><circle class="q3" cx="472.4" cy="229.4"/><circle class="q5" cx="404.4" cy="263.0"/><circle class="q20" cx="474.5" cy="282.3"/><circle class="q10" cx="403.7" cy="263.2"/><circle class="q23" cx="452.5" cy="313.7"/><circle class="q8" cx="480.2" cy="252.0"/><circle class="q7" cx="400.1" cy="265.1"/><circle class="q14" cx="432.4" cy="242.7"/><circle class="q3" cx="483.5" cy="275.4"/><circle class="q11" cx="476.8" cy="240.6"/><circle class="q18" cx="480.9" cy="282.6"/><circle class="q14" cx="479.9" cy="238.1"/><circle class="q10" cx="477.9" cy="243.5"/><circle class="q9" cx="475.1" cy="226.1"/><circle class="q11" cx="435.0" cy="237.1"/><circle class="q16" cx="424.9" cy="229.7"/><circle class="q8" cx="479.2" cy="245.4"/><circle class="q11" cx="478.1" cy="246.6"/><circle class="q6" cx="476.3" cy="229.6"/><circle class="q10" cx="476.4" cy="229.9"/><circle class="q17" cx="442.1" cy="274.5"/><circle class="q10" cx="478.3" cy="245.9"/><circle class="q5" cx="483.2" cy="278.6"/><circle class="q17" cx="441.3" cy="268.9"/><circle class="q7" cx="411.4" cy="266.0"/><circle class="q10" cx="433.6" cy="238.9"/><circle class="q21" cx="445.5" cy="308.6"/><circle class="q8" cx="476.4" cy="232.0"/><circle class="q8" cx="441.0" cy="275.2"/><circle class="q9" cx="478.3" cy="247.0"/><circle class="q0" cx="472.7" cy="273.0"/><circle class="q21" cx="450.6" cy="311.5"/><circle class="q10" cx="412.1" cy="266.1"/><circle class="q6" cx="478.5" cy="228.8"/><circle class="q14" cx="473.5" cy="278.4"/><circle class="q11" cx="476.3" cy="240.3"/><circle class="q10" cx="428.4" cy="246.2"/><circle class="q12" cx="430.6" cy="241.3"/><circle class="q23" cx="450.0" cy="310.0"/><circle class="q12" cx="478.1" cy="232.1"/><circle class="q11" cx="425.6" cy="239.6"/><circle class="q22" cx="449.5" cy="308.3"/><circle class="q2" cx="479.2" cy="249.7"/><circle class="q2" cx="476.2" cy="227.3"/><circle class="q11" cx="400.1" cy="264.8"/><circle class="q12" cx="427.8" cy="245.1"/><circle class="q15" cx="424.1" cy="243.4"/><circle class="q12" cx="432.8" cy="235.9"/><circle class="q11" cx="424.3" cy="239.1"/><circle class="q11" cx="424.9" cy="229.3"/><circle class="q14" cx="429.7" cy="244.9"/><circle class="q8" cx="403.8" cy="265.0"/><circle class="q6" cx="476.4" cy="237.8"/><circle class="q4" cx="477.2" cy="229.0"/><circle class="q0" cx="484.9" cy="279.7"/><circle class="q5" cx="478.6" cy="231.0"/><circle class="q12" cx="480.0" cy="245.9"/><circle class="q16" cx="477.9" cy="285.4"/><circle class="q13" cx="477.8" cy="279.9"/><circle class="q14" cx="424.1" cy="236.2"/><circle class="q9" cx="478.2" cy="241.3"/><circle class="q12" cx="400.1" cy="265.5"/><circle class="q24" cx="449.5" cy="310.2"/><circle class="q3" cx="474.4" cy="280.6"/><circle class="q8" cx="434.7" cy="242.8"/><circle class="q8" cx="425.3" cy="230.0"/><circle class="q1" cx="477.3" cy="234.7"/><circle class="q19" cx="398.8" cy="264.0"/><circle class="q9" cx="432.6" cy="237.6"/><circle class="q14" cx="411.4" cy="265.9"/><circle class="q5" cx="440.3" cy="275.3"/><circle class="q14" cx="433.1" cy="243.2"/><circle class="q8" cx="400.3" cy="264.6"/><circle class="q14" cx="479.1" cy="238.0"/><circle class="q2" cx="473.4" cy="272.5"/><circle class="q10" cx="479.7" cy="246.7"/><circle class="q9" cx="479.9" cy="246.1"/><circle class="q9" cx="479.0" cy="248.3"/><circle class="q9" cx="479.0" cy="248.9"/><circle class="q7" cx="427.8" cy="245.0"/><circle class="q5" cx="479.9" cy="229.6"/><circle class="q8" cx="425.4" cy="243.3"/><circle class="q15" cx="424.4" cy="239.2"/><circle class="q20" cx="448.8" cy="308.8"/><circle class="q9" cx="480.1" cy="235.6"/><circle class="q3" cx="478.0" cy="240.9"/><circle class="q13" cx="423.1" cy="236.4"/><circle class="q11" cx="432.2" cy="237.5"/><circle class="q3" cx="480.1" cy="228.0"/><circle class="q1" cx="398.9" cy="266.3"/><circle class="q21" cx="450.0" cy="308.8"/><circle class="q22" cx="449.7" cy="309.1"/><circle class="q4" cx="484.1" cy="279.6"/><circle class="q10" cx="477.2" cy="229.0"/><circle class="q10" cx="427.5" cy="245.0"/><circle class="q14" cx="480.2" cy="284.6"/><circle class="q19" cx="483.6" cy="281.5"/><circle class="q9" cx="434.1" cy="233.5"/><circle class="q17" cx="424.4" cy="242.9"/><circle class="q23" cx="449.2" cy="308.0"/><circle class="q11" cx="475.9" cy="239.1"/><circle class="q9" cx="482.0" cy="279.0"/><circle class="q2" cx="480.7" cy="279.0"/><circle class="q11" cx="430.1" cy="245.6"/><circle class="q18" cx="479.2" cy="281.3"/><circle class="q5" cx="398.1" cy="265.3"/><circle class="q14" cx="429.9" cy="239.8"/><circle class="q9" cx="436.2" cy="237.6"/><circle class="q19" cx="485.5" cy="283.3"/><circle class="q11" cx="479.2" cy="240.4"/><circle class="q13" cx="479.5" cy="232.2"/><circle class="q3" cx="405.0" cy="262.9"/><circle class="q6" cx="479.3" cy="249.2"/><circle class="q15" cx="404.2" cy="263.0"/><circle class="q5" cx="481.9" cy="278.3"/><circle class="q8" cx="411.0" cy="266.3"/><circle class="q20" cx="445.6" cy="306.1"/><circle class="q21" cx="471.3" cy="276.1"/><circle class="q15" cx="435.1" cy="237.1"/><circle class="q8" cx="432.4" cy="236.4"/><circle class="q14" cx="424.8" cy="237.0"/><circle class="q6" cx="409.9" cy="265.9"/><circle class="q8" cx="477.6" cy="240.1"/><circle class="q9" cx="479.2" cy="234.6"/><circle class="q24" cx="473.0" cy="281.1"/><circle class="q8" cx="441.0" cy="275.9"/><circle class="q9" cx="423.8" cy="234.6"/><circle class="q12" cx="442.1" cy="274.4"/><circle class="q21" cx="450.7" cy="311.7"/><circle class="q9" cx="433.1" cy="236.5"/><circle class="q19" cx="476.9" cy="280.8"/><circle class="q14" cx="483.8" cy="276.1"/><circle class="q23" cx="452.6" cy="313.6"/><circle class="q9" cx="398.9" cy="266.3"/><circle class="q11" cx="480.5" cy="237.2"/><circle class="q9" cx="476.1" cy="240.7"/><circle class="q9" cx="474.2" cy="231.2"/><circle class="q13" cx="400.8" cy="264.9"/><circle class="q19" cx="483.2" cy="280.3"/><circle class="q16" cx="434.2" cy="237.9"/><circle class="q4" cx="482.8" cy="279.7"/><circle class="q22" cx="444.6" cy="306.4"/><circle class="q9" cx="404.9" cy="263.3"/></g>
<rect x="505.9" y="191.6" width="107.2" height="30.1" fill="#d9d9d9" stroke="#555" stroke-width="0.8"/>
<rect x="505.9" y="221.7" width="107.2" height="96.6" fill="#fff" stroke="#666" stroke-width="0.8"/>
<text x="557.5" y="204.5" font-size="10.3" fill="#111" text-anchor="middle" font-weight="bold" font-style="italic" textLength="21.6" lengthAdjust="spacingAndGlyphs">Map4</text>
<text x="559.5" y="216.1" font-size="10.3" fill="#111" text-anchor="middle">chr9:110005389:+</text>
<g class="d"><circle class="q0" cx="586.5" cy="280.4"/><circle class="q19" cx="592.3" cy="231.0"/><circle class="q22" cx="593.3" cy="243.0"/><circle class="q1" cx="591.6" cy="285.4"/><circle class="q7" cx="538.1" cy="239.2"/><circle class="q5" cx="538.2" cy="238.7"/><circle class="q12" cx="547.1" cy="238.9"/><circle class="q22" cx="593.6" cy="247.9"/><circle class="q20" cx="592.3" cy="244.3"/><circle class="q17" cx="593.4" cy="246.7"/><circle class="q3" cx="598.6" cy="279.7"/><circle class="q12" cx="564.1" cy="310.0"/><circle class="q16" cx="563.4" cy="309.1"/><circle class="q9" cx="555.0" cy="268.9"/><circle class="q13" cx="525.1" cy="265.9"/><circle class="q19" cx="590.9" cy="241.7"/><circle class="q3" cx="542.8" cy="244.7"/><circle class="q3" cx="596.6" cy="276.6"/><circle class="q3" cx="546.3" cy="235.0"/><circle class="q2" cx="599.6" cy="276.0"/><circle class="q14" cx="563.8" cy="312.8"/><circle class="q10" cx="536.0" cy="238.4"/><circle class="q11" cx="513.5" cy="265.9"/><circle class="q1" cx="593.4" cy="279.8"/><circle class="q3" cx="597.8" cy="279.6"/><circle class="q14" cx="538.4" cy="238.5"/><circle class="q6" cx="543.8" cy="236.7"/><circle class="q7" cx="538.2" cy="235.8"/><circle class="q16" cx="515.5" cy="265.3"/><circle class="q23" cx="591.4" cy="230.6"/><circle class="q14" cx="510.7" cy="265.1"/><circle class="q11" cx="513.0" cy="266.0"/><circle class="q20" cx="560.0" cy="305.7"/><circle class="q5" cx="537.6" cy="234.3"/><circle class="q12" cx="563.7" cy="310.8"/><circle class="q13" cx="537.8" cy="236.2"/><circle class="q2" cx="594.1" cy="280.8"/><circle class="q8" cx="546.2" cy="238.7"/><circle class="q23" cx="593.8" cy="235.6"/><circle class="q18" cx="591.5" cy="239.7"/><circle class="q6" cx="565.9" cy="313.4"/><circle class="q0" cx="599.2" cy="283.3"/><circle class="q22" cx="587.9" cy="231.2"/><circle class="q21" cx="592.0" cy="240.9"/><circle class="q12" cx="559.2" cy="308.0"/><circle class="q5" cx="555.3" cy="276.0"/><circle class="q1" cx="596.9" cy="280.3"/><circle class="q12" cx="563.2" cy="308.3"/><circle class="q12" cx="517.9" cy="263.0"/><circle class="q20" cx="590.9" cy="229.0"/><circle class="q4" cx="591.2" cy="284.9"/><circle class="q9" cx="513.0" cy="265.8"/><circle class="q21" cx="590.0" cy="230.9"/><circle class="q22" cx="594.1" cy="236.8"/><circle class="q6" cx="546.1" cy="236.4"/><circle class="q10" cx="536.8" cy="232.6"/><circle class="q10" cx="514.8" cy="266.1"/><circle class="q10" cx="539.2" cy="239.5"/><circle class="q8" cx="513.8" cy="265.9"/><circle class="q14" cx="549.5" cy="238.6"/><circle class="q16" cx="524.2" cy="266.2"/><circle class="q17" cx="592.9" cy="249.7"/><circle class="q21" cx="592.5" cy="245.5"/><circle class="q17" cx="590.9" cy="229.0"/><circle class="q2" cx="588.6" cy="282.8"/><circle class="q8" cx="565.5" cy="311.0"/><circle class="q19" cx="591.4" cy="241.6"/><circle class="q6" cx="555.6" cy="266.8"/><circle class="q5" cx="538.5" cy="238.3"/><circle class="q20" cx="593.6" cy="229.6"/><circle class="q0" cx="591.0" cy="283.9"/><circle class="q21" cx="592.6" cy="237.6"/><circle class="q20" cx="589.8" cy="240.7"/><circle class="q17" cx="562.7" cy="310.8"/><circle class="q9" cx="554.6" cy="270.6"/><circle class="q1" cx="593.8" cy="278.7"/><circle class="q6" cx="537.8" cy="243.4"/><circle class="q13" cx="543.5" cy="235.9"/><circle class="q2" cx="593.9" cy="278.3"/><circle class="q14" cx="563.6" cy="311.0"/><circle class="q20" cx="592.5" cy="240.6"/><circle class="q10" cx="566.4" cy="313.9"/><circle class="q6" cx="512.0" cy="265.2"/><circle class="q2" cx="591.7" cy="279.5"/><circle class="q19" cx="592.9" cy="248.9"/><circle class="q8" cx="537.2" cy="236.8"/><circle class="q23" cx="592.6" cy="246.7"/><circle class="q20" cx="592.2" cy="251.3"/><circle class="q3" cx="518.6" cy="263.3"/><circle class="q12" cx="513.1" cy="263.7"/><circle class="q3" cx="545.9" cy="237.5"/><circle class="q12" cx="512.0" cy="264.8"/><circle class="q3" cx="548.4" cy="237.9"/><circle class="q1" cx="593.7" cy="281.5"/><circle class="q3" cx="549.3" cy="236.8"/><circle class="q9" cx="563.3" cy="313.7"/><circle class="q23" cx="589.9" cy="227.3"/><circle class="q9" cx="543.6" cy="239.8"/><circle class="q5" cx="537.6" cy="242.8"/><circle class="q9" cx="537.3" cy="235.2"/><circle class="q11" cx="564.3" cy="311.5"/><circle class="q2" cx="588.2" cy="282.3"/><circle class="q17" cx="596.9" cy="278.6"/><circle class="q4" cx="541.0" cy="235.4"/><circle class="q10" cx="515.8" cy="264.5"/><circle class="q9" cx="563.7" cy="310.0"/><circle class="q13" cx="598.3" cy="281.8"/><circle class="q15" cx="597.9" cy="274.9"/><circle class="q2" cx="599.2" cy="275.8"/><circle class="q6" cx="537.7" cy="242.3"/><circle class="q14" cx="564.4" cy="311.7"/><circle class="q10" cx="535.7" cy="235.1"/><circle class="q10" cx="558.5" cy="275.7"/><circle class="q21" cx="592.0" cy="247.0"/><circle class="q11" cx="566.0" cy="314.0"/><circle class="q22" cx="592.8" cy="237.2"/><circle class="q18" cx="565.5" cy="313.4"/><circle class="q10" cx="539.0" cy="242.9"/><circle class="q0" cx="597.8" cy="276.6"/><circle class="q5" cx="517.4" cy="263.2"/><circle class="q0" cx="597.4" cy="279.4"/><circle class="q13" cx="513.1" cy="265.8"/><circle class="q18" cx="593.6" cy="238.1"/><circle class="q9" cx="514.5" cy="264.9"/><circle class="q24" cx="589.7" cy="235.6"/><circle class="q6" cx="538.7" cy="239.1"/><circle class="q8" cx="546.0" cy="237.0"/><circle class="q10" cx="511.3" cy="264.9"/><circle class="q3" cx="589.9" cy="283.7"/><circle class="q9" cx="549.9" cy="237.6"/><circle class="q12" cx="541.9" cy="239.4"/><circle class="q17" cx="592.9" cy="245.4"/><circle class="q2" cx="596.0" cy="273.4"/><circle class="q5" cx="554.4" cy="268.2"/><circle class="q20" cx="591.9" cy="248.4"/><circle class="q17" cx="588.8" cy="226.1"/><circle class="q16" cx="511.8" cy="265.6"/><circle class="q14" cx="539.8" cy="239.0"/><circle class="q15" cx="524.7" cy="266.3"/><circle class="q21" cx="592.0" cy="242.1"/><circle class="q19" cx="592.8" cy="248.9"/><circle class="q21" cx="585.9" cy="233.1"/><circle class="q10" cx="554.9" cy="275.5"/><circle class="q3" cx="589.6" cy="278.6"/><circle class="q1" cx="596.5" cy="279.7"/><circle class="q10" cx="546.1" cy="242.9"/><circle class="q11" cx="565.6" cy="313.5"/><circle class="q18" cx="592.9" cy="240.4"/><circle class="q4" cx="597.2" cy="275.4"/><circle class="q1" cx="598.4" cy="280.0"/><circle class="q15" cx="524.2" cy="266.5"/><circle class="q18" cx="586.1" cy="229.4"/><circle class="q5" cx="541.6" cy="235.3"/><circle class="q1" cx="595.0" cy="274.5"/><circle class="q14" cx="515.3" cy="266.4"/><circle class="q7" cx="547.8" cy="237.9"/><circle class="q2" cx="594.4" cy="279.8"/><circle class="q11" cx="566.3" cy="313.6"/><circle class="q10" cx="536.4" cy="235.7"/><circle class="q22" cx="591.4" cy="241.8"/><circle class="q24" cx="591.9" cy="241.5"/><circle class="q20" cx="592.2" cy="228.3"/><circle class="q10" cx="547.9" cy="237.9"/><circle class="q22" cx="592.4" cy="242.9"/><circle class="q20" cx="590.0" cy="240.3"/><circle class="q11" cx="559.3" cy="306.1"/><circle class="q13" cx="540.7" cy="235.8"/><circle class="q10" cx="545.7" cy="242.8"/><circle class="q19" cx="589.0" cy="227.0"/><circle class="q4" cx="541.5" cy="245.1"/><circle class="q1" cx="594.5" cy="279.8"/><circle class="q7" cx="542.5" cy="245.0"/><circle class="q11" cx="518.7" cy="262.8"/><circle class="q8" cx="513.2" cy="265.0"/><circle class="q11" cx="542.1" cy="246.2"/><circle class="q3" cx="546.1" cy="242.7"/><circle class="q9" cx="554.7" cy="275.2"/><circle class="q5" cx="546.8" cy="243.2"/><circle class="q10" cx="546.8" cy="234.9"/><circle class="q2" cx="588.1" cy="280.6"/><circle class="q20" cx="592.7" cy="248.9"/><circle class="q2" cx="515.1" cy="265.4"/><circle class="q1" cx="594.4" cy="279.0"/><circle class="q18" cx="588.0" cy="228.6"/><circle class="q0" cx="608.6" cy="287.5"/><circle class="q2" cx="555.3" cy="274.0"/><circle class="q13" cx="562.2" cy="311.0"/><circle class="q6" cx="548.3" cy="237.0"/><circle class="q9" cx="538.9" cy="239.3"/><circle class="q1" cx="588.3" cy="280.1"/><circle class="q5" cx="540.3" cy="245.1"/><circle class="q18" cx="589.3" cy="230.8"/><circle class="q2" cx="596.4" cy="277.1"/><circle class="q0" cx="594.1" cy="279.2"/><circle class="q9" cx="542.9" cy="245.7"/><circle class="q7" cx="538.4" cy="234.2"/><circle class="q10" cx="559.3" cy="274.4"/><circle class="q20" cx="591.1" cy="227.0"/><circle class="q12" cx="558.1" cy="306.1"/><circle class="q11" cx="537.7" cy="237.1"/><circle class="q11" cx="513.1" cy="263.6"/><circle class="q10" cx="546.3" cy="237.6"/><circle class="q20" cx="593.2" cy="232.2"/><circle class="q7" cx="536.3" cy="242.9"/><circle class="q24" cx="590.8" cy="236.2"/><circle class="q23" cx="590.9" cy="231.1"/><circle class="q2" cx="594.2" cy="281.5"/><circle class="q19" cx="593.4" cy="242.8"/><circle class="q4" cx="594.2" cy="278.6"/><circle class="q2" cx="591.5" cy="279.9"/><circle class="q17" cx="525.6" cy="266.2"/><circle class="q0" cx="586.4" cy="273.0"/><circle class="q8" cx="548.6" cy="235.7"/><circle class="q10" cx="510.8" cy="265.0"/><circle class="q19" cx="589.8" cy="225.6"/><circle class="q19" cx="590.8" cy="230.4"/><circle class="q3" cx="588.5" cy="275.6"/><circle class="q7" cx="533.1" cy="237.7"/><circle class="q9" cx="559.6" cy="305.9"/><circle class="q4" cx="589.5" cy="283.6"/><circle class="q11" cx="518.7" cy="263.6"/><circle class="q2" cx="596.1" cy="283.5"/><circle class="q12" cx="511.6" cy="265.4"/><circle class="q18" cx="593.0" cy="225.9"/><circle class="q17" cx="591.0" cy="234.7"/><circle class="q18" cx="590.4" cy="228.8"/><circle class="q8" cx="556.3" cy="276.6"/><circle class="q3" cx="588.0" cy="279.5"/><circle class="q17" cx="594.2" cy="237.2"/><circle class="q18" cx="590.2" cy="234.3"/><circle class="q10" cx="563.6" cy="309.1"/><circle class="q10" cx="544.5" cy="242.3"/><circle class="q9" cx="542.6" cy="245.7"/><circle class="q20" cx="592.9" cy="234.6"/><circle class="q10" cx="510.7" cy="265.5"/><circle class="q19" cx="592.9" cy="250.3"/><circle class="q18" cx="590.1" cy="237.8"/><circle class="q6" cx="517.5" cy="265.0"/><circle class="q18" cx="565.7" cy="314.2"/><circle class="q19" cx="593.0" cy="245.2"/><circle class="q13" cx="513.8" cy="264.8"/><circle class="q9" cx="537.0" cy="237.1"/><circle class="q10" cx="553.3" cy="275.7"/><circle class="q7" cx="546.4" cy="241.1"/><circle class="q16" cx="565.4" cy="313.1"/><circle class="q8" cx="564.0" cy="310.3"/><circle class="q6" cx="558.5" cy="306.8"/><circle class="q5" cx="554.7" cy="275.9"/><circle class="q1" cx="608.2" cy="287.3"/><circle class="q5" cx="542.0" cy="234.1"/><circle class="q3" cx="597.0" cy="282.1"/><circle class="q9" cx="567.4" cy="314.1"/><circle class="q4" cx="538.2" cy="236.4"/><circle class="q15" cx="538.6" cy="229.3"/><circle class="q19" cx="592.8" cy="238.0"/><circle class="q10" cx="536.7" cy="235.8"/><circle class="q7" cx="511.0" cy="264.6"/><circle class="q20" cx="592.0" cy="245.9"/><circle class="q8" cx="544.3" cy="241.3"/><circle class="q2" cx="601.6" cy="281.2"/><circle class="q13" cx="562.6" cy="307.8"/><circle class="q8" cx="556.3" cy="266.3"/><circle class="q20" cx="592.6" cy="235.4"/><circle class="q18" cx="590.5" cy="240.6"/><circle class="q10" cx="548.8" cy="237.1"/><circle class="q9" cx="535.9" cy="238.5"/><circle class="q2" cx="588.6" cy="278.6"/><circle class="q10" cx="521.3" cy="262.3"/><circle class="q20" cx="591.4" cy="229.2"/><circle class="q18" cx="591.3" cy="240.1"/><circle class="q11" cx="513.3" cy="265.5"/><circle class="q23" cx="587.0" cy="238.4"/><circle class="q12" cx="518.7" cy="262.9"/><circle class="q1" cx="589.1" cy="277.3"/><circle class="q17" cx="591.8" cy="232.1"/><circle class="q9" cx="548.7" cy="237.1"/><circle class="q0" cx="591.2" cy="283.2"/><circle class="q21" cx="588.9" cy="229.0"/><circle class="q2" cx="587.1" cy="272.5"/><circle class="q18" cx="591.9" cy="241.3"/><circle class="q1" cx="599.7" cy="275.6"/><circle class="q18" cx="588.0" cy="231.1"/><circle class="q15" cx="593.0" cy="249.2"/><circle class="q14" cx="563.7" cy="308.8"/><circle class="q10" cx="538.0" cy="235.2"/><circle class="q8" cx="563.1" cy="309.4"/><circle class="q1" cx="591.8" cy="285.2"/><circle class="q9" cx="547.4" cy="238.6"/><circle class="q8" cx="538.6" cy="229.7"/><circle class="q20" cx="592.2" cy="243.7"/><circle class="q15" cx="559.2" cy="308.6"/><circle class="q9" cx="511.6" cy="263.7"/><circle class="q11" cx="566.6" cy="314.3"/><circle class="q19" cx="590.6" cy="234.5"/><circle class="q23" cx="591.9" cy="245.5"/><circle class="q18" cx="592.5" cy="236.9"/><circle class="q15" cx="524.8" cy="267.1"/><circle class="q13" cx="518.4" cy="261.8"/><circle class="q20" cx="591.2" cy="243.4"/><circle class="q13" cx="550.4" cy="236.6"/><circle class="q5" cx="553.1" cy="274.8"/><circle class="q15" cx="565.3" cy="307.9"/><circle class="q13" cx="543.8" cy="245.6"/><circle class="q20" cx="589.3" cy="230.8"/><circle class="q14" cx="536.8" cy="236.4"/><circle class="q16" cx="590.4" cy="284.4"/><circle class="q1" cx="592.3" cy="281.5"/><circle class="q12" cx="513.1" cy="265.8"/><circle class="q4" cx="590.6" cy="280.8"/><circle class="q3" cx="536.9" cy="236.9"/><circle class="q12" cx="548.2" cy="236.0"/><circle class="q15" cx="586.7" cy="281.1"/><circle class="q23" cx="596.7" cy="229.8"/><circle class="q21" cx="592.6" cy="247.9"/><circle class="q19" cx="585.8" cy="230.3"/><circle class="q4" cx="598.4" cy="280.1"/><circle class="q3" cx="512.5" cy="264.0"/><circle class="q17" cx="586.5" cy="276.5"/><circle class="q3" cx="555.7" cy="265.4"/><circle class="q24" cx="592.4" cy="235.8"/><circle class="q15" cx="590.1" cy="241.2"/><circle class="q15" cx="514.4" cy="265.6"/><circle class="q12" cx="539.3" cy="239.6"/><circle class="q3" cx="586.7" cy="277.5"/><circle class="q5" cx="555.6" cy="275.8"/><circle class="q2" cx="593.8" cy="283.9"/><circle class="q14" cx="517.0" cy="263.5"/><circle class="q20" cx="595.7" cy="279.0"/><circle class="q24" cx="590.3" cy="234.2"/><circle class="q12" cx="514.1" cy="265.6"/><circle class="q12" cx="514.2" cy="263.7"/><circle class="q18" cx="512.6" cy="266.3"/><circle class="q7" cx="563.0" cy="310.6"/><circle class="q9" cx="563.4" cy="310.6"/><circle class="q12" cx="515.8" cy="264.3"/><circle class="q1" cx="589.7" cy="279.2"/><circle class="q11" cx="513.8" cy="265.1"/><circle class="q2" cx="601.2" cy="283.9"/><circle class="q9" cx="516.8" cy="263.9"/><circle class="q4" cx="559.7" cy="275.7"/><circle class="q3" cx="592.9" cy="281.3"/><circle class="q13" cx="510.5" cy="265.1"/><circle class="q0" cx="594.7" cy="281.2"/><circle class="q7" cx="544.2" cy="238.7"/><circle class="q2" cx="591.6" cy="282.9"/><circle class="q9" cx="547.8" cy="233.5"/><circle class="q1" cx="586.6" cy="277.5"/><circle class="q9" cx="546.5" cy="235.9"/><circle class="q20" cx="591.5" cy="229.2"/><circle class="q10" cx="546.8" cy="236.5"/><circle class="q9" cx="554.4" cy="274.0"/><circle class="q12" cx="557.0" cy="276.5"/><circle class="q6" cx="567.2" cy="313.0"/><circle class="q20" cx="591.8" cy="246.6"/><circle class="q15" cx="557.8" cy="304.8"/><circle class="q18" cx="589.6" cy="239.1"/><circle class="q9" cx="514.0" cy="264.6"/><circle class="q21" cx="591.6" cy="243.5"/><circle class="q10" cx="562.5" cy="308.8"/><circle class="q16" cx="565.2" cy="313.0"/><circle class="q5" cx="599.0" cy="281.4"/><circle class="q7" cx="558.3" cy="306.4"/><circle class="q18" cx="592.2" cy="228.8"/><circle class="q23" cx="590.4" cy="227.9"/><circle class="q8" cx="548.3" cy="236.4"/><circle class="q24" cx="587.9" cy="233.3"/><circle class="q7" cx="519.0" cy="263.4"/><circle class="q7" cx="562.9" cy="308.0"/><circle class="q6" cx="546.9" cy="235.9"/><circle class="q7" cx="536.2" cy="237.8"/><circle class="q2" cx="589.8" cy="284.4"/><circle class="q2" cx="593.5" cy="280.0"/><circle class="q0" cx="588.8" cy="281.2"/><circle class="q18" cx="593.8" cy="228.0"/><circle class="q21" cx="591.3" cy="248.3"/><circle class="q13" cx="558.7" cy="306.1"/><circle class="q8" cx="537.2" cy="236.2"/><circle class="q1" cx="602.7" cy="284.9"/><circle class="q16" cx="563.2" cy="310.2"/><circle class="q0" cx="539.0" cy="230.0"/><circle class="q3" cx="587.8" cy="280.3"/><circle class="q17" cx="595.0" cy="280.7"/><circle class="q12" cx="516.5" cy="263.5"/><circle class="q1" cx="591.1" cy="282.7"/><circle class="q13" cx="523.6" cy="265.9"/><circle class="q14" cx="566.7" cy="313.5"/><circle class="q19" cx="592.6" cy="248.0"/><circle class="q0" cx="598.0" cy="283.2"/><circle class="q7" cx="557.4" cy="275.7"/><circle class="q14" cx="547.4" cy="236.8"/><circle class="q7" cx="537.0" cy="239.2"/><circle class="q8" cx="566.4" cy="314.0"/><circle class="q8" cx="566.2" cy="313.7"/><circle class="q7" cx="541.5" cy="245.0"/><circle class="q11" cx="511.8" cy="265.3"/><circle class="q20" cx="591.6" cy="231.8"/><circle class="q3" cx="597.3" cy="281.5"/><circle class="q6" cx="534.9" cy="237.5"/><circle class="q11" cx="547.3" cy="238.9"/><circle class="q1" cx="586.4" cy="281.1"/><circle class="q1" cx="595.5" cy="273.7"/><circle class="q14" cx="541.8" cy="238.9"/><circle class="q6" cx="543.4" cy="244.9"/><circle class="q5" cx="549.0" cy="239.0"/><circle class="q17" cx="591.8" cy="247.2"/><circle class="q18" cx="591.7" cy="249.9"/><circle class="q19" cx="592.7" cy="247.5"/><circle class="q15" cx="525.8" cy="266.1"/><circle class="q4" cx="538.1" cy="242.9"/><circle class="q6" cx="513.5" cy="264.8"/></g>
<rect x="278.3" y="325.0" width="107.2" height="30.2" fill="#d9d9d9" stroke="#555" stroke-width="0.8"/>
<rect x="278.3" y="355.2" width="107.2" height="96.1" fill="#fff" stroke="#666" stroke-width="0.8"/>
<text x="329.9" y="337.9" font-size="10.3" fill="#111" text-anchor="middle" font-weight="bold" font-style="italic" textLength="25.35" lengthAdjust="spacingAndGlyphs">Pcmt1</text>
<text x="331.9" y="349.5" font-size="10.3" fill="#111" text-anchor="middle">chr10:7637733:−</text>
<g class="d"><circle class="q2" cx="313.9" cy="378.0"/><circle class="q10" cx="289.8" cy="396.1"/><circle class="q3" cx="318.3" cy="370.4"/><circle class="q2" cx="364.2" cy="418.1"/><circle class="q13" cx="375.8" cy="418.2"/><circle class="q0" cx="313.1" cy="368.7"/><circle class="q3" cx="363.7" cy="376.7"/><circle class="q2" cx="363.8" cy="374.7"/><circle class="q9" cx="310.0" cy="375.7"/><circle class="q3" cx="366.0" cy="380.8"/><circle class="q12" cx="359.4" cy="371.3"/><circle class="q11" cx="366.0" cy="362.5"/><circle class="q12" cx="362.0" cy="372.0"/><circle class="q20" cx="329.3" cy="399.4"/><circle class="q14" cx="290.3" cy="395.9"/><circle class="q2" cx="368.9" cy="412.6"/><circle class="q13" cx="338.4" cy="446.9"/><circle class="q3" cx="365.6" cy="365.1"/><circle class="q3" cx="364.2" cy="379.5"/><circle class="q20" cx="296.0" cy="398.8"/><circle class="q3" cx="319.2" cy="367.8"/><circle class="q10" cx="285.4" cy="398.9"/><circle class="q1" cx="366.5" cy="413.7"/><circle class="q5" cx="365.0" cy="380.8"/><circle class="q21" cx="328.7" cy="399.2"/><circle class="q1" cx="367.0" cy="415.5"/><circle class="q8" cx="338.8" cy="446.8"/><circle class="q10" cx="336.7" cy="444.4"/><circle class="q9" cx="335.8" cy="442.3"/><circle class="q12" cx="286.5" cy="398.5"/><circle class="q5" cx="362.6" cy="413.8"/><circle class="q1" cx="365.0" cy="380.9"/><circle class="q3" cx="369.4" cy="415.0"/><circle class="q12" cx="287.7" cy="399.3"/><circle class="q18" cx="328.0" cy="399.7"/><circle class="q6" cx="369.0" cy="410.0"/><circle class="q7" cx="331.1" cy="439.0"/><circle class="q5" cx="363.7" cy="381.2"/><circle class="q3" cx="364.3" cy="374.4"/><circle class="q21" cx="297.5" cy="398.8"/><circle class="q5" cx="364.8" cy="375.8"/><circle class="q5" cx="363.3" cy="374.6"/><circle class="q0" cx="305.5" cy="370.6"/><circle class="q12" cx="285.5" cy="396.5"/><circle class="q2" cx="309.4" cy="368.3"/><circle class="q7" cx="336.5" cy="442.9"/><circle class="q4" cx="309.4" cy="372.1"/><circle class="q22" cx="326.7" cy="405.5"/><circle class="q11" cx="285.9" cy="397.7"/><circle class="q11" cx="359.6" cy="411.3"/><circle class="q3" cx="366.9" cy="412.7"/><circle class="q2" cx="313.9" cy="377.9"/><circle class="q18" cx="283.1" cy="398.4"/><circle class="q13" cx="290.8" cy="394.7"/><circle class="q2" cx="311.4" cy="362.9"/><circle class="q2" cx="362.3" cy="416.6"/><circle class="q3" cx="363.9" cy="362.1"/><circle class="q10" cx="364.1" cy="382.8"/><circle class="q3" cx="362.5" cy="364.9"/><circle class="q1" cx="357.4" cy="409.0"/><circle class="q13" cx="362.8" cy="417.3"/><circle class="q3" cx="365.3" cy="414.2"/><circle class="q13" cx="285.5" cy="398.7"/><circle class="q9" cx="332.0" cy="438.8"/><circle class="q0" cx="313.6" cy="377.9"/><circle class="q23" cx="329.7" cy="407.8"/><circle class="q11" cx="365.3" cy="382.6"/><circle class="q6" cx="365.8" cy="375.7"/><circle class="q12" cx="315.0" cy="378.6"/><circle class="q23" cx="328.2" cy="407.4"/><circle class="q19" cx="329.2" cy="408.0"/><circle class="q3" cx="365.4" cy="358.8"/><circle class="q2" cx="309.9" cy="367.5"/><circle class="q11" cx="307.3" cy="370.4"/><circle class="q13" cx="284.4" cy="397.7"/><circle class="q3" cx="362.5" cy="374.1"/><circle class="q9" cx="309.2" cy="369.3"/><circle class="q10" cx="283.4" cy="397.5"/><circle class="q22" cx="326.8" cy="401.1"/><circle class="q12" cx="285.0" cy="399.2"/><circle class="q4" cx="320.2" cy="370.8"/><circle class="q10" cx="291.0" cy="396.2"/><circle class="q1" cx="318.8" cy="374.0"/><circle class="q8" cx="338.7" cy="446.5"/><circle class="q4" cx="362.4" cy="373.2"/><circle class="q5" cx="362.4" cy="363.8"/><circle class="q1" cx="337.7" cy="440.8"/><circle class="q13" cx="368.7" cy="408.2"/><circle class="q10" cx="365.1" cy="381.8"/><circle class="q20" cx="326.8" cy="406.9"/><circle class="q3" cx="315.5" cy="368.0"/><circle class="q13" cx="316.9" cy="375.2"/><circle class="q3" cx="370.2" cy="412.5"/><circle class="q2" cx="375.1" cy="417.8"/><circle class="q22" cx="297.2" cy="400.0"/><circle class="q2" cx="358.8" cy="414.0"/><circle class="q3" cx="318.7" cy="370.5"/><circle class="q3" cx="359.0" cy="410.4"/><circle class="q4" cx="358.2" cy="363.2"/><circle class="q16" cx="309.6" cy="369.7"/><circle class="q1" cx="359.1" cy="414.0"/><circle class="q3" cx="322.8" cy="369.5"/><circle class="q6" cx="311.1" cy="362.6"/><circle class="q3" cx="373.6" cy="416.8"/><circle class="q3" cx="363.9" cy="412.8"/><circle class="q1" cx="365.3" cy="367.5"/><circle class="q11" cx="288.2" cy="397.4"/><circle class="q2" cx="366.8" cy="411.9"/><circle class="q2" cx="310.9" cy="369.9"/><circle class="q2" cx="368.5" cy="416.4"/><circle class="q3" cx="310.2" cy="369.1"/><circle class="q12" cx="359.1" cy="410.4"/><circle class="q23" cx="328.0" cy="408.7"/><circle class="q6" cx="367.4" cy="407.4"/><circle class="q4" cx="316.2" cy="378.5"/><circle class="q22" cx="327.6" cy="404.4"/><circle class="q6" cx="335.8" cy="443.5"/><circle class="q2" cx="370.8" cy="412.9"/><circle class="q10" cx="336.0" cy="443.9"/><circle class="q2" cx="362.2" cy="417.3"/><circle class="q17" cx="368.1" cy="411.9"/><circle class="q2" cx="364.1" cy="373.8"/><circle class="q2" cx="360.3" cy="366.2"/><circle class="q5" cx="368.4" cy="406.3"/><circle class="q1" cx="318.4" cy="369.9"/><circle class="q16" cx="286.2" cy="398.8"/><circle class="q0" cx="310.4" cy="368.1"/><circle class="q6" cx="364.2" cy="365.0"/><circle class="q21" cx="330.3" cy="408.9"/><circle class="q1" cx="309.6" cy="369.1"/><circle class="q19" cx="326.9" cy="406.3"/><circle class="q3" cx="371.4" cy="414.3"/><circle class="q9" cx="321.2" cy="370.0"/><circle class="q6" cx="366.6" cy="411.5"/><circle class="q3" cx="311.5" cy="376.2"/><circle class="q3" cx="366.2" cy="411.6"/><circle class="q4" cx="321.0" cy="368.6"/><circle class="q4" cx="361.7" cy="363.7"/><circle class="q4" cx="310.5" cy="375.8"/><circle class="q1" cx="359.5" cy="405.4"/><circle class="q21" cx="296.8" cy="399.2"/><circle class="q8" cx="366.3" cy="411.2"/><circle class="q5" cx="366.5" cy="412.1"/><circle class="q14" cx="310.2" cy="376.3"/><circle class="q4" cx="362.8" cy="360.8"/><circle class="q13" cx="291.4" cy="396.3"/><circle class="q1" cx="320.2" cy="366.4"/><circle class="q2" cx="310.8" cy="367.1"/><circle class="q20" cx="325.2" cy="409.0"/><circle class="q13" cx="289.9" cy="397.9"/><circle class="q7" cx="365.4" cy="382.1"/><circle class="q1" cx="362.3" cy="360.2"/><circle class="q2" cx="314.5" cy="379.1"/><circle class="q22" cx="297.5" cy="398.9"/><circle class="q14" cx="283.1" cy="398.0"/><circle class="q1" cx="371.6" cy="408.7"/><circle class="q11" cx="363.6" cy="376.3"/><circle class="q21" cx="327.0" cy="403.5"/><circle class="q0" cx="320.3" cy="370.8"/><circle class="q9" cx="364.6" cy="384.2"/><circle class="q10" cx="338.8" cy="446.9"/><circle class="q10" cx="335.6" cy="443.1"/><circle class="q2" cx="319.2" cy="376.1"/><circle class="q11" cx="285.5" cy="396.6"/><circle class="q12" cx="364.9" cy="378.4"/><circle class="q6" cx="364.3" cy="378.4"/><circle class="q3" cx="364.1" cy="375.9"/><circle class="q14" cx="284.0" cy="398.3"/><circle class="q1" cx="370.4" cy="416.1"/><circle class="q0" cx="315.9" cy="368.8"/><circle class="q16" cx="284.9" cy="396.9"/><circle class="q14" cx="291.1" cy="395.8"/><circle class="q5" cx="365.7" cy="375.9"/><circle class="q3" cx="331.6" cy="440.9"/><circle class="q5" cx="362.8" cy="416.3"/><circle class="q10" cx="291.1" cy="395.7"/><circle class="q18" cx="289.4" cy="396.4"/><circle class="q9" cx="338.1" cy="447.1"/><circle class="q3" cx="370.2" cy="409.5"/><circle class="q3" cx="369.9" cy="409.0"/><circle class="q4" cx="364.8" cy="368.7"/><circle class="q13" cx="360.6" cy="415.2"/><circle class="q2" cx="309.2" cy="365.5"/><circle class="q7" cx="364.0" cy="376.4"/><circle class="q6" cx="366.3" cy="417.5"/><circle class="q2" cx="316.2" cy="369.6"/><circle class="q4" cx="365.3" cy="378.3"/><circle class="q1" cx="363.4" cy="416.8"/><circle class="q7" cx="367.4" cy="413.6"/><circle class="q1" cx="320.7" cy="369.9"/><circle class="q3" cx="364.0" cy="418.8"/><circle class="q15" cx="284.0" cy="396.6"/><circle class="q3" cx="361.4" cy="359.9"/><circle class="q13" cx="363.4" cy="367.6"/><circle class="q2" cx="319.8" cy="369.7"/><circle class="q16" cx="365.0" cy="370.5"/><circle class="q3" cx="362.5" cy="370.7"/><circle class="q10" cx="337.9" cy="446.3"/><circle class="q5" cx="363.8" cy="362.1"/><circle class="q2" cx="358.5" cy="362.3"/><circle class="q3" cx="364.9" cy="369.6"/><circle class="q4" cx="365.1" cy="380.4"/><circle class="q11" cx="284.2" cy="398.5"/><circle class="q22" cx="329.4" cy="409.4"/><circle class="q21" cx="325.7" cy="408.6"/><circle class="q5" cx="366.2" cy="416.8"/><circle class="q11" cx="288.2" cy="397.2"/><circle class="q3" cx="360.2" cy="413.2"/><circle class="q3" cx="362.5" cy="362.8"/><circle class="q20" cx="326.4" cy="408.2"/><circle class="q9" cx="319.3" cy="368.8"/><circle class="q1" cx="311.3" cy="372.2"/><circle class="q1" cx="312.2" cy="371.9"/><circle class="q0" cx="366.6" cy="414.4"/><circle class="q4" cx="310.8" cy="371.4"/><circle class="q23" cx="330.9" cy="408.6"/><circle class="q14" cx="287.9" cy="398.2"/><circle class="q1" cx="311.6" cy="372.4"/><circle class="q10" cx="360.9" cy="408.5"/><circle class="q2" cx="321.1" cy="370.0"/><circle class="q2" cx="381.0" cy="420.4"/><circle class="q3" cx="369.3" cy="411.5"/><circle class="q14" cx="363.5" cy="415.6"/><circle class="q6" cx="363.2" cy="369.1"/><circle class="q1" cx="369.8" cy="412.3"/><circle class="q2" cx="358.3" cy="366.0"/><circle class="q5" cx="365.8" cy="412.7"/><circle class="q14" cx="366.2" cy="368.5"/><circle class="q2" cx="310.7" cy="362.3"/><circle class="q15" cx="283.7" cy="397.8"/><circle class="q4" cx="315.3" cy="378.6"/><circle class="q3" cx="362.7" cy="367.1"/><circle class="q1" cx="335.2" cy="444.8"/><circle class="q1" cx="321.9" cy="371.5"/><circle class="q10" cx="283.8" cy="399.2"/><circle class="q2" cx="363.5" cy="372.9"/><circle class="q5" cx="358.1" cy="410.8"/><circle class="q15" cx="286.8" cy="398.5"/><circle class="q21" cx="297.1" cy="399.2"/><circle class="q4" cx="360.3" cy="364.1"/><circle class="q7" cx="316.0" cy="372.7"/><circle class="q23" cx="327.1" cy="408.8"/><circle class="q3" cx="311.7" cy="372.5"/><circle class="q12" cx="288.9" cy="396.4"/><circle class="q3" cx="364.9" cy="373.5"/><circle class="q4" cx="368.0" cy="411.2"/><circle class="q13" cx="282.9" cy="398.0"/><circle class="q4" cx="366.8" cy="412.7"/><circle class="q3" cx="321.4" cy="371.9"/><circle class="q4" cx="371.0" cy="412.6"/><circle class="q8" cx="363.9" cy="373.9"/><circle class="q0" cx="358.9" cy="409.4"/><circle class="q2" cx="364.4" cy="378.8"/><circle class="q2" cx="361.5" cy="410.2"/><circle class="q22" cx="330.9" cy="409.5"/><circle class="q5" cx="309.1" cy="368.7"/><circle class="q3" cx="364.9" cy="369.8"/><circle class="q10" cx="286.2" cy="398.4"/><circle class="q3" cx="316.7" cy="374.2"/><circle class="q1" cx="362.8" cy="371.4"/><circle class="q2" cx="368.8" cy="410.0"/><circle class="q3" cx="310.4" cy="372.0"/><circle class="q3" cx="362.2" cy="358.5"/><circle class="q5" cx="339.6" cy="445.9"/><circle class="q3" cx="320.7" cy="369.3"/><circle class="q2" cx="360.7" cy="413.0"/><circle class="q13" cx="364.0" cy="415.8"/><circle class="q3" cx="314.0" cy="368.2"/><circle class="q17" cx="284.2" cy="398.2"/><circle class="q3" cx="361.0" cy="415.7"/><circle class="q1" cx="314.2" cy="371.8"/><circle class="q8" cx="330.2" cy="437.7"/><circle class="q5" cx="336.0" cy="442.0"/><circle class="q5" cx="314.3" cy="372.3"/><circle class="q3" cx="318.5" cy="375.8"/><circle class="q6" cx="335.6" cy="441.2"/><circle class="q9" cx="290.5" cy="395.9"/><circle class="q3" cx="362.6" cy="367.2"/><circle class="q4" cx="365.3" cy="381.8"/><circle class="q2" cx="315.8" cy="377.8"/><circle class="q2" cx="364.0" cy="418.3"/><circle class="q2" cx="366.2" cy="360.9"/><circle class="q1" cx="363.6" cy="417.8"/><circle class="q2" cx="365.4" cy="378.1"/><circle class="q12" cx="287.5" cy="398.3"/><circle class="q9" cx="335.8" cy="442.0"/><circle class="q10" cx="310.6" cy="369.3"/><circle class="q8" cx="285.7" cy="398.4"/><circle class="q0" cx="313.4" cy="368.3"/><circle class="q4" cx="372.0" cy="408.9"/><circle class="q5" cx="369.1" cy="362.7"/><circle class="q3" cx="363.7" cy="373.0"/><circle class="q1" cx="361.0" cy="411.5"/><circle class="q4" cx="364.7" cy="377.2"/><circle class="q8" cx="363.3" cy="361.9"/><circle class="q3" cx="364.7" cy="414.4"/><circle class="q5" cx="360.4" cy="361.5"/><circle class="q19" cx="285.9" cy="398.8"/><circle class="q5" cx="365.3" cy="383.2"/><circle class="q21" cx="329.5" cy="409.3"/><circle class="q13" cx="364.0" cy="364.7"/><circle class="q10" cx="289.0" cy="396.4"/><circle class="q1" cx="367.4" cy="410.3"/><circle class="q3" cx="319.7" cy="371.8"/><circle class="q1" cx="308.1" cy="368.0"/><circle class="q5" cx="371.6" cy="416.2"/><circle class="q0" cx="320.8" cy="370.8"/><circle class="q4" cx="366.3" cy="384.9"/><circle class="q2" cx="368.0" cy="411.4"/><circle class="q1" cx="363.0" cy="413.7"/><circle class="q21" cx="327.3" cy="408.4"/><circle class="q22" cx="328.7" cy="409.0"/><circle class="q4" cx="366.1" cy="380.4"/><circle class="q12" cx="362.0" cy="411.5"/><circle class="q2" cx="311.1" cy="372.0"/><circle class="q0" cx="361.2" cy="414.1"/><circle class="q6" cx="361.7" cy="363.7"/><circle class="q2" cx="318.5" cy="369.3"/><circle class="q5" cx="335.7" cy="446.6"/><circle class="q10" cx="359.2" cy="407.4"/><circle class="q7" cx="364.6" cy="361.7"/><circle class="q10" cx="287.2" cy="399.0"/><circle class="q0" cx="311.8" cy="369.7"/><circle class="q21" cx="332.1" cy="408.6"/><circle class="q6" cx="316.6" cy="371.6"/><circle class="q22" cx="298.2" cy="399.0"/><circle class="q9" cx="362.9" cy="373.5"/><circle class="q1" cx="320.8" cy="375.7"/><circle class="q2" cx="318.7" cy="374.4"/><circle class="q3" cx="360.4" cy="412.4"/><circle class="q4" cx="366.5" cy="369.7"/><circle class="q1" cx="319.8" cy="371.5"/><circle class="q2" cx="369.7" cy="414.4"/><circle class="q1" cx="365.2" cy="370.1"/><circle class="q4" cx="314.4" cy="367.0"/><circle class="q9" cx="330.9" cy="439.7"/><circle class="q13" cx="289.2" cy="396.8"/><circle class="q12" cx="285.4" cy="398.7"/><circle class="q1" cx="370.8" cy="413.0"/><circle class="q2" cx="372.1" cy="408.5"/><circle class="q4" cx="310.6" cy="368.9"/><circle class="q15" cx="365.2" cy="370.9"/><circle class="q15" cx="364.4" cy="379.9"/><circle class="q3" cx="364.4" cy="375.0"/><circle class="q6" cx="363.9" cy="372.6"/><circle class="q4" cx="312.7" cy="378.0"/><circle class="q4" cx="365.0" cy="368.3"/><circle class="q4" cx="370.3" cy="407.8"/><circle class="q3" cx="318.9" cy="368.8"/><circle class="q2" cx="364.3" cy="381.3"/><circle class="q3" cx="320.6" cy="368.9"/><circle class="q4" cx="369.3" cy="413.2"/><circle class="q18" cx="327.1" cy="409.8"/><circle class="q1" cx="363.6" cy="416.1"/><circle class="q4" cx="366.6" cy="370.1"/><circle class="q3" cx="309.2" cy="375.4"/><circle class="q6" cx="334.9" cy="441.7"/><circle class="q7" cx="286.4" cy="397.5"/><circle class="q9" cx="335.3" cy="440.9"/><circle class="q4" cx="364.3" cy="374.2"/><circle class="q3" cx="369.6" cy="408.3"/><circle class="q1" cx="370.7" cy="414.7"/><circle class="q1" cx="365.1" cy="381.2"/><circle class="q12" cx="286.9" cy="397.8"/><circle class="q0" cx="364.6" cy="361.2"/><circle class="q15" cx="364.1" cy="412.4"/><circle class="q2" cx="310.3" cy="374.8"/><circle class="q3" cx="358.8" cy="405.9"/><circle class="q1" cx="380.6" cy="420.2"/><circle class="q5" cx="313.5" cy="371.7"/><circle class="q5" cx="310.6" cy="368.7"/><circle class="q14" cx="362.1" cy="368.5"/><circle class="q17" cx="358.9" cy="413.3"/><circle class="q4" cx="371.5" cy="414.8"/><circle class="q12" cx="335.5" cy="442.3"/><circle class="q3" cx="366.0" cy="371.0"/><circle class="q1" cx="369.0" cy="409.5"/><circle class="q2" cx="315.3" cy="378.2"/><circle class="q3" cx="364.2" cy="380.1"/><circle class="q5" cx="366.0" cy="379.0"/><circle class="q2" cx="322.3" cy="370.5"/><circle class="q6" cx="310.9" cy="371.2"/><circle class="q5" cx="365.0" cy="379.6"/><circle class="q3" cx="361.2" cy="359.0"/><circle class="q8" cx="360.4" cy="364.0"/><circle class="q3" cx="362.8" cy="361.7"/><circle class="q1" cx="310.2" cy="375.6"/><circle class="q22" cx="298.0" cy="399.1"/></g>
<line x1="275.5" y1="367.3" x2="278.3" y2="367.3" stroke="#333" stroke-width="0.8"/>
<text x="273.7" y="370.8" font-size="10" fill="#222" text-anchor="end">20</text>
<line x1="275.5" y1="394.9" x2="278.3" y2="394.9" stroke="#333" stroke-width="0.8"/>
<text x="273.7" y="398.4" font-size="10" fill="#222" text-anchor="end">0</text>
<line x1="275.5" y1="422.5" x2="278.3" y2="422.5" stroke="#333" stroke-width="0.8"/>
<text x="273.7" y="426" font-size="10" fill="#222" text-anchor="end">−20</text>
<line x1="275.5" y1="450.1" x2="278.3" y2="450.1" stroke="#333" stroke-width="0.8"/>
<text x="273.7" y="453.6" font-size="10" fill="#222" text-anchor="end">−40</text>
<line x1="283.3" y1="451.3" x2="283.3" y2="454.1" stroke="#333" stroke-width="0.8"/>
<text x="283.3" y="464.4" font-size="10" fill="#222" text-anchor="middle">−30</text>
<line x1="301.8" y1="451.3" x2="301.8" y2="454.1" stroke="#333" stroke-width="0.8"/>
<text x="301.8" y="464.4" font-size="10" fill="#222" text-anchor="middle">−20</text>
<line x1="320.3" y1="451.3" x2="320.3" y2="454.1" stroke="#333" stroke-width="0.8"/>
<text x="320.3" y="464.4" font-size="10" fill="#222" text-anchor="middle">−10</text>
<line x1="338.8" y1="451.3" x2="338.8" y2="454.1" stroke="#333" stroke-width="0.8"/>
<text x="338.8" y="464.4" font-size="10" fill="#222" text-anchor="middle">0</text>
<line x1="357.3" y1="451.3" x2="357.3" y2="454.1" stroke="#333" stroke-width="0.8"/>
<text x="357.3" y="464.4" font-size="10" fill="#222" text-anchor="middle">10</text>
<line x1="375.8" y1="451.3" x2="375.8" y2="454.1" stroke="#333" stroke-width="0.8"/>
<text x="375.8" y="464.4" font-size="10" fill="#222" text-anchor="middle">20</text>
<rect x="392.2" y="325.0" width="107.2" height="30.2" fill="#d9d9d9" stroke="#555" stroke-width="0.8"/>
<rect x="392.2" y="355.2" width="107.2" height="96.1" fill="#fff" stroke="#666" stroke-width="0.8"/>
<text x="443.8" y="337.9" font-size="10.3" fill="#111" text-anchor="middle" font-weight="bold" font-style="italic" textLength="30.52" lengthAdjust="spacingAndGlyphs">Ube2d3</text>
<text x="445.8" y="349.5" font-size="10.3" fill="#111" text-anchor="middle">chr3:135468198:+</text>
<g class="d"><circle class="q14" cx="429.9" cy="372.7"/><circle class="q11" cx="449.2" cy="440.9"/><circle class="q13" cx="423.0" cy="368.7"/><circle class="q8" cx="423.3" cy="372.1"/><circle class="q12" cx="398.3" cy="398.1"/><circle class="q10" cx="432.6" cy="374.4"/><circle class="q6" cx="399.6" cy="398.4"/><circle class="q14" cx="432.4" cy="375.6"/><circle class="q17" cx="483.0" cy="362.7"/><circle class="q12" cx="479.9" cy="379.0"/><circle class="q16" cx="479.2" cy="373.3"/><circle class="q11" cx="424.4" cy="372.1"/><circle class="q14" cx="476.1" cy="358.5"/><circle class="q16" cx="434.1" cy="370.8"/><circle class="q9" cx="433.1" cy="369.4"/><circle class="q11" cx="474.2" cy="366.2"/><circle class="q22" cx="479.2" cy="414.2"/><circle class="q10" cx="424.5" cy="371.6"/><circle class="q22" cx="480.4" cy="413.7"/><circle class="q11" cx="397.9" cy="396.6"/><circle class="q16" cx="434.7" cy="375.7"/><circle class="q12" cx="426.6" cy="378.0"/><circle class="q12" cx="478.6" cy="377.2"/><circle class="q6" cx="422.5" cy="370.7"/><circle class="q13" cx="478.5" cy="361.2"/><circle class="q13" cx="424.9" cy="362.6"/><circle class="q13" cx="424.5" cy="368.9"/><circle class="q9" cx="449.6" cy="446.6"/><circle class="q14" cx="400.7" cy="398.5"/><circle class="q10" cx="435.6" cy="369.7"/><circle class="q20" cx="479.7" cy="412.7"/><circle class="q19" cx="478.3" cy="378.8"/><circle class="q14" cx="472.4" cy="362.3"/><circle class="q22" cx="487.9" cy="414.1"/><circle class="q9" cx="424.9" cy="362.2"/><circle class="q7" cx="411.4" cy="398.8"/><circle class="q12" cx="478.9" cy="368.3"/><circle class="q6" cx="449.7" cy="443.5"/><circle class="q24" cx="476.9" cy="413.7"/><circle class="q9" cx="398.9" cy="399.2"/><circle class="q7" cx="442.6" cy="401.6"/><circle class="q1" cx="442.1" cy="407.3"/><circle class="q20" cx="472.8" cy="409.4"/><circle class="q22" cx="480.1" cy="416.8"/><circle class="q11" cx="423.1" cy="365.5"/><circle class="q23" cx="478.1" cy="418.1"/><circle class="q20" cx="474.1" cy="413.2"/><circle class="q11" cx="479.9" cy="362.5"/><circle class="q22" cx="483.3" cy="415.0"/><circle class="q21" cx="484.7" cy="413.0"/><circle class="q11" cx="474.3" cy="361.5"/><circle class="q14" cx="476.5" cy="367.2"/><circle class="q17" cx="476.0" cy="368.5"/><circle class="q13" cx="432.4" cy="369.3"/><circle class="q17" cx="479.2" cy="381.8"/><circle class="q16" cx="479.7" cy="375.7"/><circle class="q9" cx="473.3" cy="371.3"/><circle class="q11" cx="425.7" cy="369.7"/><circle class="q18" cx="484.1" cy="409.5"/><circle class="q14" cx="433.7" cy="369.7"/><circle class="q20" cx="475.8" cy="416.5"/><circle class="q10" cx="426.1" cy="371.9"/><circle class="q9" cx="445.6" cy="439.0"/><circle class="q11" cx="432.3" cy="369.9"/><circle class="q19" cx="480.1" cy="411.6"/><circle class="q13" cx="429.9" cy="367.9"/><circle class="q23" cx="483.2" cy="411.5"/><circle class="q21" cx="477.4" cy="415.6"/><circle class="q24" cx="472.8" cy="413.3"/><circle class="q12" cx="425.3" cy="362.9"/><circle class="q18" cx="480.7" cy="412.7"/><circle class="q13" cx="480.0" cy="378.8"/><circle class="q17" cx="432.0" cy="375.7"/><circle class="q12" cx="411.4" cy="398.9"/><circle class="q10" cx="435.3" cy="371.9"/><circle class="q10" cx="476.7" cy="360.8"/><circle class="q12" cx="400.4" cy="398.5"/><circle class="q21" cx="474.8" cy="408.5"/><circle class="q15" cx="475.8" cy="361.8"/><circle class="q22" cx="475.4" cy="410.2"/><circle class="q11" cx="476.3" cy="363.8"/><circle class="q9" cx="441.6" cy="406.9"/><circle class="q20" cx="482.6" cy="408.2"/><circle class="q11" cx="429.7" cy="377.8"/><circle class="q16" cx="479.6" cy="375.9"/><circle class="q8" cx="440.7" cy="401.1"/><circle class="q22" cx="472.9" cy="410.4"/><circle class="q9" cx="427.8" cy="377.9"/><circle class="q11" cx="411.0" cy="399.2"/><circle class="q24" cx="481.3" cy="407.4"/><circle class="q18" cx="402.9" cy="396.4"/><circle class="q12" cx="423.6" cy="368.1"/><circle class="q23" cx="485.5" cy="416.2"/><circle class="q11" cx="401.8" cy="398.2"/><circle class="q10" cx="428.9" cy="378.6"/><circle class="q8" cx="423.5" cy="369.7"/><circle class="q11" cx="476.9" cy="367.4"/><circle class="q13" cx="450.1" cy="445.7"/><circle class="q8" cx="422.7" cy="368.6"/><circle class="q14" cx="476.7" cy="371.4"/><circle class="q15" cx="424.6" cy="362.3"/><circle class="q12" cx="477.2" cy="364.0"/><circle class="q10" cx="397.1" cy="397.9"/><circle class="q13" cx="435.8" cy="371.5"/><circle class="q15" cx="403.3" cy="396.4"/><circle class="q10" cx="479.9" cy="380.8"/><circle class="q12" cx="480.5" cy="370.1"/><circle class="q14" cx="435.0" cy="370.0"/><circle class="q14" cx="478.0" cy="382.8"/><circle class="q8" cx="475.3" cy="359.9"/><circle class="q20" cx="480.5" cy="411.5"/><circle class="q7" cx="443.6" cy="407.8"/><circle class="q12" cx="434.6" cy="369.9"/><circle class="q9" cx="425.2" cy="372.2"/><circle class="q11" cx="477.4" cy="372.9"/><circle class="q20" cx="481.9" cy="411.4"/><circle class="q21" cx="480.9" cy="415.5"/><circle class="q11" cx="428.2" cy="372.3"/><circle class="q14" cx="479.1" cy="370.1"/><circle class="q8" cx="445.5" cy="441.5"/><circle class="q15" cx="476.4" cy="370.7"/><circle class="q23" cx="471.3" cy="409.0"/><circle class="q22" cx="481.9" cy="411.2"/><circle class="q22" cx="480.2" cy="411.2"/><circle class="q9" cx="444.2" cy="408.9"/><circle class="q15" cx="476.1" cy="373.6"/><circle class="q16" cx="478.0" cy="373.8"/><circle class="q11" cx="432.4" cy="371.2"/><circle class="q7" cx="441.2" cy="408.4"/><circle class="q8" cx="446.3" cy="438.6"/><circle class="q23" cx="474.6" cy="413.0"/><circle class="q14" cx="434.2" cy="370.8"/><circle class="q13" cx="434.6" cy="369.3"/><circle class="q24" cx="480.4" cy="412.1"/><circle class="q13" cx="405.3" cy="396.3"/><circle class="q15" cx="476.8" cy="373.5"/><circle class="q16" cx="424.7" cy="371.4"/><circle class="q12" cx="398.3" cy="397.7"/><circle class="q21" cx="473.1" cy="407.4"/><circle class="q10" cx="429.4" cy="368.0"/><circle class="q13" cx="477.6" cy="376.7"/><circle class="q10" cx="423.9" cy="367.2"/><circle class="q16" cx="474.2" cy="364.1"/><circle class="q14" cx="425.0" cy="372.0"/><circle class="q20" cx="476.0" cy="412.1"/><circle class="q15" cx="477.7" cy="374.5"/><circle class="q10" cx="424.0" cy="375.2"/><circle class="q7" cx="452.0" cy="447.1"/><circle class="q13" cx="430.8" cy="375.2"/><circle class="q24" cx="477.5" cy="416.1"/><circle class="q6" cx="443.3" cy="409.4"/><circle class="q20" cx="476.2" cy="360.2"/><circle class="q6" cx="403.8" cy="397.9"/><circle class="q12" cx="475.6" cy="363.7"/><circle class="q15" cx="476.3" cy="373.2"/><circle class="q8" cx="425.3" cy="375.8"/><circle class="q22" cx="470.4" cy="408.8"/><circle class="q10" cx="449.7" cy="442.3"/><circle class="q11" cx="428.8" cy="377.9"/><circle class="q15" cx="422.3" cy="371.3"/><circle class="q22" cx="481.3" cy="413.6"/><circle class="q13" cx="432.4" cy="375.8"/><circle class="q12" cx="478.2" cy="374.2"/><circle class="q10" cx="450.0" cy="441.7"/><circle class="q11" cx="478.2" cy="374.4"/><circle class="q9" cx="449.5" cy="441.2"/><circle class="q19" cx="476.5" cy="413.8"/><circle class="q7" cx="476.4" cy="364.9"/><circle class="q8" cx="442.1" cy="409.4"/><circle class="q17" cx="480.7" cy="411.9"/><circle class="q10" cx="441.6" cy="408.9"/><circle class="q12" cx="421.2" cy="370.4"/><circle class="q8" cx="440.3" cy="408.2"/><circle class="q17" cx="478.1" cy="380.1"/><circle class="q7" cx="451.8" cy="446.3"/><circle class="q17" cx="399.8" cy="398.8"/><circle class="q9" cx="478.8" cy="369.8"/><circle class="q8" cx="450.0" cy="443.7"/><circle class="q13" cx="476.4" cy="374.1"/><circle class="q9" cx="423.1" cy="375.4"/><circle class="q9" cx="428.5" cy="368.8"/><circle class="q14" cx="478.7" cy="368.7"/><circle class="q16" cx="433.1" cy="367.8"/><circle class="q6" cx="400.8" cy="397.8"/><circle class="q10" cx="397.3" cy="397.5"/><circle class="q11" cx="435.1" cy="370.0"/><circle class="q11" cx="480.2" cy="384.9"/><circle class="q13" cx="427.8" cy="378.0"/><circle class="q12" cx="478.9" cy="370.5"/><circle class="q21" cx="425.4" cy="376.2"/><circle class="q10" cx="432.6" cy="367.9"/><circle class="q9" cx="430.6" cy="374.2"/><circle class="q10" cx="427.9" cy="368.2"/><circle class="q10" cx="404.7" cy="394.7"/><circle class="q23" cx="483.7" cy="412.3"/><circle class="q15" cx="477.1" cy="363.3"/><circle class="q23" cx="481.3" cy="410.3"/><circle class="q10" cx="400.1" cy="397.7"/><circle class="q14" cx="411.1" cy="400.0"/><circle class="q12" cx="479.1" cy="370.9"/><circle class="q13" cx="427.5" cy="377.9"/><circle class="q11" cx="430.5" cy="371.6"/><circle class="q21" cx="474.9" cy="415.7"/><circle class="q11" cx="432.5" cy="371.6"/><circle class="q11" cx="398.9" cy="399.2"/><circle class="q4" cx="436.2" cy="370.5"/><circle class="q21" cx="474.4" cy="413.5"/><circle class="q14" cx="479.1" cy="381.8"/><circle class="q24" cx="483.8" cy="409.0"/><circle class="q16" cx="477.3" cy="367.6"/><circle class="q10" cx="404.9" cy="396.2"/><circle class="q11" cx="402.1" cy="397.4"/><circle class="q9" cx="397.0" cy="398.4"/><circle class="q10" cx="477.2" cy="361.9"/><circle class="q12" cx="479.2" cy="378.3"/><circle class="q23" cx="485.5" cy="408.7"/><circle class="q8" cx="433.7" cy="371.5"/><circle class="q12" cx="436.7" cy="369.5"/><circle class="q8" cx="444.1" cy="437.7"/><circle class="q9" cx="475.2" cy="361.9"/><circle class="q11" cx="477.9" cy="364.7"/><circle class="q12" cx="399.5" cy="397.9"/><circle class="q17" cx="478.5" cy="384.2"/><circle class="q6" cx="442.6" cy="409.5"/><circle class="q13" cx="479.0" cy="381.8"/><circle class="q22" cx="485.3" cy="414.3"/><circle class="q21" cx="484.1" cy="412.5"/><circle class="q9" cx="451.6" cy="440.8"/><circle class="q6" cx="477.6" cy="373.0"/><circle class="q21" cx="484.6" cy="414.7"/><circle class="q13" cx="480.1" cy="360.9"/><circle class="q18" cx="402.1" cy="397.2"/><circle class="q21" cx="477.9" cy="415.8"/><circle class="q18" cx="478.9" cy="380.8"/><circle class="q11" cx="475.1" cy="359.0"/><circle class="q17" cx="476.7" cy="361.7"/><circle class="q19" cx="482.8" cy="412.6"/><circle class="q9" cx="428.3" cy="367.0"/><circle class="q8" cx="452.7" cy="446.8"/><circle class="q10" cx="434.5" cy="368.9"/><circle class="q14" cx="477.6" cy="381.2"/><circle class="q13" cx="422.0" cy="368.0"/><circle class="q8" cx="424.2" cy="374.8"/><circle class="q9" cx="425.5" cy="372.4"/><circle class="q21" cx="482.4" cy="416.4"/><circle class="q21" cx="472.7" cy="405.9"/><circle class="q21" cx="486.0" cy="408.5"/><circle class="q11" cx="479.7" cy="379.6"/><circle class="q11" cx="424.5" cy="368.7"/><circle class="q7" cx="479.2" cy="367.5"/><circle class="q8" cx="427.3" cy="368.3"/><circle class="q23" cx="483.2" cy="413.2"/><circle class="q15" cx="480.1" cy="368.5"/><circle class="q18" cx="400.1" cy="398.0"/><circle class="q16" cx="401.6" cy="399.3"/><circle class="q17" cx="478.5" cy="361.7"/><circle class="q9" cx="424.5" cy="369.3"/><circle class="q7" cx="433.1" cy="376.1"/><circle class="q7" cx="480.0" cy="380.4"/><circle class="q10" cx="424.1" cy="376.3"/><circle class="q7" cx="401.1" cy="399.0"/><circle class="q8" cx="451.5" cy="445.9"/><circle class="q13" cx="478.5" cy="376.6"/><circle class="q6" cx="478.3" cy="373.8"/><circle class="q10" cx="398.1" cy="398.5"/><circle class="q6" cx="442.6" cy="409.0"/><circle class="q16" cx="477.7" cy="374.7"/><circle class="q15" cx="478.7" cy="375.8"/><circle class="q14" cx="423.3" cy="368.3"/><circle class="q7" cx="440.8" cy="401.2"/><circle class="q9" cx="432.7" cy="374.0"/><circle class="q7" cx="405.0" cy="395.8"/><circle class="q11" cx="427.0" cy="368.7"/><circle class="q21" cx="494.5" cy="420.2"/><circle class="q19" cx="474.3" cy="412.4"/><circle class="q19" cx="396.8" cy="398.0"/><circle class="q9" cx="423.2" cy="369.8"/><circle class="q7" cx="452.5" cy="446.6"/><circle class="q17" cx="423.5" cy="369.1"/><circle class="q12" cx="478.0" cy="375.9"/><circle class="q9" cx="476.6" cy="367.1"/><circle class="q21" cx="489.7" cy="418.2"/><circle class="q21" cx="484.7" cy="412.9"/><circle class="q16" cx="434.1" cy="366.4"/><circle class="q7" cx="478.2" cy="378.4"/><circle class="q17" cx="478.8" cy="369.6"/><circle class="q11" cx="429.8" cy="368.8"/><circle class="q8" cx="445.6" cy="407.3"/><circle class="q11" cx="430.1" cy="378.5"/><circle class="q11" cx="442.1" cy="407.4"/><circle class="q23" cx="473.4" cy="405.4"/><circle class="q16" cx="424.1" cy="369.1"/><circle class="q12" cx="424.8" cy="371.2"/><circle class="q16" cx="478.9" cy="380.9"/><circle class="q12" cx="399.3" cy="398.7"/><circle class="q15" cx="477.1" cy="369.1"/><circle class="q11" cx="410.5" cy="399.1"/><circle class="q14" cx="476.4" cy="362.8"/><circle class="q18" cx="479.2" cy="382.6"/><circle class="q14" cx="477.2" cy="374.6"/><circle class="q21" cx="480.0" cy="414.4"/><circle class="q13" cx="477.8" cy="362.1"/><circle class="q8" cx="399.4" cy="398.7"/><circle class="q19" cx="478.6" cy="414.4"/><circle class="q12" cx="478.1" cy="379.5"/><circle class="q13" cx="432.6" cy="370.5"/><circle class="q22" cx="484.9" cy="412.6"/><circle class="q10" cx="477.7" cy="362.1"/><circle class="q20" cx="481.0" cy="414.1"/><circle class="q23" cx="478.0" cy="412.4"/><circle class="q18" cx="397.0" cy="398.0"/><circle class="q21" cx="489.0" cy="417.8"/><circle class="q12" cx="400.1" cy="398.8"/><circle class="q14" cx="399.4" cy="396.5"/><circle class="q17" cx="482.0" cy="411.9"/><circle class="q21" cx="485.4" cy="414.8"/><circle class="q11" cx="449.3" cy="443.5"/><circle class="q21" cx="474.9" cy="411.5"/><circle class="q19" cx="476.7" cy="416.3"/><circle class="q11" cx="478.2" cy="381.3"/><circle class="q13" cx="478.3" cy="375.0"/><circle class="q24" cx="480.2" cy="417.5"/><circle class="q13" cx="423.3" cy="370.0"/><circle class="q14" cx="472.2" cy="366.0"/><circle class="q11" cx="411.9" cy="399.1"/><circle class="q18" cx="477.9" cy="418.3"/><circle class="q9" cx="404.2" cy="395.9"/><circle class="q11" cx="430.1" cy="369.6"/><circle class="q10" cx="423.1" cy="369.3"/><circle class="q12" cx="478.9" cy="379.6"/><circle class="q23" cx="483.5" cy="408.3"/><circle class="q21" cx="479.8" cy="412.9"/><circle class="q13" cx="410.7" cy="399.2"/><circle class="q14" cx="477.2" cy="361.9"/><circle class="q13" cx="475.8" cy="363.9"/><circle class="q13" cx="422.6" cy="375.8"/><circle class="q10" cx="422.2" cy="371.4"/><circle class="q13" cx="479.3" cy="378.1"/><circle class="q11" cx="424.7" cy="367.1"/><circle class="q19" cx="473.0" cy="410.4"/><circle class="q15" cx="479.0" cy="381.2"/><circle class="q15" cx="423.8" cy="367.5"/><circle class="q16" cx="479.3" cy="382.1"/><circle class="q13" cx="397.6" cy="397.8"/><circle class="q12" cx="480.4" cy="369.7"/><circle class="q10" cx="424.0" cy="370.0"/><circle class="q11" cx="472.1" cy="363.2"/><circle class="q17" cx="477.9" cy="376.4"/><circle class="q9" cx="443.7" cy="408.6"/><circle class="q10" cx="402.8" cy="396.4"/><circle class="q16" cx="475.6" cy="363.7"/><circle class="q12" cx="429.1" cy="377.6"/><circle class="q6" cx="433.2" cy="368.8"/><circle class="q16" cx="433.4" cy="371.8"/><circle class="q13" cx="449.9" cy="442.0"/><circle class="q9" cx="453.7" cy="447.0"/><circle class="q11" cx="399.4" cy="398.7"/><circle class="q10" cx="479.5" cy="365.1"/><circle class="q22" cx="482.7" cy="410.0"/><circle class="q11" cx="434.9" cy="368.6"/><circle class="q15" cx="478.8" cy="378.4"/><circle class="q14" cx="397.9" cy="398.3"/><circle class="q15" cx="453.0" cy="446.4"/><circle class="q14" cx="425.6" cy="372.5"/><circle class="q13" cx="400.1" cy="398.4"/><circle class="q24" cx="480.8" cy="412.7"/><circle class="q9" cx="424.3" cy="368.1"/><circle class="q10" cx="424.4" cy="375.8"/><circle class="q7" cx="477.8" cy="373.9"/><circle class="q24" cx="480.0" cy="414.3"/><circle class="q21" cx="487.5" cy="416.8"/></g>
<line x1="397.2" y1="451.3" x2="397.2" y2="454.1" stroke="#333" stroke-width="0.8"/>
<text x="397.2" y="464.4" font-size="10" fill="#222" text-anchor="middle">−30</text>
<line x1="415.7" y1="451.3" x2="415.7" y2="454.1" stroke="#333" stroke-width="0.8"/>
<text x="415.7" y="464.4" font-size="10" fill="#222" text-anchor="middle">−20</text>
<line x1="434.2" y1="451.3" x2="434.2" y2="454.1" stroke="#333" stroke-width="0.8"/>
<text x="434.2" y="464.4" font-size="10" fill="#222" text-anchor="middle">−10</text>
<line x1="452.7" y1="451.3" x2="452.7" y2="454.1" stroke="#333" stroke-width="0.8"/>
<text x="452.7" y="464.4" font-size="10" fill="#222" text-anchor="middle">0</text>
<line x1="471.2" y1="451.3" x2="471.2" y2="454.1" stroke="#333" stroke-width="0.8"/>
<text x="471.2" y="464.4" font-size="10" fill="#222" text-anchor="middle">10</text>
<line x1="489.7" y1="451.3" x2="489.7" y2="454.1" stroke="#333" stroke-width="0.8"/>
<text x="489.7" y="464.4" font-size="10" fill="#222" text-anchor="middle">20</text>
<rect x="505.9" y="325.0" width="107.2" height="30.2" fill="#d9d9d9" stroke="#555" stroke-width="0.8"/>
<rect x="505.9" y="355.2" width="107.2" height="96.1" fill="#fff" stroke="#666" stroke-width="0.8"/>
<text x="557.5" y="337.9" font-size="10.3" fill="#111" text-anchor="middle" font-weight="bold" font-style="italic" textLength="24.9" lengthAdjust="spacingAndGlyphs">Naa50</text>
<text x="559.5" y="349.5" font-size="10.3" fill="#111" text-anchor="middle">chr16:44163366:+</text>
<g class="d"><circle class="q4" cx="565.2" cy="441.2"/><circle class="q22" cx="514.1" cy="398.5"/><circle class="q21" cx="513.1" cy="396.5"/><circle class="q24" cx="511.6" cy="398.3"/><circle class="q2" cx="597.4" cy="412.3"/><circle class="q2" cx="594.1" cy="369.7"/><circle class="q3" cx="591.0" cy="367.6"/><circle class="q1" cx="592.8" cy="370.9"/><circle class="q9" cx="543.6" cy="372.7"/><circle class="q14" cx="590.3" cy="367.1"/><circle class="q1" cx="554.6" cy="401.2"/><circle class="q14" cx="535.9" cy="371.4"/><circle class="q4" cx="546.1" cy="369.3"/><circle class="q0" cx="533.1" cy="370.6"/><circle class="q9" cx="591.9" cy="381.3"/><circle class="q3" cx="555.0" cy="401.8"/><circle class="q4" cx="541.9" cy="372.3"/><circle class="q22" cx="513.1" cy="398.7"/><circle class="q0" cx="591.4" cy="374.7"/><circle class="q4" cx="592.0" cy="375.0"/><circle class="q10" cx="598.4" cy="413.0"/><circle class="q3" cx="590.4" cy="360.8"/><circle class="q20" cx="565.4" cy="446.0"/><circle class="q2" cx="595.0" cy="407.4"/><circle class="q9" cx="592.6" cy="380.8"/><circle class="q15" cx="599.2" cy="408.7"/><circle class="q5" cx="566.4" cy="446.9"/><circle class="q1" cx="592.3" cy="363.9"/><circle class="q3" cx="546.3" cy="370.5"/><circle class="q19" cx="563.2" cy="443.1"/><circle class="q2" cx="592.4" cy="375.8"/><circle class="q21" cx="511.6" cy="396.6"/><circle class="q1" cx="589.9" cy="360.2"/><circle class="q24" cx="510.7" cy="398.0"/><circle class="q2" cx="590.9" cy="374.6"/><circle class="q0" cx="589.7" cy="368.5"/><circle class="q6" cx="538.2" cy="371.6"/><circle class="q2" cx="599.2" cy="416.2"/><circle class="q2" cx="599.1" cy="414.8"/><circle class="q5" cx="556.3" cy="401.6"/><circle class="q2" cx="591.4" cy="362.1"/><circle class="q4" cx="557.0" cy="409.4"/><circle class="q3" cx="548.2" cy="368.9"/><circle class="q21" cx="513.5" cy="398.8"/><circle class="q17" cx="566.4" cy="446.8"/><circle class="q24" cx="511.8" cy="398.2"/><circle class="q0" cx="536.8" cy="375.4"/><circle class="q21" cx="513.2" cy="397.9"/><circle class="q22" cx="515.1" cy="398.3"/><circle class="q3" cx="591.9" cy="374.2"/><circle class="q4" cx="591.8" cy="418.1"/><circle class="q2" cx="586.7" cy="414.0"/><circle class="q2" cx="592.6" cy="368.3"/><circle class="q2" cx="591.4" cy="363.5"/><circle class="q22" cx="511.8" cy="398.5"/><circle class="q21" cx="512.0" cy="397.7"/><circle class="q3" cx="541.6" cy="368.2"/><circle class="q2" cx="593.3" cy="375.9"/><circle class="q3" cx="538.4" cy="371.4"/><circle class="q10" cx="594.5" cy="412.7"/><circle class="q11" cx="591.6" cy="376.4"/><circle class="q1" cx="589.5" cy="416.5"/><circle class="q2" cx="599.0" cy="414.3"/><circle class="q21" cx="512.5" cy="396.9"/><circle class="q2" cx="554.3" cy="404.4"/><circle class="q5" cx="548.3" cy="369.9"/><circle class="q1" cx="591.7" cy="375.9"/><circle class="q2" cx="548.6" cy="368.6"/><circle class="q3" cx="588.9" cy="361.9"/><circle class="q4" cx="595.6" cy="411.4"/><circle class="q3" cx="589.6" cy="372.0"/><circle class="q16" cx="559.3" cy="439.0"/><circle class="q5" cx="524.7" cy="399.2"/><circle class="q3" cx="557.1" cy="409.3"/><circle class="q10" cx="593.7" cy="380.4"/><circle class="q4" cx="546.1" cy="375.8"/><circle class="q4" cx="536.2" cy="370.7"/><circle class="q22" cx="517.4" cy="396.1"/><circle class="q2" cx="586.5" cy="413.3"/><circle class="q22" cx="562.7" cy="443.7"/><circle class="q3" cx="590.6" cy="413.7"/><circle class="q2" cx="593.7" cy="414.3"/><circle class="q0" cx="586.7" cy="410.4"/><circle class="q1" cx="591.6" cy="364.7"/><circle class="q1" cx="538.4" cy="367.1"/><circle class="q2" cx="534.9" cy="370.4"/><circle class="q2" cx="592.4" cy="368.7"/><circle class="q3" cx="592.6" cy="379.6"/><circle class="q3" cx="585.9" cy="366.0"/><circle class="q3" cx="594.6" cy="415.5"/><circle class="q7" cx="592.0" cy="378.8"/><circle class="q2" cx="587.0" cy="371.3"/><circle class="q23" cx="513.1" cy="396.6"/><circle class="q0" cx="539.4" cy="369.7"/><circle class="q2" cx="597.9" cy="407.8"/><circle class="q15" cx="558.7" cy="439.0"/><circle class="q12" cx="541.8" cy="371.8"/><circle class="q3" cx="595.0" cy="413.6"/><circle class="q2" cx="555.8" cy="407.3"/><circle class="q0" cx="589.5" cy="361.8"/><circle class="q12" cx="547.4" cy="371.5"/><circle class="q0" cx="547.9" cy="370.8"/><circle class="q3" cx="590.1" cy="370.7"/><circle class="q1" cx="586.4" cy="405.9"/><circle class="q2" cx="590.8" cy="369.1"/><circle class="q5" cx="556.3" cy="409.5"/><circle class="q2" cx="586.8" cy="407.4"/><circle class="q1" cx="590.1" cy="362.8"/><circle class="q14" cx="538.0" cy="372.0"/><circle class="q1" cx="538.7" cy="372.0"/><circle class="q2" cx="523.6" cy="398.8"/><circle class="q3" cx="558.5" cy="409.5"/><circle class="q22" cx="516.6" cy="396.4"/><circle class="q4" cx="592.9" cy="383.2"/><circle class="q3" cx="588.8" cy="414.1"/><circle class="q2" cx="536.8" cy="365.5"/><circle class="q4" cx="542.0" cy="367.0"/><circle class="q1" cx="538.1" cy="372.1"/><circle class="q2" cx="601.6" cy="414.1"/><circle class="q3" cx="545.9" cy="370.4"/><circle class="q1" cx="547.1" cy="371.8"/><circle class="q17" cx="564.1" cy="442.9"/><circle class="q1" cx="590.4" cy="371.4"/><circle class="q10" cx="591.8" cy="379.5"/><circle class="q2" cx="593.7" cy="378.8"/><circle class="q12" cx="591.8" cy="365.0"/><circle class="q9" cx="538.3" cy="362.3"/><circle class="q6" cx="562.9" cy="440.9"/><circle class="q2" cx="594.2" cy="414.4"/><circle class="q23" cx="515.8" cy="397.2"/><circle class="q24" cx="513.8" cy="398.0"/><circle class="q20" cx="510.7" cy="398.4"/><circle class="q2" cx="589.8" cy="358.5"/><circle class="q2" cx="555.1" cy="407.6"/><circle class="q10" cx="586.6" cy="410.4"/><circle class="q3" cx="593.6" cy="380.8"/><circle class="q8" cx="563.6" cy="443.9"/><circle class="q2" cx="590.9" cy="364.0"/><circle class="q0" cx="548.4" cy="370.8"/><circle class="q1" cx="588.0" cy="412.4"/><circle class="q3" cx="536.0" cy="371.3"/><circle class="q2" cx="594.7" cy="414.1"/><circle class="q6" cx="538.2" cy="368.9"/><circle class="q1" cx="588.6" cy="411.5"/><circle class="q10" cx="588.1" cy="413.5"/><circle class="q3" cx="549.9" cy="370.5"/><circle class="q3" cx="593.9" cy="411.2"/><circle class="q2" cx="591.2" cy="417.8"/><circle class="q2" cx="592.8" cy="370.1"/><circle class="q9" cx="590.6" cy="367.4"/><circle class="q2" cx="588.2" cy="415.2"/><circle class="q14" cx="562.6" cy="440.7"/><circle class="q21" cx="510.8" cy="397.9"/><circle class="q7" cx="541.0" cy="368.3"/><circle class="q2" cx="586.4" cy="414.0"/><circle class="q1" cx="556.7" cy="398.8"/><circle class="q18" cx="565.2" cy="445.9"/><circle class="q13" cx="593.6" cy="371.0"/><circle class="q2" cx="589.8" cy="373.6"/><circle class="q2" cx="536.4" cy="368.6"/><circle class="q2" cx="555.5" cy="408.5"/><circle class="q1" cx="597.3" cy="414.4"/><circle class="q23" cx="515.8" cy="397.4"/><circle class="q3" cx="524.4" cy="399.2"/><circle class="q2" cx="546.0" cy="369.9"/><circle class="q2" cx="525.6" cy="399.1"/><circle class="q1" cx="591.5" cy="412.8"/><circle class="q1" cx="592.9" cy="381.8"/><circle class="q0" cx="591.1" cy="372.9"/><circle class="q16" cx="593.0" cy="378.1"/><circle class="q12" cx="546.3" cy="374.4"/><circle class="q1" cx="595.6" cy="411.2"/><circle class="q2" cx="601.2" cy="416.8"/><circle class="q1" cx="596.5" cy="412.6"/><circle class="q20" cx="511.0" cy="397.5"/><circle class="q23" cx="514.4" cy="398.5"/><circle class="q13" cx="593.4" cy="412.7"/><circle class="q11" cx="563.6" cy="442.0"/><circle class="q1" cx="535.7" cy="368.0"/><circle class="q3" cx="590.2" cy="413.8"/><circle class="q14" cx="596.6" cy="410.0"/><circle class="q20" cx="510.5" cy="398.0"/><circle class="q3" cx="596.1" cy="416.4"/><circle class="q0" cx="596.3" cy="408.2"/><circle class="q4" cx="538.6" cy="362.6"/><circle class="q11" cx="548.3" cy="369.3"/><circle class="q10" cx="592.9" cy="382.6"/><circle class="q2" cx="541.5" cy="378.0"/><circle class="q2" cx="596.9" cy="413.2"/><circle class="q3" cx="524.2" cy="399.1"/><circle class="q21" cx="512.6" cy="399.2"/><circle class="q1" cx="592.2" cy="361.7"/><circle class="q2" cx="593.9" cy="384.9"/><circle class="q4" cx="594.1" cy="413.7"/><circle class="q4" cx="540.7" cy="368.7"/><circle class="q20" cx="517.9" cy="395.9"/><circle class="q4" cx="546.1" cy="371.2"/><circle class="q1" cx="559.7" cy="408.6"/><circle class="q4" cx="585.7" cy="410.8"/><circle class="q2" cx="588.3" cy="413.0"/><circle class="q0" cx="587.2" cy="411.3"/><circle class="q3" cx="590.0" cy="373.2"/><circle class="q1" cx="589.0" cy="359.9"/><circle class="q2" cx="543.4" cy="377.8"/><circle class="q1" cx="541.5" cy="377.9"/><circle class="q1" cx="589.9" cy="416.6"/><circle class="q3" cx="553.3" cy="408.6"/><circle class="q0" cx="547.3" cy="371.8"/><circle class="q3" cx="537.7" cy="370.0"/><circle class="q3" cx="537.2" cy="369.1"/><circle class="q1" cx="608.6" cy="420.4"/><circle class="q6" cx="554.3" cy="405.5"/><circle class="q4" cx="547.8" cy="366.4"/><circle class="q1" cx="537.0" cy="372.1"/><circle class="q20" cx="559.2" cy="440.9"/><circle class="q20" cx="518.7" cy="395.8"/><circle class="q4" cx="550.4" cy="369.5"/><circle class="q7" cx="598.4" cy="412.9"/><circle class="q22" cx="512.0" cy="398.1"/><circle class="q3" cx="537.8" cy="375.6"/><circle class="q3" cx="539.2" cy="372.4"/><circle class="q3" cx="554.7" cy="408.1"/><circle class="q3" cx="593.8" cy="368.5"/><circle class="q2" cx="538.0" cy="368.1"/><circle class="q3" cx="525.1" cy="398.8"/><circle class="q0" cx="597.8" cy="412.5"/><circle class="q16" cx="548.7" cy="370.0"/><circle class="q3" cx="597.2" cy="408.3"/><circle class="q10" cx="565.5" cy="443.9"/><circle class="q2" cx="543.8" cy="378.5"/><circle class="q1" cx="589.5" cy="363.9"/><circle class="q4" cx="545.7" cy="375.7"/><circle class="q21" cx="513.1" cy="398.7"/><circle class="q4" cx="591.4" cy="374.5"/><circle class="q0" cx="554.0" cy="408.2"/><circle class="q3" cx="539.3" cy="372.5"/><circle class="q3" cx="592.6" cy="380.9"/><circle class="q2" cx="596.4" cy="410.0"/><circle class="q22" cx="563.7" cy="441.7"/><circle class="q2" cx="592.9" cy="367.5"/><circle class="q23" cx="515.5" cy="398.2"/><circle class="q4" cx="524.2" cy="399.4"/><circle class="q2" cx="598.0" cy="416.1"/><circle class="q1" cx="585.8" cy="363.2"/><circle class="q0" cx="548.8" cy="370.0"/><circle class="q7" cx="556.7" cy="397.8"/><circle class="q0" cx="555.3" cy="408.9"/><circle class="q11" cx="591.0" cy="416.8"/><circle class="q3" cx="593.4" cy="375.7"/><circle class="q24" cx="513.8" cy="398.8"/><circle class="q24" cx="515.3" cy="399.3"/><circle class="q4" cx="525.8" cy="399.0"/><circle class="q0" cx="539.0" cy="375.8"/><circle class="q0" cx="590.1" cy="374.1"/><circle class="q22" cx="513.8" cy="397.7"/><circle class="q2" cx="591.8" cy="380.1"/><circle class="q1" cx="589.7" cy="412.1"/><circle class="q13" cx="542.2" cy="368.8"/><circle class="q2" cx="546.8" cy="367.8"/><circle class="q0" cx="596.7" cy="362.7"/><circle class="q2" cx="593.5" cy="412.9"/><circle class="q15" cx="591.1" cy="415.6"/><circle class="q18" cx="562.5" cy="441.7"/><circle class="q16" cx="563.7" cy="443.7"/><circle class="q4" cx="524.8" cy="400.0"/><circle class="q2" cx="539.8" cy="371.9"/><circle class="q1" cx="598.3" cy="414.7"/><circle class="q0" cx="593.0" cy="358.8"/><circle class="q6" cx="558.3" cy="439.3"/><circle class="q12" cx="597.8" cy="409.5"/><circle class="q0" cx="590.8" cy="363.3"/><circle class="q3" cx="548.4" cy="375.7"/><circle class="q0" cx="608.2" cy="420.2"/><circle class="q20" cx="562.2" cy="443.9"/><circle class="q23" cx="511.3" cy="397.8"/><circle class="q4" cx="542.6" cy="378.6"/><circle class="q3" cx="594.2" cy="411.5"/><circle class="q6" cx="565.3" cy="440.8"/><circle class="q13" cx="592.9" cy="414.2"/><circle class="q22" cx="521.3" cy="395.2"/><circle class="q3" cx="592.9" cy="373.3"/><circle class="q4" cx="539.1" cy="376.2"/><circle class="q3" cx="593.8" cy="411.6"/><circle class="q2" cx="596.9" cy="411.5"/><circle class="q10" cx="546.8" cy="369.4"/><circle class="q13" cx="587.8" cy="413.2"/><circle class="q3" cx="592.3" cy="414.4"/><circle class="q24" cx="513.5" cy="397.7"/><circle class="q22" cx="513.8" cy="398.4"/><circle class="q23" cx="514.5" cy="397.8"/><circle class="q14" cx="565.9" cy="446.3"/><circle class="q0" cx="592.2" cy="384.2"/><circle class="q13" cx="588.6" cy="415.7"/><circle class="q6" cx="567.4" cy="447.0"/><circle class="q2" cx="591.7" cy="382.8"/><circle class="q20" cx="518.6" cy="396.2"/><circle class="q3" cx="596.6" cy="409.5"/><circle class="q12" cx="587.9" cy="364.1"/><circle class="q9" cx="546.3" cy="367.9"/><circle class="q4" cx="537.3" cy="368.1"/><circle class="q3" cx="586.5" cy="409.4"/><circle class="q21" cx="514.2" cy="396.6"/><circle class="q21" cx="513.1" cy="400.2"/><circle class="q3" cx="593.8" cy="416.8"/><circle class="q6" cx="592.7" cy="380.4"/><circle class="q3" cx="592.6" cy="370.5"/><circle class="q1" cx="594.4" cy="412.7"/><circle class="q2" cx="590.2" cy="367.2"/><circle class="q9" cx="591.5" cy="373.9"/><circle class="q2" cx="591.3" cy="376.7"/><circle class="q1" cx="596.0" cy="406.3"/><circle class="q3" cx="547.8" cy="370.8"/><circle class="q14" cx="594.1" cy="412.1"/><circle class="q0" cx="591.2" cy="376.3"/><circle class="q12" cx="543.8" cy="369.6"/><circle class="q2" cx="592.8" cy="381.8"/><circle class="q0" cx="590.0" cy="362.5"/><circle class="q2" cx="591.3" cy="381.2"/><circle class="q3" cx="538.5" cy="369.9"/><circle class="q0" cx="591.3" cy="373.0"/><circle class="q13" cx="591.6" cy="415.8"/><circle class="q10" cx="592.5" cy="373.5"/><circle class="q3" cx="587.1" cy="405.4"/><circle class="q3" cx="592.3" cy="377.2"/><circle class="q14" cx="592.7" cy="381.2"/><circle class="q22" cx="517.5" cy="397.9"/><circle class="q22" cx="513.0" cy="398.7"/><circle class="q2" cx="593.8" cy="360.9"/><circle class="q2" cx="603.4" cy="418.2"/><circle class="q2" cx="592.9" cy="378.3"/><circle class="q22" cx="513.0" cy="398.9"/><circle class="q3" cx="598.6" cy="412.6"/><circle class="q1" cx="592.0" cy="373.8"/><circle class="q2" cx="547.4" cy="369.7"/><circle class="q0" cx="585.0" cy="409.0"/><circle class="q2" cx="586.1" cy="362.3"/><circle class="q2" cx="592.5" cy="369.6"/><circle class="q3" cx="544.5" cy="375.2"/><circle class="q9" cx="546.8" cy="376.1"/><circle class="q0" cx="537.8" cy="369.1"/><circle class="q24" cx="517.0" cy="396.4"/><circle class="q1" cx="592.7" cy="381.8"/><circle class="q10" cx="594.4" cy="411.9"/><circle class="q10" cx="593.6" cy="379.0"/><circle class="q5" cx="546.1" cy="375.6"/><circle class="q22" cx="565.6" cy="446.4"/><circle class="q0" cx="525.1" cy="398.9"/><circle class="q17" cx="591.6" cy="418.8"/><circle class="q12" cx="591.2" cy="416.1"/><circle class="q4" cx="553.1" cy="407.7"/><circle class="q22" cx="557.8" cy="437.7"/><circle class="q2" cx="587.9" cy="366.2"/><circle class="q1" cx="554.5" cy="406.3"/><circle class="q16" cx="548.7" cy="376.1"/><circle class="q2" cx="595.0" cy="410.3"/><circle class="q13" cx="546.2" cy="371.6"/><circle class="q21" cx="518.7" cy="395.7"/><circle class="q1" cx="589.6" cy="411.5"/><circle class="q13" cx="589.1" cy="410.2"/><circle class="q0" cx="590.9" cy="361.9"/><circle class="q13" cx="597.0" cy="415.0"/></g>
<line x1="510.9" y1="451.3" x2="510.9" y2="454.1" stroke="#333" stroke-width="0.8"/>
<text x="510.9" y="464.4" font-size="10" fill="#222" text-anchor="middle">−30</text>
<line x1="529.4" y1="451.3" x2="529.4" y2="454.1" stroke="#333" stroke-width="0.8"/>
<text x="529.4" y="464.4" font-size="10" fill="#222" text-anchor="middle">−20</text>
<line x1="547.9" y1="451.3" x2="547.9" y2="454.1" stroke="#333" stroke-width="0.8"/>
<text x="547.9" y="464.4" font-size="10" fill="#222" text-anchor="middle">−10</text>
<line x1="566.4" y1="451.3" x2="566.4" y2="454.1" stroke="#333" stroke-width="0.8"/>
<text x="566.4" y="464.4" font-size="10" fill="#222" text-anchor="middle">0</text>
<line x1="584.9" y1="451.3" x2="584.9" y2="454.1" stroke="#333" stroke-width="0.8"/>
<text x="584.9" y="464.4" font-size="10" fill="#222" text-anchor="middle">10</text>
<line x1="603.4" y1="451.3" x2="603.4" y2="454.1" stroke="#333" stroke-width="0.8"/>
<text x="603.4" y="464.4" font-size="10" fill="#222" text-anchor="middle">20</text>
<text x="445.4" y="478.3" font-size="11" fill="#111" text-anchor="middle">tSNE_1</text>
<text x="250" y="336.7" font-size="11.1" fill="#111" text-anchor="middle" transform="rotate(-90 250 336.7)">tSNE_2</text>
<text x="653.7" y="289.5" font-size="11.2" fill="#111" text-anchor="middle">Poly(A) site</text>
<text x="653.7" y="302.6" font-size="11.2" fill="#111" text-anchor="middle">usage</text>
<defs><linearGradient id="pg" x1="0" y1="1" x2="0" y2="0"><stop offset="0.0" stop-color="#e4e4e4"/><stop offset="0.1" stop-color="#d0cadc"/><stop offset="0.2" stop-color="#bcb1d4"/><stop offset="0.3" stop-color="#a899cb"/><stop offset="0.4" stop-color="#9482c1"/><stop offset="0.5" stop-color="#806cb8"/><stop offset="0.6" stop-color="#6c57ae"/><stop offset="0.7" stop-color="#5842a4"/><stop offset="0.8" stop-color="#3f2e9b"/><stop offset="0.9" stop-color="#231b91"/><stop offset="1.0" stop-color="#080888"/></linearGradient><linearGradient id="rg" x1="0" y1="1" x2="0" y2="0"><stop offset="0.0" stop-color="#fff9f7"/><stop offset="0.1" stop-color="#ffe7de"/><stop offset="0.2" stop-color="#ffd4c5"/><stop offset="0.3" stop-color="#ffc1ad"/><stop offset="0.4" stop-color="#ffae95"/><stop offset="0.5" stop-color="#ff9b7e"/><stop offset="0.6" stop-color="#ff8767"/><stop offset="0.7" stop-color="#ff7150"/><stop offset="0.8" stop-color="#ff5a39"/><stop offset="0.9" stop-color="#ff3d21"/><stop offset="1.0" stop-color="#ff0000"/></linearGradient></defs>
<rect x="629.4" y="312.8" width="18.6" height="92.5" fill="url(#pg)"/>
<line x1="629.4" y1="315.5" x2="633" y2="315.5" stroke="#fff" stroke-width="0.6"/><line x1="644.4" y1="315.5" x2="648" y2="315.5" stroke="#fff" stroke-width="0.6"/>
<text x="654.5" y="319" font-size="10" fill="#222">1.00</text>
<line x1="629.4" y1="337.47" x2="633" y2="337.47" stroke="#fff" stroke-width="0.6"/><line x1="644.4" y1="337.47" x2="648" y2="337.47" stroke="#fff" stroke-width="0.6"/>
<text x="654.5" y="340.97" font-size="10" fill="#222">0.75</text>
<line x1="629.4" y1="359.44" x2="633" y2="359.44" stroke="#fff" stroke-width="0.6"/><line x1="644.4" y1="359.44" x2="648" y2="359.44" stroke="#fff" stroke-width="0.6"/>
<text x="654.5" y="362.94" font-size="10" fill="#222">0.50</text>
<line x1="629.4" y1="381.41" x2="633" y2="381.41" stroke="#fff" stroke-width="0.6"/><line x1="644.4" y1="381.41" x2="648" y2="381.41" stroke="#fff" stroke-width="0.6"/>
<text x="654.5" y="384.91" font-size="10" fill="#222">0.25</text>
<line x1="629.4" y1="403.38" x2="633" y2="403.38" stroke="#fff" stroke-width="0.6"/><line x1="644.4" y1="403.38" x2="648" y2="403.38" stroke="#fff" stroke-width="0.6"/>
<text x="654.5" y="406.88" font-size="10" fill="#222">0.00</text>
<rect x="440.8" y="496.6" width="182.2" height="338" fill="#fff" stroke="#c2c2c2" stroke-width="1.5"/>
<line x1="437.8" y1="506.3" x2="440.8" y2="506.3" stroke="#333" stroke-width="0.8"/>
<text x="435.8" y="510" font-size="10.45" fill="#111" text-anchor="end">Synaptic vesicle recycling</text>
<line x1="437.8" y1="523.07" x2="440.8" y2="523.07" stroke="#333" stroke-width="0.8"/>
<text x="435.8" y="526.77" font-size="10.45" fill="#111" text-anchor="end">Synaptic vesicle localization</text>
<line x1="437.8" y1="539.84" x2="440.8" y2="539.84" stroke="#333" stroke-width="0.8"/>
<text x="435.8" y="543.54" font-size="10.45" fill="#111" text-anchor="end">Vesicle mediated transport in synapse</text>
<line x1="437.8" y1="556.61" x2="440.8" y2="556.61" stroke="#333" stroke-width="0.8"/>
<text x="435.8" y="560.31" font-size="10.45" fill="#111" text-anchor="end">Response to corticosteroid</text>
<line x1="437.8" y1="573.38" x2="440.8" y2="573.38" stroke="#333" stroke-width="0.8"/>
<text x="435.8" y="577.08" font-size="10.45" fill="#111" text-anchor="end">Oxidative phosphorylation</text>
<line x1="437.8" y1="590.15" x2="440.8" y2="590.15" stroke="#333" stroke-width="0.8"/>
<text x="435.8" y="593.85" font-size="10.45" fill="#111" text-anchor="end">Neuron projection extension</text>
<line x1="437.8" y1="606.92" x2="440.8" y2="606.92" stroke="#333" stroke-width="0.8"/>
<text x="435.8" y="610.62" font-size="10.45" fill="#111" text-anchor="end">Neural nucleus development</text>
<line x1="437.8" y1="623.69" x2="440.8" y2="623.69" stroke="#333" stroke-width="0.8"/>
<text x="435.8" y="627.39" font-size="10.45" fill="#111" text-anchor="end">Plasma membrane organization</text>
<line x1="437.8" y1="640.46" x2="440.8" y2="640.46" stroke="#333" stroke-width="0.8"/>
<text x="435.8" y="644.16" font-size="10.45" fill="#111" text-anchor="end">Cell-cell adhesion</text>
<line x1="437.8" y1="657.23" x2="440.8" y2="657.23" stroke="#333" stroke-width="0.8"/>
<text x="435.8" y="660.93" font-size="10.45" fill="#111" text-anchor="end">Intracellular receptor signaling pathway</text>
<line x1="437.8" y1="674" x2="440.8" y2="674" stroke="#333" stroke-width="0.8"/>
<text x="435.8" y="677.7" font-size="10.45" fill="#111" text-anchor="end">Cytoskeleton dependent intracellular transport</text>
<line x1="437.8" y1="690.77" x2="440.8" y2="690.77" stroke="#333" stroke-width="0.8"/>
<text x="435.8" y="694.47" font-size="10.45" fill="#111" text-anchor="end">Calcium ion regulated exocytosis</text>
<line x1="437.8" y1="707.54" x2="440.8" y2="707.54" stroke="#333" stroke-width="0.8"/>
<text x="435.8" y="711.24" font-size="10.45" fill="#111" text-anchor="end">Exocytosis</text>
<line x1="437.8" y1="724.31" x2="440.8" y2="724.31" stroke="#333" stroke-width="0.8"/>
<text x="435.8" y="728.01" font-size="10.45" fill="#111" text-anchor="end">Presynaptic endocytosis</text>
<line x1="437.8" y1="741.08" x2="440.8" y2="741.08" stroke="#333" stroke-width="0.8"/>
<text x="435.8" y="744.78" font-size="10.45" fill="#111" text-anchor="end">Regulation of secretion</text>
<line x1="437.8" y1="757.85" x2="440.8" y2="757.85" stroke="#333" stroke-width="0.8"/>
<text x="435.8" y="761.55" font-size="10.45" fill="#111" text-anchor="end">Regulation of cation channel activity</text>
<line x1="437.8" y1="774.62" x2="440.8" y2="774.62" stroke="#333" stroke-width="0.8"/>
<text x="435.8" y="778.32" font-size="10.45" fill="#111" text-anchor="end">Regulation of transporter activity</text>
<line x1="437.8" y1="791.39" x2="440.8" y2="791.39" stroke="#333" stroke-width="0.8"/>
<text x="435.8" y="795.09" font-size="10.45" fill="#111" text-anchor="end">Regulation of ion transport</text>
<line x1="437.8" y1="808.16" x2="440.8" y2="808.16" stroke="#333" stroke-width="0.8"/>
<text x="435.8" y="811.86" font-size="10.45" fill="#111" text-anchor="end">Axonal transport</text>
<line x1="437.8" y1="824.93" x2="440.8" y2="824.93" stroke="#333" stroke-width="0.8"/>
<text x="435.8" y="828.63" font-size="10.45" fill="#111" text-anchor="end">Axo-dendritic transport</text>
<circle cx="458.4" cy="506.3" r="7.3" fill="#ff4d2e"/><circle cx="488.4" cy="506.3" r="2.0" fill="#ffa88d"/><circle cx="517.7" cy="506.3" r="5.0" fill="#ff8969"/><circle cx="547.3" cy="506.3" r="4.4" fill="#ff9475"/><circle cx="576.7" cy="506.3" r="2.6" fill="#ffa88d"/><circle cx="606.3" cy="506.3" r="2.0" fill="#ffa88d"/><circle cx="458.4" cy="523.07" r="7.3" fill="#ff5b3a"/><circle cx="488.4" cy="523.07" r="5.3" fill="#ff8969"/><circle cx="517.7" cy="523.07" r="2.3" fill="#ffa88d"/><circle cx="547.3" cy="523.07" r="7.3" fill="#ff7352"/><circle cx="576.7" cy="523.07" r="4.1" fill="#ff9e81"/><circle cx="606.3" cy="523.07" r="4.7" fill="#ff9475"/><circle cx="458.4" cy="539.84" r="7.0" fill="#ff4d2e"/><circle cx="488.4" cy="539.84" r="6.1" fill="#ff7e5e"/><circle cx="517.7" cy="539.84" r="3.8" fill="#ff9e81"/><circle cx="547.3" cy="539.84" r="7.3" fill="#ff6846"/><circle cx="576.7" cy="539.84" r="4.4" fill="#ff9e81"/><circle cx="606.3" cy="539.84" r="4.7" fill="#ff9475"/><circle cx="458.4" cy="556.61" r="7.6" fill="#ff6846"/><circle cx="488.4" cy="556.61" r="7.0" fill="#ff5b3a"/><circle cx="517.7" cy="556.61" r="5.0" fill="#ff9475"/><circle cx="547.3" cy="556.61" r="5.8" fill="#ff8969"/><circle cx="576.7" cy="556.61" r="5.5" fill="#ff8969"/><circle cx="606.3" cy="556.61" r="3.5" fill="#ff9e81"/><circle cx="458.4" cy="573.38" r="7.6" fill="#ff0000"/><circle cx="488.4" cy="573.38" r="7.3" fill="#ff5b3a"/><circle cx="517.7" cy="573.38" r="1.5" fill="#ffa88d"/><circle cx="576.7" cy="573.38" r="0.6" fill="#ffb299"/><circle cx="458.4" cy="590.15" r="5.3" fill="#ff9475"/><circle cx="488.4" cy="590.15" r="4.7" fill="#ff9e81"/><circle cx="517.7" cy="590.15" r="5.3" fill="#ff9475"/><circle cx="547.3" cy="590.15" r="2.6" fill="#ffb299"/><circle cx="576.7" cy="590.15" r="5.5" fill="#ff8969"/><circle cx="606.3" cy="590.15" r="3.5" fill="#ffa88d"/><circle cx="458.4" cy="606.92" r="6.7" fill="#ff7e5e"/><circle cx="488.4" cy="606.92" r="7.6" fill="#ff5b3a"/><circle cx="517.7" cy="606.92" r="3.5" fill="#ffa88d"/><circle cx="547.3" cy="606.92" r="5.3" fill="#ff9475"/><circle cx="576.7" cy="606.92" r="5.3" fill="#ff9475"/><circle cx="606.3" cy="606.92" r="2.0" fill="#ffb299"/><circle cx="458.4" cy="623.69" r="7.3" fill="#ff7352"/><circle cx="488.4" cy="623.69" r="2.3" fill="#ffb299"/><circle cx="517.7" cy="623.69" r="5.8" fill="#ff8969"/><circle cx="547.3" cy="623.69" r="3.8" fill="#ff9e81"/><circle cx="576.7" cy="623.69" r="2.6" fill="#ffa88d"/><circle cx="606.3" cy="623.69" r="5.8" fill="#ff8969"/><circle cx="458.4" cy="640.46" r="6.1" fill="#ff7e5e"/><circle cx="488.4" cy="640.46" r="7.0" fill="#ff7e5e"/><circle cx="517.7" cy="640.46" r="3.5" fill="#ffa88d"/><circle cx="576.7" cy="640.46" r="7.3" fill="#ff3e22"/><circle cx="606.3" cy="640.46" r="5.5" fill="#ff8969"/><circle cx="458.4" cy="657.23" r="5.5" fill="#ff9475"/><circle cx="488.4" cy="657.23" r="3.8" fill="#ffa88d"/><circle cx="517.7" cy="657.23" r="7.3" fill="#ff6846"/><circle cx="547.3" cy="657.23" r="3.2" fill="#ffa88d"/><circle cx="576.7" cy="657.23" r="2.0" fill="#ffb299"/><circle cx="606.3" cy="657.23" r="4.4" fill="#ff9e81"/><circle cx="458.4" cy="674" r="3.8" fill="#ffa88d"/><circle cx="488.4" cy="674" r="5.8" fill="#ff8969"/><circle cx="517.7" cy="674" r="4.1" fill="#ff9e81"/><circle cx="547.3" cy="674" r="6.1" fill="#ff8969"/><circle cx="576.7" cy="674" r="3.8" fill="#ff9e81"/><circle cx="606.3" cy="674" r="6.7" fill="#ff8565"/><circle cx="458.4" cy="690.77" r="6.7" fill="#ff7e5e"/><circle cx="488.4" cy="690.77" r="4.1" fill="#ffa88d"/><circle cx="517.7" cy="690.77" r="1.8" fill="#ffb299"/><circle cx="547.3" cy="690.77" r="7.3" fill="#ff6f4d"/><circle cx="576.7" cy="690.77" r="2.6" fill="#ffae95"/><circle cx="606.3" cy="690.77" r="2.9" fill="#ffae95"/><circle cx="458.4" cy="707.54" r="5.8" fill="#ff9475"/><circle cx="488.4" cy="707.54" r="7.3" fill="#ff8969"/><circle cx="517.7" cy="707.54" r="3.8" fill="#ffa88d"/><circle cx="547.3" cy="707.54" r="4.7" fill="#ff9e81"/><circle cx="576.7" cy="707.54" r="4.7" fill="#ff9e81"/><circle cx="606.3" cy="707.54" r="2.9" fill="#ffae95"/><circle cx="458.4" cy="724.31" r="7.3" fill="#ff2a13"/><circle cx="488.4" cy="724.31" r="3.2" fill="#ffae95"/><circle cx="517.7" cy="724.31" r="5.8" fill="#ff8969"/><circle cx="547.3" cy="724.31" r="4.1" fill="#ff9e81"/><circle cx="576.7" cy="724.31" r="3.2" fill="#ffae95"/><circle cx="606.3" cy="724.31" r="2.9" fill="#ffae95"/><circle cx="458.4" cy="741.08" r="5.8" fill="#ff9475"/><circle cx="488.4" cy="741.08" r="4.1" fill="#ffa88d"/><circle cx="517.7" cy="741.08" r="3.8" fill="#ffa88d"/><circle cx="547.3" cy="741.08" r="2.0" fill="#ffb299"/><circle cx="576.7" cy="741.08" r="3.5" fill="#ffa88d"/><circle cx="606.3" cy="741.08" r="5.5" fill="#ff9475"/><circle cx="458.4" cy="757.85" r="7.6" fill="#ff7352"/><circle cx="488.4" cy="757.85" r="4.7" fill="#ff9e81"/><circle cx="517.7" cy="757.85" r="4.4" fill="#ff9e81"/><circle cx="547.3" cy="757.85" r="4.1" fill="#ffa88d"/><circle cx="576.7" cy="757.85" r="4.1" fill="#ff9e81"/><circle cx="606.3" cy="757.85" r="4.1" fill="#ffa88d"/><circle cx="458.4" cy="774.62" r="5.0" fill="#ff9e81"/><circle cx="488.4" cy="774.62" r="5.8" fill="#ff9475"/><circle cx="517.7" cy="774.62" r="1.8" fill="#ffb299"/><circle cx="547.3" cy="774.62" r="3.5" fill="#ffae95"/><circle cx="576.7" cy="774.62" r="4.7" fill="#ff9e81"/><circle cx="606.3" cy="774.62" r="2.6" fill="#ffb299"/><circle cx="458.4" cy="791.39" r="6.4" fill="#ff8d6e"/><circle cx="488.4" cy="791.39" r="4.7" fill="#ff9e81"/><circle cx="517.7" cy="791.39" r="1.2" fill="#ffb299"/><circle cx="547.3" cy="791.39" r="2.9" fill="#ffae95"/><circle cx="576.7" cy="791.39" r="2.3" fill="#ffae95"/><circle cx="606.3" cy="791.39" r="2.9" fill="#ffae95"/><circle cx="458.4" cy="808.16" r="4.1" fill="#ffa88d"/><circle cx="488.4" cy="808.16" r="5.5" fill="#ff9475"/><circle cx="517.7" cy="808.16" r="3.2" fill="#ffae95"/><circle cx="547.3" cy="808.16" r="7.3" fill="#ff6846"/><circle cx="576.7" cy="808.16" r="3.8" fill="#ff9e81"/><circle cx="606.3" cy="808.16" r="7.6" fill="#ff6f4d"/><circle cx="458.4" cy="824.93" r="5.3" fill="#ff9e81"/><circle cx="488.4" cy="824.93" r="6.4" fill="#ff8565"/><circle cx="517.7" cy="824.93" r="3.8" fill="#ffa88d"/><circle cx="547.3" cy="824.93" r="7.0" fill="#ff4d2e"/><circle cx="576.7" cy="824.93" r="4.7" fill="#ff9e81"/><circle cx="606.3" cy="824.93" r="7.0" fill="#ff4d2e"/>
<line x1="458.4" y1="834.6" x2="458.4" y2="837.6" stroke="#333" stroke-width="0.8"/>
<text x="462.3" y="837.8" font-size="11" fill="#111" text-anchor="end" transform="rotate(-90 462.3 837.8)">PVBC</text>
<line x1="488.4" y1="834.6" x2="488.4" y2="837.6" stroke="#333" stroke-width="0.8"/>
<text x="492.3" y="837.8" font-size="11" fill="#111" text-anchor="end" transform="rotate(-90 492.3 837.8)">LPC</text>
<line x1="517.7" y1="834.6" x2="517.7" y2="837.6" stroke="#333" stroke-width="0.8"/>
<text x="521.6" y="837.8" font-size="11" fill="#111" text-anchor="end" transform="rotate(-90 521.6 837.8)">CHC</text>
<line x1="547.3" y1="834.6" x2="547.3" y2="837.6" stroke="#333" stroke-width="0.8"/>
<text x="551.2" y="837.8" font-size="11" fill="#111" text-anchor="end" transform="rotate(-90 551.2 837.8)">MNC</text>
<line x1="576.7" y1="834.6" x2="576.7" y2="837.6" stroke="#333" stroke-width="0.8"/>
<text x="580.6" y="837.8" font-size="11" fill="#111" text-anchor="end" transform="rotate(-90 580.6 837.8)">ISC</text>
<line x1="606.3" y1="834.6" x2="606.3" y2="837.6" stroke="#333" stroke-width="0.8"/>
<text x="610.2" y="837.8" font-size="11" fill="#111" text-anchor="end" transform="rotate(-90 610.2 837.8)">CCKC</text>
<text x="635.2" y="604.5" font-size="7.7" fill="#111">−log10 pvalue</text>
<circle cx="644.3" cy="614.5" r="4" fill="#000"/>
<text x="655.3" y="617.3" font-size="7.7" fill="#111">1</text>
<circle cx="644.3" cy="626.9" r="6" fill="#000"/>
<text x="655.3" y="629.7" font-size="7.7" fill="#111">2</text>
<circle cx="644.3" cy="641.3" r="7.4" fill="#000"/>
<text x="655.3" y="644.1" font-size="7.7" fill="#111">3</text>
<text x="635.2" y="671.9" font-size="7.7" fill="#111">NES</text>
<rect x="635" y="677.1" width="11.1" height="53.8" fill="url(#rg)"/>
<line x1="635" y1="681.2" x2="637.2" y2="681.2" stroke="#fff" stroke-width="0.5"/><line x1="643.9" y1="681.2" x2="646.1" y2="681.2" stroke="#fff" stroke-width="0.5"/>
<text x="650.5" y="684" font-size="7.7" fill="#111">2.5</text>
<line x1="635" y1="691.42" x2="637.2" y2="691.42" stroke="#fff" stroke-width="0.5"/><line x1="643.9" y1="691.42" x2="646.1" y2="691.42" stroke="#fff" stroke-width="0.5"/>
<text x="650.5" y="694.22" font-size="7.7" fill="#111">2.0</text>
<line x1="635" y1="701.64" x2="637.2" y2="701.64" stroke="#fff" stroke-width="0.5"/><line x1="643.9" y1="701.64" x2="646.1" y2="701.64" stroke="#fff" stroke-width="0.5"/>
<text x="650.5" y="704.44" font-size="7.7" fill="#111">1.5</text>
<line x1="635" y1="711.86" x2="637.2" y2="711.86" stroke="#fff" stroke-width="0.5"/><line x1="643.9" y1="711.86" x2="646.1" y2="711.86" stroke="#fff" stroke-width="0.5"/>
<text x="650.5" y="714.66" font-size="7.7" fill="#111">1.0</text>
<line x1="635" y1="722.08" x2="637.2" y2="722.08" stroke="#fff" stroke-width="0.5"/><line x1="643.9" y1="722.08" x2="646.1" y2="722.08" stroke="#fff" stroke-width="0.5"/>
<text x="650.5" y="724.88" font-size="7.7" fill="#111">0.5</text>
</svg></body></html>
